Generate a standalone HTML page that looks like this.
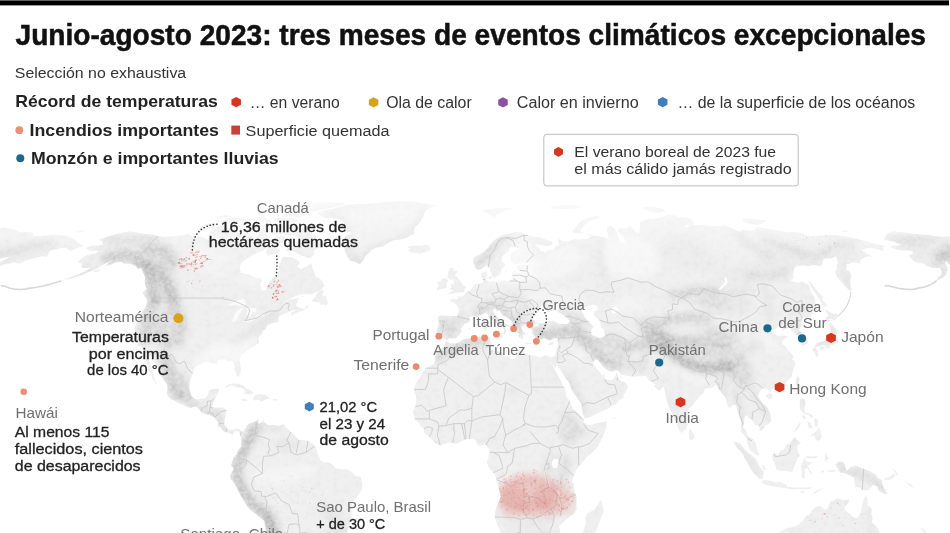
<!DOCTYPE html>
<html lang="es"><head><meta charset="utf-8"><title>Junio-agosto 2023: tres meses de eventos climáticos excepcionales</title>
<style>html,body{margin:0;padding:0;background:#fff;width:950px;height:533px;overflow:hidden}svg{display:block}text{font-family:'Liberation Sans', Arial, sans-serif}</style>
</head><body>
<svg width="950" height="533" viewBox="0 0 950 533" style="will-change:transform">
<rect width="950" height="533" fill="#fff"/>

<defs>
 <clipPath id="landclip"><path d="M86.2,247.3 89.3,246.4 92.3,245.5 94.1,245.6 95.8,245.7 97.6,245.8 100.5,245.1 103.4,244.4 102.9,242.8 102.4,241.3 101.1,240.7 99.8,240.1 98.4,239.6 101.0,238.7 103.6,237.9 107.1,236.8 110.6,235.6 113.3,234.8 116.1,234.0 118.8,233.2 121.5,232.7 124.1,232.2 126.7,231.7 129.4,231.2 130.9,231.4 132.3,231.7 133.8,231.9 135.3,232.1 136.8,232.3 138.6,232.7 140.3,233.0 142.1,233.4 143.9,233.7 145.6,233.9 147.4,234.0 149.1,234.2 150.9,234.4 152.6,234.5 154.3,235.0 156.0,235.5 157.7,235.9 159.5,236.2 161.4,236.5 163.3,236.8 165.2,236.7 167.1,236.6 169.0,236.5 171.3,236.3 173.6,236.2 176.1,235.9 178.5,235.5 181.0,235.2 183.5,234.8 186.1,234.3 188.8,233.7 189.8,234.5 190.9,235.4 191.9,236.2 194.0,236.3 196.0,236.4 198.1,236.5 200.2,236.6 202.2,236.8 203.8,237.5 205.3,238.2 206.9,238.9 208.5,239.7 210.1,240.4 212.3,240.4 214.5,240.4 216.7,240.4 218.8,240.4 221.0,240.4 223.5,240.0 226.0,239.6 228.5,239.1 231.0,238.7 232.9,239.2 234.7,239.6 236.6,240.1 238.4,240.5 240.3,241.0 242.8,240.5 245.3,240.0 247.9,239.6 249.5,239.9 251.1,240.1 252.7,240.4 255.2,238.3 257.7,236.2 258.5,233.4 259.4,230.7 261.2,230.0 263.1,229.3 264.2,229.6 265.2,229.9 265.3,232.0 265.5,234.3 266.9,235.4 268.3,236.5 269.8,237.6 271.0,238.5 272.3,239.5 273.5,240.4 275.4,238.2 277.3,235.9 279.2,235.9 281.1,235.9 283.0,235.9 284.8,235.9 284.5,237.9 284.1,239.9 283.0,241.4 281.9,243.0 279.4,243.5 276.9,244.1 274.4,244.7 272.0,245.0 269.6,245.3 266.4,247.9 263.3,250.5 260.8,251.4 258.4,252.4 255.9,253.4 252.6,255.3 249.2,257.2 245.4,259.7 241.7,262.3 240.6,264.8 239.6,267.4 240.1,270.2 240.7,272.9 242.9,273.3 245.1,273.7 247.3,274.1 249.5,274.5 251.2,275.4 252.8,276.3 254.5,277.2 256.2,278.2 258.3,278.4 260.4,278.6 262.5,278.8 261.6,281.0 260.7,283.2 259.9,285.4 260.9,288.0 262.0,290.7 263.9,290.4 265.9,290.1 267.3,286.9 268.7,283.8 270.2,280.7 273.2,278.6 276.2,276.6 277.5,274.0 278.8,271.4 279.0,268.3 279.2,265.3 280.2,263.0 281.2,260.8 282.0,258.7 282.8,256.6 285.0,256.8 287.2,256.9 289.4,257.1 291.7,257.2 293.5,258.2 295.4,259.2 297.3,260.2 298.6,261.2 299.9,262.3 298.6,264.5 297.3,266.8 299.3,267.9 301.2,268.9 304.1,267.6 307.0,266.2 309.1,264.5 311.3,262.9 311.8,265.3 312.3,267.7 313.2,270.0 314.2,272.3 315.1,274.5 315.9,276.6 317.5,277.6 319.1,278.6 320.8,279.6 322.4,280.7 323.3,283.6 324.3,286.6 322.2,288.5 320.1,290.4 317.3,291.7 314.6,293.0 311.8,294.2 309.6,294.2 307.3,294.2 305.1,294.2 302.8,294.2 300.6,294.2 298.2,295.2 295.8,296.1 293.4,297.1 291.2,298.3 288.9,299.5 286.6,300.6 283.8,302.6 281.1,304.5 284.1,302.8 287.2,301.1 290.2,299.4 292.6,299.0 294.9,298.6 297.2,298.2 299.5,297.7 298.5,299.8 297.6,301.9 296.0,303.9 296.9,307.1 298.9,307.5 300.9,308.0 302.9,308.4 305.3,309.4 308.4,307.1 307.5,304.5 305.6,307.4 303.7,310.4 300.9,311.3 298.1,312.3 295.9,313.4 293.8,314.5 291.6,315.6 291.1,312.6 293.6,311.3 296.1,310.0 294.2,310.0 292.3,310.0 290.4,311.2 288.6,312.3 286.0,313.3 283.4,314.3 281.7,314.9 279.9,315.6 277.8,318.5 278.9,321.5 277.1,322.5 274.6,322.8 271.8,323.6 269.0,324.4 267.3,325.7 266.4,328.1 263.6,331.0 262.5,329.0 262.5,331.0 262.5,333.0 261.0,334.8 259.5,336.6 258.3,337.3 258.7,340.1 259.1,342.9 256.0,344.9 253.8,346.3 251.6,347.6 249.6,348.8 247.6,349.9 245.0,351.9 243.2,353.2 241.4,354.6 240.5,357.1 239.5,359.5 240.0,362.5 240.5,365.5 240.7,368.4 240.9,371.2 240.4,373.0 239.9,374.8 238.6,376.5 236.9,376.2 235.9,372.8 235.1,371.0 234.3,369.2 234.4,367.4 234.5,365.5 233.5,362.2 231.7,360.5 230.1,361.0 228.5,361.5 227.1,360.4 225.7,359.2 223.6,359.2 221.6,359.2 219.6,359.7 217.5,360.2 217.4,363.2 215.6,363.4 213.8,363.5 211.9,362.7 210.1,361.9 207.6,361.7 205.2,361.5 202.2,362.9 199.6,364.4 197.1,365.9 194.0,368.5 193.3,371.2 192.6,373.8 191.7,376.3 190.8,378.8 190.2,381.2 189.7,383.5 189.2,385.8 189.5,388.5 189.9,391.1 190.9,393.8 191.9,396.4 193.4,397.6 194.9,398.7 197.0,399.7 199.5,399.1 202.0,398.4 203.8,398.2 205.7,398.1 207.8,395.1 208.4,392.8 209.0,390.4 211.8,389.6 214.6,388.8 216.7,388.8 218.8,388.8 219.1,390.8 217.9,393.1 216.7,395.4 215.9,397.4 215.0,399.4 213.2,402.7 212.7,404.9 212.1,407.0 214.9,407.7 217.0,407.5 219.2,407.4 221.5,407.5 223.9,407.7 225.3,409.0 226.7,410.3 226.2,412.8 225.7,415.3 225.0,417.9 224.4,420.6 224.4,422.4 224.4,424.2 225.8,426.4 227.2,428.5 230.0,430.5 232.8,429.8 235.8,428.2 237.9,428.8 240.0,429.5 241.8,431.8 243.3,431.5 245.1,428.8 246.1,427.0 247.0,425.2 249.4,423.6 251.3,423.1 253.2,422.6 255.1,421.6 257.0,420.6 259.7,418.9 257.8,421.6 258.8,423.9 260.7,422.7 262.6,421.6 263.3,419.6 264.3,421.9 266.2,423.6 268.0,425.2 270.7,425.0 273.5,424.9 276.0,425.4 278.5,425.9 280.7,425.2 282.8,424.6 284.4,424.6 286.0,424.6 284.2,426.2 286.2,427.9 288.3,429.5 290.5,431.5 292.4,433.1 294.3,434.8 296.5,437.4 299.3,440.1 301.8,440.1 304.4,440.1 306.2,440.4 308.1,440.7 310.3,442.1 312.6,443.4 314.8,445.7 316.2,448.3 316.7,450.8 317.3,453.3 319.0,456.6 319.7,458.6 320.4,460.5 322.0,461.5 323.5,462.5 325.5,462.4 327.5,462.2 330.0,463.3 332.4,464.5 334.0,466.5 335.6,468.5 338.0,468.8 340.4,469.1 342.8,469.2 345.2,469.3 347.5,469.5 349.7,470.8 351.8,472.1 353.7,474.1 355.6,476.1 358.0,476.4 360.5,476.7 361.6,479.7 362.1,482.2 362.6,484.6 362.2,487.1 361.9,489.6 360.6,491.7 359.4,493.9 357.8,495.5 356.1,497.2 354.4,500.0 352.6,502.8 352.0,505.3 351.4,507.8 351.5,511.1 351.6,514.4 351.7,517.7 350.9,521.0 350.1,524.3 349.1,526.8 348.2,529.3 347.3,532.6 344.7,535.6 343.1,535.8 341.4,536.0 339.5,536.5 337.6,537.0 335.4,538.1 333.1,539.3 331.1,541.4 329.1,543.6 328.3,545.6 327.6,547.6 327.9,550.4 328.2,553.2 327.2,555.8 326.2,558.3 325.3,560.9 323.0,564.2 320.7,567.5 319.1,570.0 317.4,572.5 315.4,573.6 313.3,574.7 311.2,575.8 310.0,579.1 308.8,582.5 307.7,585.8 305.3,587.4 303.0,589.1 300.7,590.7 298.5,592.4 296.3,594.6 294.2,596.8 292.1,598.9 290.0,600.9 287.9,602.9 285.8,604.8 283.8,606.8 281.7,608.8 279.2,608.8 276.6,608.8 274.0,608.8 271.4,608.8 270.7,605.5 270.1,602.2 269.4,598.9 268.8,595.7 268.2,592.4 267.4,589.1 266.7,585.8 266.0,582.5 266.5,580.0 267.0,577.5 267.2,574.7 267.5,572.0 267.7,569.2 267.2,565.9 266.8,562.5 266.4,559.2 266.0,555.9 265.8,552.6 266.2,549.2 266.6,545.9 266.4,543.3 266.2,540.6 266.0,537.9 266.0,535.5 265.9,533.1 265.9,530.6 265.3,527.3 264.8,524.0 264.2,520.7 262.5,519.4 260.9,518.0 259.2,516.7 257.5,515.4 255.2,513.7 253.0,512.1 250.6,509.9 248.3,507.8 245.8,504.5 244.5,502.0 243.1,499.5 241.4,496.7 239.6,493.9 238.3,490.9 237.0,487.9 235.6,485.5 234.2,483.0 232.6,481.3 230.9,479.7 230.4,477.5 229.9,475.4 231.3,473.2 232.7,471.1 233.7,468.1 230.9,465.8 231.5,463.7 232.2,461.5 232.8,459.4 233.4,457.2 235.0,455.9 236.6,454.6 237.5,451.3 239.2,449.0 241.0,446.7 241.2,444.0 241.4,441.4 241.2,439.4 241.0,437.4 240.1,435.1 239.2,432.8 237.1,430.5 234.4,431.8 233.6,433.6 232.8,435.5 231.2,434.1 229.5,433.3 227.9,432.5 225.9,432.2 223.9,431.8 222.2,429.7 220.5,427.5 218.0,426.2 218.5,423.2 217.1,421.2 215.7,419.3 213.7,416.9 210.9,416.0 209.0,415.1 207.1,414.3 205.2,414.0 203.2,413.6 201.8,412.3 200.4,411.0 198.8,409.2 197.2,407.4 194.8,406.4 192.8,407.2 190.9,408.0 188.8,407.5 186.8,407.0 185.1,406.0 183.4,405.0 180.7,404.0 178.0,403.0 176.5,401.9 175.0,400.7 173.0,400.1 171.0,399.4 169.4,397.7 167.8,396.1 166.2,392.8 167.5,389.8 167.4,387.5 167.3,385.1 165.5,382.8 164.2,380.7 162.8,378.5 161.5,376.8 160.3,375.2 160.0,373.2 159.8,371.2 158.7,369.5 157.6,367.9 156.4,365.9 155.1,363.9 154.4,360.9 153.8,357.9 151.9,356.4 150.1,354.9 149.4,357.4 148.8,359.9 149.7,362.0 150.6,364.2 151.0,366.4 151.4,368.5 152.4,371.0 153.5,373.5 154.0,376.5 154.6,379.5 155.8,381.3 157.1,383.1 155.5,384.1 155.2,381.8 153.7,380.2 152.3,378.5 151.9,376.7 151.5,374.8 149.7,371.8 148.4,370.5 147.1,369.2 148.4,366.5 147.5,364.2 146.6,361.9 145.4,358.6 145.1,356.6 144.7,354.6 144.4,352.2 144.0,349.2 142.3,347.9 140.6,346.6 138.9,345.9 137.3,345.3 137.4,342.6 136.0,339.3 135.7,336.6 136.2,334.0 135.4,332.3 134.7,330.7 134.7,328.4 134.8,326.1 136.2,323.8 137.7,321.5 138.1,319.5 138.5,317.5 140.2,314.9 142.1,312.3 143.6,309.7 145.2,307.1 145.9,305.3 146.6,303.5 146.8,301.8 147.0,300.0 145.9,298.4 144.6,296.3 143.3,294.2 142.4,292.3 144.8,290.7 147.1,289.1 146.3,287.9 145.5,286.6 145.0,284.1 144.6,281.6 145.3,278.5 144.8,276.8 144.3,275.1 143.5,273.5 142.7,272.0 142.1,270.2 141.5,268.3 139.7,268.6 137.9,268.9 137.0,267.6 136.1,266.2 134.4,265.4 132.6,264.7 130.7,264.2 128.7,263.8 126.4,263.8 124.0,263.8 122.6,262.7 121.2,261.7 118.8,262.0 116.5,262.3 113.5,263.6 110.6,265.0 107.8,265.6 105.1,266.2 107.0,264.2 109.0,262.3 111.5,261.2 113.9,260.2 111.3,261.1 108.8,262.0 106.2,262.9 103.5,264.5 100.8,266.2 96.0,269.2 92.7,270.5 89.4,271.7 86.7,272.9 83.9,274.1 81.2,275.4 78.9,276.1 76.6,276.8 74.3,277.5 71.2,278.3 68.1,279.1 65.0,279.9 61.9,280.7 64.2,279.7 66.4,278.8 69.7,277.5 72.9,276.3 76.3,275.2 79.6,274.1 82.9,272.5 86.2,270.8 90.3,267.7 88.3,267.9 86.2,268.0 84.1,268.0 82.0,268.0 81.6,267.0 81.1,265.9 83.1,263.8 81.7,263.5 80.3,263.2 78.9,262.9 78.3,261.1 81.5,258.4 85.6,255.4 87.6,255.0 89.5,254.6 91.6,254.2 93.6,253.8 95.7,253.4 98.9,250.8 97.1,250.6 95.3,250.5 93.5,250.5 91.6,250.5 89.7,250.5 88.5,250.0 87.3,249.6 86.6,248.1Z M890.2,247.3 891.2,246.4 892.2,245.5 894.2,245.6 896.2,245.7 898.1,245.8 899.3,245.1 900.5,244.4 896.2,242.8 891.9,241.3 889.1,240.7 886.4,240.1 883.7,239.6 884.2,238.7 884.7,237.9 885.3,236.8 885.9,235.6 886.5,234.8 887.1,234.0 887.7,233.2 889.1,232.7 890.4,232.2 891.8,231.7 893.1,231.2 895.2,231.4 897.3,231.7 899.4,231.9 901.4,232.1 903.5,232.3 906.2,232.7 908.8,233.0 911.5,233.4 914.2,233.7 916.3,233.9 918.5,234.0 920.7,234.2 922.9,234.4 925.1,234.5 928.0,235.0 930.8,235.5 933.7,235.9 936.3,236.2 938.9,236.5 941.5,236.8 943.1,236.7 944.8,236.6 946.4,236.5 948.4,236.3 950.3,236.2 951.9,235.9 953.5,235.5 955.1,235.2 956.7,234.8 957.9,234.3 959.1,233.7 962.3,234.5 965.5,235.4 968.7,236.2 971.0,236.3 973.3,236.4 975.7,236.5 978.0,236.6 980.4,236.8 983.8,237.5 987.2,238.2 990.6,238.9 994.0,239.7 997.5,240.4 999.6,240.4 1001.8,240.4 1004.0,240.4 1006.2,240.4 1008.4,240.4 1009.8,240.0 1011.3,239.6 1012.7,239.1 1014.2,238.7 1017.1,239.2 1020.1,239.6 1023.1,240.1 1026.1,240.5 1029.1,241.0 1030.4,240.5 1031.8,240.0 1033.1,239.6 1035.4,239.9 1037.8,240.1 1040.1,240.4 1037.3,238.3 1034.5,236.2 1028.1,233.4 1021.7,230.7 1021.7,230.0 1021.7,229.3 1023.6,229.6 1025.4,229.9 1031.3,232.0 1037.2,234.3 1041.5,235.4 1045.8,236.5 1050.1,237.6 1053.7,238.5 1057.3,239.5 1060.9,240.4 1057.1,238.2 1053.3,235.9 1055.2,235.9 1057.1,235.9 1059.0,235.9 1060.9,235.9 1065.5,237.9 1070.1,239.9 1072.8,241.4 1075.6,243.0 1074.4,243.5 1073.3,244.1 1072.1,244.7 1070.5,245.0 1068.8,245.3 1071.8,247.9 1074.7,250.5 1074.5,251.4 1074.3,252.4 1074.1,253.4 1075.1,255.3 1076.0,257.2 1077.8,259.7 1079.5,262.3 1083.9,264.8 1088.2,267.4 1094.3,270.2 1100.5,272.9 1103.4,273.3 1106.4,273.7 1109.3,274.1 1112.3,274.5 1115.8,275.4 1119.2,276.3 1122.7,277.2 1126.2,278.2 1128.7,278.4 1131.1,278.6 1133.6,278.8 1136.9,281.0 1140.1,283.2 1143.3,285.4 1149.0,288.0 1154.8,290.7 1156.2,290.4 1157.7,290.1 1153.5,286.9 1149.2,283.8 1144.8,280.7 1144.0,278.6 1143.2,276.6 1139.4,274.0 1135.6,271.4 1129.5,268.3 1123.4,265.3 1119.6,263.0 1115.8,260.8 1112.1,258.7 1108.2,256.6 1110.8,256.8 1113.3,256.9 1115.9,257.1 1118.4,257.2 1122.5,258.2 1126.5,259.2 1130.6,260.2 1134.1,261.2 1137.7,262.3 1141.2,264.5 1144.7,266.8 1148.8,267.9 1153.0,268.9 1153.0,267.6 1153.1,266.2 1151.7,264.5 1150.4,262.9 1156.0,265.3 1161.5,267.7 1167.2,270.0 1172.8,272.3 1177.9,274.5 1182.9,276.6 1186.5,277.6 1190.0,278.6 1193.5,279.6 1197.1,280.7 1203.5,283.6 1209.9,286.6 1211.2,288.5 1212.4,290.4 1211.8,291.7 1211.2,293.0 1210.6,294.2 1208.4,294.2 1206.1,294.2 1203.9,294.2 1201.6,294.2 1199.4,294.2 1198.6,295.2 1197.8,296.1 1197.0,297.1 1196.7,298.3 1196.3,299.5 1195.9,300.6 1196.2,302.6 1196.5,304.5 1196.8,302.8 1197.2,301.1 1197.5,299.4 1199.2,299.0 1200.8,298.6 1202.5,298.2 1204.2,297.7 1206.6,299.8 1208.9,301.9 1210.4,303.9 1216.2,307.1 1218.9,307.5 1221.6,308.0 1224.2,308.4 1228.0,309.4 1227.7,307.1 1222.9,304.5 1225.4,307.4 1227.9,310.4 1226.5,311.3 1225.1,312.3 1224.5,313.4 1223.9,314.5 1223.2,315.6 1218.5,312.6 1219.2,311.3 1219.8,310.0 1217.9,310.0 1216.0,310.0 1215.8,311.2 1215.6,312.3 1214.4,313.3 1213.2,314.3 1212.4,314.9 1211.6,315.6 1213.6,318.5 1218.6,321.5 1218.1,322.5 1216.1,322.8 1214.3,323.6 1212.6,324.4 1212.6,325.7 1214.7,328.1 1215.5,331.0 1211.9,329.0 1214.4,331.0 1216.8,333.0 1217.5,334.8 1218.1,336.6 1217.6,337.3 1221.2,340.1 1224.7,342.9 1223.7,344.9 1222.9,346.3 1222.1,347.6 1221.3,348.8 1220.5,349.9 1219.9,351.9 1219.4,353.2 1218.9,354.6 1220.4,357.1 1221.7,359.5 1224.9,362.5 1228.0,365.5 1230.6,368.4 1233.0,371.2 1234.0,373.0 1235.0,374.8 1234.8,376.5 1233.0,376.2 1229.4,372.8 1227.1,371.0 1224.9,369.2 1223.5,367.4 1222.0,365.5 1218.1,362.2 1214.8,360.5 1213.6,361.0 1212.5,361.5 1210.0,360.4 1207.6,359.2 1205.5,359.2 1203.5,359.2 1201.9,359.7 1200.4,360.2 1202.9,363.2 1201.3,363.4 1199.6,363.5 1197.0,362.7 1194.4,361.9 1191.8,361.7 1189.2,361.5 1187.4,362.9 1186.1,364.4 1184.9,365.9 1184.1,368.5 1185.5,371.2 1186.9,373.8 1187.8,376.3 1188.8,378.8 1189.9,381.2 1191.0,383.5 1192.0,385.8 1194.1,388.5 1196.2,391.1 1198.7,393.8 1201.2,396.4 1203.4,397.6 1205.5,398.7 1208.2,399.7 1210.3,399.1 1212.4,398.4 1214.2,398.2 1215.9,398.1 1216.4,395.1 1215.6,392.8 1214.9,390.4 1217.1,389.6 1219.4,388.8 1221.5,388.8 1223.6,388.8 1225.1,390.8 1225.3,393.1 1225.5,395.4 1225.8,397.4 1226.0,399.4 1225.9,402.7 1226.4,404.9 1226.9,407.0 1230.0,407.7 1232.0,407.5 1234.1,407.4 1236.5,407.5 1239.0,407.7 1241.0,409.0 1243.0,410.3 1243.5,412.8 1244.0,415.3 1244.4,417.9 1244.7,420.6 1245.3,422.4 1245.9,424.2 1247.9,426.4 1250.0,428.5 1253.2,430.5 1255.9,429.8 1258.4,428.2 1260.7,428.8 1263.0,429.5 1265.4,431.8 1266.8,431.5 1267.9,428.8 1268.4,427.0 1268.8,425.2 1270.7,423.6 1272.4,423.1 1274.1,422.6 1275.7,421.6 1277.3,420.6 1279.3,418.9 1278.4,421.6 1280.1,423.9 1281.7,422.7 1283.2,421.6 1283.2,419.6 1285.0,421.9 1287.4,423.6 1289.8,425.2 1292.5,425.0 1295.1,424.9 1297.8,425.4 1300.5,425.9 1302.4,425.2 1304.4,424.6 1306.0,424.6 1307.5,424.6 1306.2,426.2 1308.8,427.9 1311.3,429.5 1314.0,431.5 1316.3,433.1 1318.6,434.8 1321.3,437.4 1324.6,440.1 1327.1,440.1 1329.7,440.1 1331.6,440.4 1333.5,440.7 1336.0,442.1 1338.4,443.4 1341.0,445.7 1342.6,448.3 1343.4,450.8 1344.1,453.3 1345.9,456.6 1346.7,458.6 1347.4,460.5 1349.0,461.5 1350.5,462.5 1352.5,462.4 1354.5,462.2 1356.9,463.3 1359.3,464.5 1360.8,466.5 1362.3,468.5 1364.7,468.8 1367.1,469.1 1369.4,469.2 1371.8,469.3 1374.2,469.5 1376.2,470.8 1378.2,472.1 1379.9,474.1 1381.5,476.1 1383.9,476.4 1386.2,476.7 1387.0,479.7 1387.0,482.2 1386.9,484.6 1386.0,487.1 1385.0,489.6 1383.2,491.7 1381.4,493.9 1379.2,495.5 1377.1,497.2 1374.4,500.0 1371.6,502.8 1370.0,505.3 1368.4,507.8 1367.0,511.1 1365.6,514.4 1364.0,517.7 1361.5,521.0 1358.9,524.3 1356.4,526.8 1354.0,529.3 1351.0,532.6 1346.5,535.6 1344.7,535.8 1342.9,536.0 1340.7,536.5 1338.4,537.0 1335.4,538.1 1332.3,539.3 1328.7,541.4 1325.1,543.6 1322.8,545.6 1320.5,547.6 1318.6,550.4 1316.5,553.2 1313.4,555.8 1310.2,558.3 1306.9,560.9 1301.5,564.2 1296.0,567.5 1291.8,570.0 1287.6,572.5 1284.4,573.6 1281.2,574.7 1277.9,575.8 1273.1,579.1 1268.1,582.5 1263.1,585.8 1258.8,587.4 1254.5,589.1 1250.2,590.7 1245.8,592.4 1240.9,594.6 1235.9,596.8 1230.9,598.9 1226.2,600.9 1221.4,602.9 1216.5,604.8 1211.7,606.8 1206.8,608.8 1204.3,608.8 1201.7,608.8 1199.1,608.8 1196.6,608.8 1200.6,605.5 1204.4,602.2 1208.2,598.9 1212.0,595.7 1215.6,592.4 1218.9,589.1 1222.2,585.8 1225.3,582.5 1228.6,580.0 1231.9,577.5 1235.1,574.7 1238.2,572.0 1241.3,569.2 1244.1,565.9 1246.8,562.5 1249.5,559.2 1252.1,555.9 1254.7,552.6 1257.8,549.2 1260.9,545.9 1262.7,543.3 1264.5,540.6 1266.2,537.9 1267.8,535.5 1269.4,533.1 1270.9,530.6 1272.4,527.3 1273.7,524.0 1275.0,520.7 1274.0,519.4 1273.0,518.0 1272.0,516.7 1271.0,515.4 1269.5,513.7 1268.0,512.1 1266.7,509.9 1265.3,507.8 1264.1,504.5 1263.7,502.0 1263.3,499.5 1262.5,496.7 1261.6,493.9 1261.1,490.9 1260.6,487.9 1259.7,485.5 1258.9,483.0 1257.6,481.3 1256.2,479.7 1256.1,477.5 1255.9,475.4 1257.5,473.2 1259.1,471.1 1260.5,468.1 1257.7,465.8 1258.5,463.7 1259.3,461.5 1259.8,459.4 1260.4,457.2 1261.9,455.9 1263.4,454.6 1264.1,451.3 1265.7,449.0 1267.2,446.7 1267.1,444.0 1266.9,441.4 1266.4,439.4 1265.8,437.4 1264.4,435.1 1263.0,432.8 1260.3,430.5 1258.0,431.8 1257.6,433.6 1257.2,435.5 1255.3,434.1 1253.5,433.3 1251.6,432.5 1249.5,432.2 1247.5,431.8 1245.2,429.7 1242.9,427.5 1240.1,426.2 1239.7,423.2 1237.6,421.2 1235.5,419.3 1232.6,416.9 1229.5,416.0 1227.3,415.1 1225.1,414.3 1223.0,414.0 1220.9,413.6 1218.9,412.3 1217.0,411.0 1214.5,409.2 1212.1,407.4 1209.2,406.4 1207.7,407.2 1206.1,408.0 1203.8,407.5 1201.6,407.0 1199.4,406.0 1197.2,405.0 1194.0,404.0 1190.9,403.0 1188.8,401.9 1186.6,400.7 1184.3,400.1 1181.9,399.4 1179.5,397.7 1177.0,396.1 1173.4,392.8 1172.9,389.8 1171.3,387.5 1169.7,385.1 1166.4,382.8 1163.5,380.7 1160.6,378.5 1158.1,376.8 1155.6,375.2 1153.8,373.2 1152.0,371.2 1149.6,369.5 1147.1,367.9 1144.1,365.9 1141.2,363.9 1137.9,360.9 1134.5,357.9 1131.2,356.4 1127.9,354.9 1129.7,357.4 1131.4,359.9 1134.2,362.0 1137.0,364.2 1139.2,366.4 1141.4,368.5 1144.5,371.0 1147.5,373.5 1150.3,376.5 1153.1,379.5 1155.6,381.3 1158.2,383.1 1157.3,384.1 1155.3,381.8 1152.7,380.2 1150.1,378.5 1148.3,376.7 1146.5,374.8 1142.4,371.8 1140.1,370.5 1137.7,369.2 1136.7,366.5 1133.8,364.2 1130.9,361.9 1126.7,358.6 1124.5,356.6 1122.3,354.6 1119.6,352.2 1116.3,349.2 1113.2,347.9 1110.1,346.6 1107.8,345.9 1105.4,345.3 1102.7,342.6 1097.6,339.3 1094.3,336.6 1091.7,334.0 1088.9,332.3 1086.2,330.7 1083.4,328.4 1080.5,326.1 1079.0,323.8 1077.4,321.5 1075.1,319.5 1072.9,317.5 1071.0,314.9 1069.1,312.3 1066.8,309.7 1064.5,307.1 1062.5,305.3 1060.5,303.5 1057.9,301.8 1055.3,300.0 1051.6,298.4 1046.8,296.3 1042.1,294.2 1038.0,292.3 1037.6,290.7 1037.2,289.1 1034.2,287.9 1031.1,286.6 1026.1,284.1 1021.1,281.6 1015.9,278.5 1012.1,276.8 1008.3,275.1 1004.5,273.5 1000.7,272.0 996.3,270.2 992.0,268.3 990.8,268.6 989.7,268.9 986.0,267.6 982.2,266.2 978.9,265.4 975.6,264.7 972.7,264.2 969.7,263.8 967.4,263.8 965.1,263.8 961.4,262.7 957.7,261.7 956.0,262.0 954.3,262.3 954.2,263.6 954.2,265.0 952.7,265.6 951.2,266.2 949.0,264.2 946.9,262.3 947.1,261.2 947.2,260.2 946.6,261.1 945.9,262.0 945.3,262.9 946.1,264.5 946.9,266.2 948.4,269.2 947.6,270.5 946.7,271.7 946.4,272.9 946.1,274.1 945.8,275.4 944.9,276.1 944.0,276.8 943.1,277.5 941.5,278.3 939.9,279.1 938.3,279.9 936.6,280.7 937.1,279.7 937.6,278.8 938.5,277.5 939.3,276.3 940.6,275.2 941.8,274.1 941.7,272.5 941.6,270.8 939.6,267.7 937.8,267.9 936.1,268.0 934.0,268.0 931.9,268.0 929.3,267.0 926.6,265.9 924.2,263.8 922.1,263.5 920.1,263.2 918.0,262.9 913.6,261.1 910.9,258.4 908.4,255.4 909.4,255.0 910.3,254.6 911.5,254.2 912.7,253.8 913.9,253.4 911.0,250.8 908.9,250.6 906.8,250.5 904.9,250.5 903.0,250.5 901.1,250.5 898.9,250.0 896.7,249.6 892.6,248.1Z M359.8,264.4 357.8,263.3 355.7,262.3 353.9,261.8 352.1,261.3 350.3,260.8 348.7,258.6 347.1,256.3 345.9,253.8 344.8,251.3 344.5,249.4 344.3,247.6 343.1,244.7 343.5,242.5 343.9,240.4 344.5,238.3 345.1,236.2 347.6,235.3 350.1,234.3 352.6,233.4 350.7,232.7 348.8,232.0 347.0,231.4 345.1,230.7 344.8,228.9 344.5,227.2 344.0,224.9 343.4,222.6 342.5,221.3 341.6,220.0 339.8,219.6 338.0,219.1 336.2,218.7 334.4,218.2 332.4,218.2 330.4,218.2 328.4,218.2 326.5,218.0 324.7,217.7 322.8,217.4 321.6,216.5 320.5,215.5 319.3,214.6 318.2,213.7 318.1,212.5 320.6,211.6 323.2,210.8 325.7,210.1 327.9,209.7 330.1,209.3 332.3,208.9 334.8,208.2 337.2,207.5 339.6,206.8 342.0,206.2 344.2,205.7 346.5,205.3 348.7,204.8 350.7,204.7 352.7,204.5 354.7,204.3 356.7,204.2 358.7,204.0 360.6,203.9 362.5,203.9 364.4,203.9 366.3,203.8 368.2,203.8 370.2,203.6 372.2,203.4 374.2,203.1 376.2,202.9 378.2,202.7 380.2,202.5 382.1,202.3 384.1,202.1 386.1,201.9 388.0,201.7 390.0,201.6 391.9,201.5 393.8,201.4 395.7,201.3 397.6,201.1 399.4,201.2 401.2,201.2 403.0,201.2 404.8,201.3 406.6,201.3 408.5,201.3 410.3,201.3 412.1,201.5 413.8,201.6 415.6,201.7 417.3,202.1 419.1,202.5 420.8,202.8 422.5,203.2 424.3,203.6 426.1,203.8 427.9,204.0 429.8,204.2 431.6,204.4 433.4,204.6 435.2,204.9 437.1,205.2 438.9,205.5 436.9,206.0 435.0,206.6 433.0,207.2 430.9,207.7 428.8,208.9 426.7,210.1 425.4,211.9 424.0,213.7 423.6,216.2 422.2,218.7 420.7,221.3 418.2,223.9 415.7,226.6 414.8,228.6 414.0,230.7 414.6,233.4 412.3,234.4 410.0,235.4 407.4,237.6 405.1,238.3 402.8,238.9 400.5,239.6 398.3,239.7 396.1,239.8 393.9,239.9 391.5,241.1 389.0,242.4 386.4,244.3 383.7,246.1 381.8,246.5 379.8,246.9 377.9,247.3 375.8,248.0 373.7,248.8 371.7,249.6 369.9,251.9 367.7,254.1 365.4,256.3 364.2,258.6 363.1,260.8 361.5,262.6 359.8,264.4Z M410.6,252.5 409.2,251.0 407.9,249.6 409.5,249.2 411.2,248.7 409.0,248.1 406.9,247.6 409.2,246.6 411.6,245.5 413.3,245.7 414.9,245.8 416.8,245.8 418.6,245.8 420.5,245.8 422.4,245.4 424.3,245.1 426.2,244.7 427.8,245.1 429.4,245.5 429.2,247.9 431.3,248.7 429.5,250.0 427.7,251.3 426.0,251.9 424.2,252.5 421.9,253.1 419.5,253.7 417.3,253.2 415.1,252.8 412.8,252.7Z M314.8,254.0 313.0,255.6 311.2,257.2 309.7,257.7 308.3,258.1 306.5,257.2 304.7,256.3 302.6,255.9 300.5,255.4 299.2,254.6 297.8,253.7 296.0,252.7 294.3,251.6 292.3,251.5 290.3,251.4 288.3,251.3 287.1,250.8 285.9,250.2 288.2,247.9 290.2,247.8 292.2,247.7 294.2,247.6 296.2,247.6 299.8,244.7 302.1,242.4 301.2,240.8 300.3,239.3 298.7,238.5 297.1,237.8 295.5,237.0 295.2,234.8 292.9,235.1 290.6,235.4 288.9,235.2 287.2,235.0 285.5,234.8 283.6,234.3 281.8,233.9 279.9,233.4 278.2,233.4 276.5,233.4 274.8,233.4 273.1,233.4 272.6,232.0 272.1,230.7 274.9,228.1 277.7,225.5 279.7,225.3 281.7,225.0 283.7,224.7 285.7,224.5 287.7,224.5 289.7,224.6 291.7,224.7 293.8,224.7 295.4,225.4 297.1,226.1 298.8,226.7 300.5,227.4 301.8,228.1 303.2,228.7 304.6,229.3 306.2,230.2 307.8,231.1 309.5,232.0 310.9,232.8 312.3,233.5 313.7,234.3 314.8,235.2 316.0,236.2 316.8,239.0 318.1,239.9 319.3,240.9 320.6,241.8 322.2,242.7 323.8,243.5 325.2,245.0 323.1,246.0 321.0,247.0 318.7,248.0 316.4,249.0 313.9,250.8 314.3,252.4Z M267.9,256.0 270.1,255.2 272.3,254.4 274.5,253.6 276.7,252.8 278.5,252.4 280.3,251.9 279.3,250.8 278.4,249.6 277.0,248.6 275.7,247.7 274.3,246.7 272.3,246.4 270.2,246.1 266.3,249.0 266.2,250.9 266.0,252.8 267.0,254.4Z M241.4,237.0 239.6,237.1 237.8,237.2 236.0,237.3 234.2,237.3 233.0,236.8 231.8,236.2 229.5,236.9 227.2,237.5 224.9,238.2 223.0,238.2 221.0,238.2 219.1,238.2 217.1,238.2 215.2,238.2 213.9,237.0 212.6,235.9 211.2,235.1 209.7,234.3 209.2,232.3 212.0,230.4 211.1,229.0 213.6,228.2 216.2,227.4 218.8,226.6 221.3,225.8 222.9,226.1 224.5,226.5 226.1,226.8 227.7,227.1 229.3,227.4 231.3,227.2 233.2,226.9 235.2,226.6 235.6,228.0 236.1,229.3 236.8,231.1 237.6,232.9 239.5,233.2 241.4,233.4 241.4,235.2Z M201.5,231.5 200.3,230.9 199.1,230.2 197.9,229.6 199.9,228.1 201.8,226.6 204.4,225.0 207.0,223.4 208.9,223.3 210.7,223.3 212.6,223.2 214.5,223.2 215.6,223.8 216.7,224.4 217.9,225.0 213.8,227.2 209.8,229.3 207.0,230.0 204.2,230.8Z M247.1,230.1 249.2,230.2 251.2,230.3 253.3,230.3 255.3,230.4 257.5,229.0 259.6,227.7 260.2,226.1 260.8,224.5 259.1,224.4 257.3,224.3 255.5,224.3 253.8,224.2 251.2,225.5 248.5,226.9 247.8,228.5Z M261.4,229.3 263.0,229.3 264.6,229.3 267.3,228.4 270.1,227.4 271.7,225.9 273.2,224.5 271.3,224.3 269.3,224.2 267.3,224.1 265.4,223.9 263.6,225.5 261.9,227.2Z M244.4,239.9 246.8,239.5 249.3,239.1 251.7,238.7 253.4,236.2 251.5,235.8 249.7,235.4 247.3,236.5 244.9,237.6Z M273.9,222.1 275.7,222.2 277.5,222.4 279.3,222.5 281.1,222.6 282.9,222.8 284.7,222.9 286.8,222.8 288.9,222.8 291.0,222.7 293.0,222.7 295.1,222.6 298.9,220.0 297.5,219.5 296.1,219.0 294.7,218.5 293.3,218.0 291.5,217.9 289.7,217.8 287.9,217.7 286.1,217.6 284.3,217.5 282.6,217.4 280.6,217.8 278.5,218.1 276.5,218.4 274.5,218.7 274.2,220.4Z M281.6,217.4 283.6,217.1 285.7,216.7 287.8,216.4 289.9,216.0 291.9,215.7 293.4,216.1 294.9,216.6 296.3,217.0 297.8,217.5 299.3,218.0 302.1,216.8 304.9,215.7 307.5,214.2 310.1,212.7 312.6,212.0 315.1,211.2 317.6,210.5 319.9,210.0 322.3,209.4 324.6,208.9 326.6,208.5 328.5,208.2 330.5,207.8 332.4,207.5 334.8,206.8 337.3,206.2 339.7,205.5 341.7,205.0 343.6,204.5 345.6,204.0 344.1,203.6 342.6,203.1 341.1,202.7 339.4,202.6 337.6,202.5 335.9,202.4 334.2,202.2 332.5,202.1 330.6,202.2 328.7,202.2 326.8,202.2 325.0,202.2 323.1,202.3 321.2,202.3 319.3,202.3 317.3,202.5 315.2,202.7 313.2,202.9 311.1,203.0 309.0,203.2 307.0,203.4 304.9,203.6 302.8,203.8 300.6,204.1 298.3,204.5 296.0,204.8 293.8,205.1 291.5,205.5 288.5,206.5 285.5,207.5 286.7,208.0 287.8,208.5 289.0,209.1 290.2,209.6 291.2,210.3 292.1,211.0 293.2,211.7 290.6,212.5 288.0,213.2 285.9,213.9 283.8,214.7 282.7,216.0Z M283.7,212.5 282.3,211.9 280.9,211.2 279.7,210.5 278.5,209.7 277.4,208.9 279.8,207.5 282.2,206.2 283.7,206.3 285.3,206.4 286.8,206.5 288.4,206.6 288.6,207.7 288.9,208.9 286.3,210.7Z M248.4,220.8 246.3,221.1 244.2,221.3 242.1,221.6 240.0,221.8 237.9,222.1 235.8,222.4 233.9,222.2 232.0,222.0 230.1,221.8 228.3,221.5 226.6,221.2 224.9,220.9 223.2,220.5 226.1,219.1 229.0,217.7 231.0,217.5 233.0,217.3 235.0,217.1 237.0,216.9 239.0,216.7 240.3,217.2 241.6,217.7 242.9,218.2 244.2,218.7 245.8,218.7 247.5,218.7 249.2,218.7Z M263.3,221.3 261.7,221.1 260.0,220.9 258.4,220.7 256.8,220.5 257.0,218.0 259.3,217.6 261.6,217.3 263.9,216.9 265.1,217.5 266.2,218.1 267.4,218.7Z M269.8,222.1 267.9,222.0 265.9,221.9 263.9,221.8 266.6,219.8 268.1,219.9 269.7,220.1 271.2,220.3Z M225.5,218.2 223.4,218.2 221.4,218.2 219.4,218.2 217.4,218.2 215.9,217.7 214.4,217.2 217.1,216.6 219.7,216.0 222.3,215.5 224.9,214.9 226.4,215.1 228.0,215.3 229.5,215.5 231.1,215.7 228.3,216.9Z M263.4,214.2 261.6,213.9 259.9,213.7 258.2,213.4 256.4,213.2 259.4,212.2 262.3,211.2 264.0,211.5 265.6,211.9 267.3,212.2 268.9,212.5 266.2,213.3Z M311.3,301.6 313.0,299.5 314.7,297.4 316.0,295.3 317.3,293.3 319.3,291.5 321.3,289.8 322.7,289.9 324.1,290.1 323.2,292.8 322.2,295.5 324.2,296.0 326.2,296.5 326.6,298.2 326.9,300.0 328.0,302.9 326.3,305.8 325.0,305.2 323.8,304.5 322.1,304.7 320.4,304.8 319.2,302.6 317.2,302.3 315.2,302.1 313.3,301.8Z M224.7,387.6 227.7,385.0 229.9,384.2 232.2,383.5 234.2,383.5 236.3,383.5 239.0,384.1 241.2,385.0 243.5,385.8 245.0,387.1 246.5,388.5 248.3,389.3 250.2,390.1 252.1,391.4 254.0,392.8 251.9,393.8 249.3,393.9 246.7,394.0 244.1,394.1 245.7,391.8 244.1,390.1 242.6,388.5 239.9,387.8 237.2,387.1 235.4,386.8 233.6,386.5 231.1,385.1 228.8,386.3 226.5,387.5Z M252.8,398.4 254.4,396.6 256.0,394.8 258.0,394.4 260.0,394.1 262.8,394.4 265.5,394.8 268.2,396.4 269.6,398.4 267.5,398.9 265.3,399.4 263.1,400.4 260.9,401.4 259.4,399.7 256.7,400.1 254.0,400.4Z M241.8,399.1 243.7,399.1 245.7,399.1 247.5,400.4 244.6,401.4 241.9,400.4Z M273.0,398.7 275.2,398.9 277.4,399.1 277.0,400.4 274.9,400.6 272.8,400.7Z M300.3,295.2 302.4,296.0 304.5,296.9 306.6,297.7 304.4,297.3 302.3,296.8Z M24.4,396.7 27.3,395.4 25.6,393.1 24.6,394.8Z M23.7,390.8 25.6,391.1 24.3,391.8Z M19.9,388.5 21.3,389.5 20.2,389.5Z M16.3,386.5 17.7,386.5 16.8,387.5Z M93.2,272.3 95.9,271.8 98.7,271.4 101.0,269.2 99.3,269.5 97.6,269.9 95.4,270.6 93.2,271.4Z M951.7,272.3 953.6,271.8 955.4,271.4 953.4,269.2 952.3,269.5 951.3,269.9 950.6,270.6 949.9,271.4Z M446.6,340.6 444.8,339.0 443.0,336.6 440.3,337.3 437.9,337.3 438.3,334.0 436.5,331.7 437.1,329.4 438.2,326.7 438.8,323.4 438.7,320.2 437.5,317.9 438.8,316.2 440.9,315.2 442.9,315.4 444.8,315.6 446.7,315.7 448.7,315.9 450.6,315.9 452.5,315.9 454.7,316.1 456.9,316.2 458.0,314.3 458.5,311.0 458.8,307.8 456.5,305.2 455.3,303.5 452.8,301.9 450.2,301.6 449.5,300.0 451.2,299.4 452.8,298.7 454.3,299.0 455.8,299.4 458.1,299.0 456.9,295.8 458.6,296.8 460.4,296.6 462.1,296.5 464.1,295.2 465.6,293.3 466.1,291.7 467.8,291.4 470.3,290.4 471.5,288.8 472.9,286.9 473.4,285.4 475.8,284.1 477.3,283.9 478.7,283.8 481.2,283.5 482.8,282.5 483.2,280.7 482.4,277.9 481.1,277.2 481.2,275.5 481.2,273.8 482.1,272.6 484.3,272.3 485.5,271.5 486.8,270.8 486.4,272.6 486.1,274.5 487.8,274.8 486.0,277.2 485.1,278.5 485.9,280.3 488.1,281.0 488.7,282.2 490.1,281.9 491.6,281.6 493.7,280.7 496.3,282.5 497.8,282.1 499.3,281.6 501.7,280.7 503.2,280.2 504.8,279.7 506.8,280.7 509.0,281.0 511.3,279.4 512.8,278.2 512.4,276.0 511.8,273.5 513.3,271.4 515.3,270.8 517.3,272.9 519.2,272.9 519.5,270.2 517.9,268.9 517.0,267.1 519.1,265.6 521.4,265.3 523.2,265.3 524.9,265.3 526.3,265.1 527.7,265.0 529.1,264.5 530.6,264.1 532.5,264.1 530.9,263.6 529.3,263.2 526.8,262.3 525.1,262.4 523.3,262.6 521.6,262.9 519.9,263.2 518.2,263.6 516.6,264.1 514.2,263.8 511.6,262.0 511.0,259.3 510.9,256.9 510.0,254.9 511.1,253.8 512.2,252.8 513.5,252.1 514.7,251.3 515.8,250.5 516.9,249.6 518.5,248.4 516.6,247.3 514.2,246.7 512.9,246.7 511.6,246.7 509.7,247.9 509.3,249.6 508.0,251.9 505.9,253.4 504.8,254.3 503.6,255.1 501.7,256.6 501.6,259.3 501.6,262.0 503.0,262.6 504.3,263.2 505.6,264.7 504.0,266.8 502.7,267.9 501.4,268.9 500.9,272.0 500.0,274.5 499.1,275.4 497.8,275.7 496.5,276.0 495.9,277.9 494.5,277.9 493.0,277.9 492.7,276.6 491.6,275.1 492.0,273.8 490.2,271.7 489.6,269.2 488.2,267.1 487.0,265.9 486.4,264.4 485.6,266.2 484.0,267.1 481.7,268.9 480.0,269.4 478.2,269.9 476.3,268.9 474.8,267.4 474.8,265.6 473.8,263.8 473.2,261.4 473.1,259.0 473.8,257.2 475.8,256.0 477.3,255.4 478.7,254.9 480.9,253.4 482.4,252.7 483.8,251.9 485.7,249.9 487.1,248.7 488.4,247.6 489.4,245.5 491.2,243.3 492.3,242.1 493.4,241.0 495.4,239.6 497.4,238.2 498.8,237.3 500.1,236.5 501.3,235.9 502.5,235.4 504.0,235.0 505.6,234.5 507.2,234.3 508.7,234.0 510.3,233.6 511.8,233.2 513.3,232.6 514.8,232.0 516.9,232.0 518.6,232.2 520.2,232.3 522.4,232.6 524.1,233.3 525.9,234.0 528.2,234.8 529.4,235.4 531.1,235.9 532.9,236.5 534.7,236.7 536.6,236.9 538.4,237.0 540.8,237.7 543.1,238.4 545.6,239.4 548.0,240.4 549.8,241.1 551.7,241.8 552.7,243.8 550.9,245.5 549.1,245.8 547.3,246.1 545.3,245.7 543.4,245.4 541.5,245.0 539.8,244.8 538.1,244.7 536.4,244.5 534.7,244.4 533.0,243.0 534.6,244.5 536.2,246.1 537.9,247.6 539.7,249.0 539.9,250.8 541.4,251.0 543.0,251.3 545.4,252.2 547.3,250.5 549.3,250.3 551.2,250.2 552.9,250.5 553.5,248.4 554.9,247.3 556.2,246.1 557.8,245.8 559.4,245.5 559.2,242.7 557.4,240.4 558.5,239.7 559.6,239.0 562.4,241.0 564.7,241.3 567.0,241.5 569.0,241.0 571.0,240.4 572.9,239.7 574.8,239.0 576.9,239.3 579.0,239.6 580.7,239.3 582.5,239.0 584.6,238.9 586.7,238.7 588.1,238.2 589.5,237.6 590.6,236.5 591.8,235.4 593.5,235.5 595.1,235.6 597.5,236.1 599.8,236.5 602.1,236.8 604.4,237.0 606.1,237.9 607.8,238.7 609.4,239.1 611.0,239.6 609.1,237.9 607.3,236.2 608.0,233.4 606.7,230.7 607.4,228.0 608.3,226.7 609.2,225.5 611.2,226.3 613.2,227.2 614.5,228.9 615.8,230.7 616.6,232.7 617.3,234.8 618.2,237.1 619.0,239.5 619.8,241.8 621.9,242.8 624.1,243.8 625.3,241.8 624.5,239.7 623.7,237.6 621.9,235.5 620.0,233.3 618.2,231.2 618.6,229.6 618.9,228.0 621.1,228.2 623.4,228.5 625.1,228.4 626.8,228.3 628.5,228.2 628.6,226.7 628.8,225.3 631.2,227.5 633.6,229.8 636.1,232.0 639.0,233.4 639.5,230.7 639.9,228.0 640.2,225.3 639.4,222.6 640.6,221.9 641.8,221.2 643.0,220.5 644.7,220.1 646.4,219.7 648.1,219.2 650.0,219.0 651.9,218.8 653.7,218.7 655.6,218.5 657.4,218.2 659.2,218.0 661.0,217.7 662.5,217.1 663.9,216.4 665.1,215.9 666.3,215.4 667.4,214.9 668.6,214.4 670.3,214.7 672.0,214.9 673.7,215.2 677.9,217.4 679.9,217.4 681.9,217.4 683.9,217.4 685.9,217.4 688.7,218.2 691.5,219.0 692.7,220.8 693.9,222.6 693.7,224.7 691.6,224.7 689.6,224.7 687.7,225.0 685.9,225.3 684.9,225.9 683.9,226.6 686.6,227.4 688.0,226.5 689.3,225.6 690.6,224.7 692.8,224.9 695.0,225.1 697.3,225.3 698.9,225.1 700.4,224.9 702.0,224.7 704.5,225.3 707.1,225.8 709.7,226.3 711.7,226.3 713.7,226.2 715.8,226.1 717.8,226.1 719.4,225.9 721.0,225.7 722.7,225.5 724.3,225.3 727.3,226.2 730.3,227.2 735.0,229.9 737.8,231.1 740.6,232.3 741.0,231.1 741.4,229.9 743.3,230.0 745.3,230.2 747.2,230.4 749.3,230.4 751.4,230.4 753.6,230.4 754.8,229.6 756.1,228.8 756.4,227.2 758.9,227.5 761.4,227.8 763.8,228.2 766.3,228.5 768.9,228.9 771.5,229.4 774.0,229.8 776.6,230.2 779.2,230.7 782.3,231.5 785.3,232.3 787.4,232.3 789.4,232.2 791.5,232.1 793.5,232.0 795.6,232.3 797.7,232.5 799.8,232.7 801.9,232.9 807.3,235.6 809.1,235.8 810.8,235.9 812.6,235.9 814.4,235.9 816.2,235.9 818.2,235.7 820.1,235.6 822.0,235.4 823.5,235.1 824.9,234.8 826.4,234.5 828.9,234.8 831.4,235.1 833.6,235.2 835.9,235.3 838.2,235.4 840.8,235.7 843.4,236.1 846.0,236.5 849.1,237.2 852.1,237.9 855.1,238.5 858.1,239.2 861.1,239.9 864.0,240.7 866.9,241.5 869.8,242.4 872.5,243.1 875.2,243.7 877.9,244.4 880.2,244.9 882.5,245.4 884.8,245.8 883.9,246.7 882.9,247.6 883.2,249.2 883.5,250.8 880.5,250.2 877.6,249.6 874.1,248.6 870.6,247.6 868.8,247.9 866.9,248.1 865.5,248.9 864.1,249.6 862.7,249.9 861.4,250.2 864.8,252.2 868.3,254.3 872.5,256.6 870.7,256.5 868.9,256.4 867.1,256.3 865.6,257.0 864.0,257.7 862.5,258.4 861.4,259.6 860.4,260.8 860.2,262.3 859.9,263.8 857.5,263.3 855.0,262.8 852.6,262.3 851.0,263.0 849.4,263.8 848.0,264.1 846.5,264.4 846.5,266.8 846.1,268.3 845.7,269.9 849.0,270.8 850.0,272.6 851.1,274.5 851.3,276.6 850.8,278.6 850.4,280.7 850.5,283.0 850.5,285.4 851.2,287.7 851.7,290.1 851.0,291.7 848.3,289.3 845.6,286.9 843.5,284.6 841.4,282.2 839.3,279.9 837.1,277.5 836.3,275.2 835.4,272.9 835.6,270.5 836.9,269.2 836.9,267.3 836.8,265.3 837.4,264.1 838.0,262.9 837.5,260.7 836.9,258.5 836.2,256.3 834.7,256.8 833.2,257.4 831.7,257.9 830.2,258.4 828.0,258.5 825.8,258.6 823.6,258.7 823.0,260.5 822.3,262.3 822.7,265.3 820.8,265.7 818.9,266.2 816.0,265.6 813.1,265.0 811.2,265.4 809.2,265.9 807.2,265.8 805.1,265.7 803.1,265.6 801.2,265.7 799.3,265.8 797.5,265.9 795.9,266.8 794.2,267.7 793.8,270.2 793.5,272.0 793.1,273.8 793.3,276.5 793.4,279.1 791.5,279.6 789.7,280.0 792.0,281.1 794.4,282.2 796.4,282.5 798.5,282.8 799.9,282.2 801.2,281.6 804.7,283.0 808.1,284.4 809.0,286.1 809.8,287.9 810.3,289.8 810.7,291.7 812.8,294.9 814.9,298.1 815.1,300.5 815.3,302.9 814.9,305.3 814.4,307.8 813.9,310.2 813.3,312.6 812.2,314.3 811.2,315.9 809.2,317.2 807.3,318.5 805.4,317.9 803.5,317.2 802.6,318.2 801.7,319.2 801.7,321.6 801.7,324.1 801.7,325.7 800.4,327.4 799.2,329.0 798.3,330.0 801.4,332.3 803.8,334.8 806.2,337.3 807.1,339.3 808.0,341.3 808.1,343.6 806.5,344.3 804.2,345.3 801.8,345.9 800.6,343.6 800.3,340.6 798.8,337.6 798.0,335.0 796.6,335.0 795.1,335.0 793.2,332.3 791.3,331.0 791.3,329.0 788.9,327.7 787.4,328.2 785.9,328.7 784.6,329.7 783.3,330.7 782.2,331.4 783.0,328.1 782.7,325.7 780.1,324.4 778.2,326.1 776.4,328.1 774.5,330.0 772.8,331.0 773.3,333.0 776.5,335.0 778.5,336.6 780.7,335.7 782.7,335.7 784.7,335.7 787.7,336.3 787.4,337.6 785.8,338.3 784.1,339.0 782.9,341.3 782.0,343.9 785.5,346.3 786.9,348.4 788.3,350.6 791.1,353.2 792.8,355.2 793.6,357.6 791.5,358.9 794.0,360.5 795.3,362.2 794.9,365.5 793.6,367.9 792.9,371.2 791.9,373.8 791.7,376.2 790.4,377.8 788.8,379.2 786.7,381.8 785.2,384.1 783.5,384.5 781.8,384.8 779.8,386.1 777.9,386.5 775.4,387.8 773.4,388.5 771.5,389.1 770.2,392.4 768.4,390.4 767.2,388.5 764.4,388.5 761.7,389.1 759.9,391.4 758.4,394.1 758.1,397.1 760.2,399.7 762.7,403.0 764.6,404.9 766.6,406.7 768.7,409.7 769.5,412.0 770.4,414.3 770.8,416.5 771.2,418.6 770.9,421.9 769.5,423.1 768.1,424.2 765.3,425.5 764.1,428.2 761.5,430.8 759.6,431.5 759.6,429.7 759.6,427.9 758.2,425.5 755.4,425.2 753.7,421.9 751.7,419.6 749.0,417.9 747.1,415.6 745.1,415.6 744.5,418.6 744.2,421.1 743.9,423.6 743.3,426.9 745.5,429.5 746.8,432.5 747.4,434.3 747.9,436.1 750.6,437.4 752.7,439.4 755.0,441.7 756.3,445.0 756.7,448.3 757.9,451.6 758.8,454.9 756.9,455.6 754.0,453.3 752.2,451.8 750.5,450.3 749.4,448.5 748.4,446.7 747.9,444.5 747.4,442.4 747.2,439.1 745.4,437.1 743.2,434.1 741.2,432.5 741.2,430.5 741.2,428.5 741.5,425.2 741.1,422.7 740.7,420.3 739.8,417.8 738.8,415.3 738.1,412.8 737.4,410.3 736.8,407.8 736.2,405.4 733.3,404.4 730.9,407.7 728.0,407.0 727.3,404.5 726.5,402.1 725.9,399.9 725.4,397.7 722.9,394.4 720.2,391.1 718.4,388.8 717.3,385.8 715.0,385.1 713.9,387.1 711.3,387.8 708.6,388.5 705.8,388.5 704.4,390.1 703.6,392.8 701.1,395.1 699.4,396.4 697.5,399.4 695.0,401.7 693.1,405.0 690.8,407.4 689.2,408.0 687.8,411.0 688.3,413.3 688.8,415.6 688.4,417.9 688.0,420.3 688.0,422.2 688.0,424.2 686.8,426.2 685.8,429.2 683.9,430.5 682.0,433.1 680.3,431.8 678.4,428.5 677.5,426.0 676.6,423.6 675.7,421.6 674.7,419.6 673.8,417.4 672.9,415.3 672.0,413.1 671.1,411.0 670.0,409.0 668.8,407.0 668.0,404.5 667.2,402.1 666.5,399.6 665.8,397.1 665.4,394.6 664.9,392.1 664.3,389.1 663.4,386.5 661.9,388.1 660.1,391.1 657.1,389.5 654.1,386.1 655.9,384.5 653.6,383.8 651.6,381.8 648.7,380.5 647.2,377.8 645.8,375.8 644.3,376.0 642.8,376.2 640.8,376.2 638.7,376.2 636.6,376.3 634.6,376.5 632.1,376.5 630.5,376.2 629.0,375.8 626.9,375.7 624.8,375.5 623.1,375.2 621.4,374.8 619.4,372.2 618.0,370.2 615.8,370.2 613.2,371.5 610.5,371.5 607.6,370.5 604.6,368.2 602.1,365.5 600.4,363.2 598.1,360.2 595.3,359.2 594.1,360.9 592.9,362.5 594.7,365.9 597.3,369.2 600.1,372.2 601.2,374.5 602.3,377.8 602.5,375.7 602.7,373.5 604.3,375.2 604.6,378.5 607.3,379.8 610.1,380.2 612.8,379.5 615.2,376.2 616.5,373.5 617.3,372.8 617.5,375.0 617.8,377.2 618.9,379.5 621.3,381.2 624.1,381.8 627.3,385.1 628.2,386.1 627.3,388.3 626.5,390.4 625.3,392.4 623.5,394.4 623.5,397.4 622.0,398.4 620.6,399.4 619.1,400.6 617.7,401.7 616.4,403.7 614.4,404.5 612.3,405.4 610.6,406.9 608.8,408.3 606.5,409.3 604.2,410.3 602.1,411.2 600.0,412.0 597.3,413.6 595.2,414.6 593.2,415.6 591.1,416.6 589.0,417.6 586.2,418.3 584.5,417.9 583.8,416.0 583.2,414.0 582.5,412.0 581.8,408.7 581.9,405.4 580.3,402.1 577.6,398.7 576.5,396.9 575.4,395.1 574.0,393.3 572.6,391.4 570.7,388.1 569.9,384.8 568.3,381.5 565.8,378.8 563.9,375.5 562.8,373.7 561.7,371.8 560.5,370.0 559.2,368.2 557.7,366.5 557.4,364.4 557.1,362.2 556.4,365.0 555.7,367.9 553.5,365.9 552.0,363.3 550.5,360.7 550.8,362.2 552.1,364.5 554.0,367.9 555.3,371.2 557.2,374.5 559.1,377.8 561.0,381.2 561.9,383.3 562.7,385.5 564.5,387.8 565.1,389.9 565.7,392.1 566.1,395.4 567.7,398.7 569.8,401.1 571.0,404.0 572.1,407.0 573.6,409.3 576.0,411.0 578.4,413.6 581.3,416.9 583.7,418.6 584.3,420.9 583.0,421.9 585.3,423.2 587.9,425.5 590.7,424.9 593.6,424.2 596.3,423.2 598.2,422.9 600.0,422.6 601.8,422.2 603.7,421.9 605.3,421.4 607.0,420.9 606.8,423.1 606.6,425.2 605.9,428.5 605.2,430.7 604.4,432.8 603.5,435.1 602.5,437.4 601.3,439.7 600.1,442.1 599.0,444.0 597.9,446.0 596.2,448.2 594.5,450.3 592.8,451.8 591.1,453.3 589.1,454.9 587.1,456.6 585.6,458.6 584.0,460.5 582.4,462.5 580.8,464.5 578.0,467.8 576.0,470.8 575.2,472.6 574.5,474.4 573.3,477.4 572.7,479.4 572.1,481.3 574.0,484.0 574.0,486.0 573.9,487.9 574.3,490.4 574.6,492.9 576.5,495.5 576.6,498.4 576.6,501.2 576.5,503.6 576.4,506.1 576.8,509.4 575.3,511.6 573.7,513.7 571.1,515.7 568.5,517.7 566.7,519.0 565.0,520.4 563.0,522.4 561.1,524.3 559.0,526.0 559.6,528.2 560.2,530.3 560.3,532.3 560.5,534.3 560.3,536.8 560.1,539.3 557.2,541.9 555.0,543.1 552.9,544.3 552.1,547.6 551.6,549.7 551.2,551.9 549.9,555.2 548.4,556.9 546.9,558.6 545.5,560.5 544.1,562.5 541.5,565.0 538.8,567.5 536.7,569.2 534.5,570.8 532.7,571.7 530.9,572.5 528.9,572.5 526.9,572.5 524.9,572.5 522.9,573.0 520.8,573.5 518.1,574.3 515.4,575.2 513.8,574.3 512.2,573.5 511.2,572.5 510.8,569.2 510.5,565.9 509.6,563.4 508.8,560.9 507.8,557.7 506.9,554.6 505.6,552.4 504.3,550.2 503.7,548.1 503.0,545.9 502.6,543.4 502.1,540.9 501.9,538.1 501.7,535.3 500.4,532.0 499.1,528.7 497.7,525.7 496.4,522.7 495.6,520.2 494.8,517.7 494.8,515.2 494.9,512.7 495.6,509.8 496.4,506.8 497.4,504.5 498.4,502.2 499.6,499.5 500.8,496.9 500.1,494.1 499.4,491.2 498.6,487.9 497.7,485.1 496.9,482.3 496.4,479.7 495.8,476.4 494.5,474.6 493.3,472.8 491.7,470.9 490.1,469.1 488.1,465.8 486.7,462.5 487.4,460.7 488.1,458.9 488.7,456.6 489.1,454.1 489.6,451.6 489.0,448.3 487.3,446.7 485.6,444.7 483.0,445.0 480.1,445.7 478.1,445.4 477.3,443.5 476.4,441.7 474.4,439.4 472.9,439.1 471.3,438.8 469.3,438.9 467.3,439.1 465.0,439.7 463.3,440.6 461.6,441.4 458.8,443.1 455.9,444.0 453.1,443.1 450.2,442.7 447.4,443.1 444.5,444.0 442.4,444.7 440.2,445.4 437.4,444.4 434.5,442.4 431.7,439.4 429.2,437.1 426.6,434.8 424.1,432.2 423.8,429.2 421.3,426.9 419.6,424.2 417.7,421.6 414.9,419.6 414.5,417.8 414.1,416.0 413.0,412.6 412.2,411.3 413.9,409.7 415.1,406.4 415.6,404.2 416.1,402.1 416.4,398.7 415.9,395.4 414.3,392.4 413.8,390.4 414.3,388.5 414.8,386.5 415.7,384.6 416.6,382.8 418.6,379.5 420.7,376.2 422.1,373.2 424.4,370.5 426.2,367.5 428.1,366.9 430.0,366.2 431.9,365.0 433.7,363.9 435.1,360.5 434.9,357.2 435.5,355.2 436.1,353.2 437.4,351.4 438.6,349.6 441.4,348.3 443.3,346.9 444.7,343.9 445.8,341.3 447.4,341.0 449.5,343.3 452.2,343.3 454.9,343.6 457.6,342.9 460.3,341.3 462.9,339.6 465.6,339.0 467.6,338.5 469.6,338.0 471.6,337.8 473.6,337.6 475.6,337.5 477.6,337.3 479.6,337.3 481.6,337.3 483.1,337.5 484.5,337.6 486.1,337.0 487.7,336.3 489.1,337.6 490.9,337.0 489.7,339.3 490.8,341.9 491.4,343.3 490.1,345.6 488.8,347.6 490.8,348.6 492.7,350.2 495.4,351.2 497.6,350.9 499.2,351.4 500.9,351.9 503.1,353.2 504.6,355.6 506.2,356.4 507.9,357.2 510.0,358.1 512.1,358.9 514.8,359.2 516.3,356.6 515.9,353.9 517.4,351.9 520.0,350.9 521.7,351.2 523.3,351.6 524.8,353.2 527.6,353.9 530.1,355.2 531.9,355.4 533.6,355.6 535.7,356.2 537.8,356.9 540.6,357.6 543.2,356.2 545.8,355.2 548.6,356.2 551.4,356.9 553.0,356.6 554.6,356.2 555.5,353.9 556.1,351.2 556.4,349.6 557.3,347.6 558.2,345.3 557.9,342.6 557.4,340.6 558.2,338.6 556.6,338.3 554.4,338.0 552.5,339.6 549.9,340.3 548.0,340.0 545.7,338.6 543.2,338.0 542.6,339.6 539.9,339.6 537.6,338.3 535.2,338.0 534.5,336.0 533.3,334.0 531.6,333.0 532.5,331.4 532.1,329.4 530.4,329.0 530.8,327.1 533.3,326.1 534.9,326.1 536.5,326.1 539.0,324.8 537.8,323.4 536.4,323.9 535.0,324.3 532.4,324.4 530.6,325.4 529.8,324.8 527.1,324.4 524.5,324.8 523.4,326.4 521.7,325.4 521.0,326.7 521.7,329.0 523.1,330.0 521.9,331.0 523.9,332.3 525.3,333.3 525.4,335.0 523.2,334.3 522.8,336.0 523.6,339.0 521.7,339.3 520.5,337.6 519.5,338.0 518.2,335.3 518.9,333.3 517.5,332.7 516.6,331.0 514.9,329.0 514.0,327.4 512.6,326.1 512.7,324.1 512.3,321.5 510.9,320.2 509.7,319.2 507.8,317.9 505.7,316.6 503.6,315.9 502.2,314.3 500.8,313.0 499.9,311.0 498.3,310.0 497.4,311.7 496.5,310.4 496.7,308.7 494.9,308.7 493.2,310.0 493.6,312.6 494.4,314.3 496.8,315.9 498.6,319.2 501.0,320.8 502.3,321.0 503.6,321.1 503.4,322.5 505.9,323.8 507.4,324.6 508.9,325.4 510.3,327.1 508.7,327.4 506.8,326.1 505.3,327.4 505.4,329.4 506.8,330.7 505.3,332.7 504.1,334.3 503.0,333.3 504.0,331.7 504.4,329.7 502.9,327.4 501.0,326.4 499.4,325.4 498.3,324.1 495.6,323.1 493.7,321.8 491.8,319.8 490.5,319.2 488.9,317.5 488.0,314.6 486.1,313.6 484.3,313.0 482.8,314.6 481.0,314.9 479.7,315.6 478.5,316.9 476.7,317.2 474.6,316.2 473.3,315.9 471.7,315.9 469.7,317.2 469.4,319.2 470.0,321.1 467.4,323.1 465.8,323.6 464.2,324.1 463.7,325.1 461.6,327.4 460.8,329.4 462.1,331.4 460.3,333.0 459.5,335.3 457.6,336.0 456.3,338.3 453.6,338.3 451.7,338.3 449.9,338.3 448.3,339.0 447.2,340.3Z M-516.4,340.6 -516.4,339.0 -515.6,336.6 -519.0,337.3 -521.4,337.3 -517.2,334.0 -516.2,331.7 -512.8,329.4 -508.3,326.7 -503.5,323.4 -499.3,320.2 -497.4,317.9 -493.8,316.2 -490.3,315.2 -488.6,315.4 -486.9,315.6 -485.2,315.7 -483.4,315.9 -481.5,315.9 -479.6,315.9 -477.6,316.1 -475.6,316.2 -471.8,314.3 -466.6,311.0 -461.5,307.8 -459.9,305.2 -458.6,303.5 -458.6,301.9 -460.6,301.6 -458.8,300.0 -456.1,299.4 -453.4,298.7 -452.4,299.0 -451.4,299.4 -448.6,299.0 -444.6,295.8 -444.5,296.8 -442.4,296.6 -440.4,296.5 -436.3,295.2 -431.6,293.3 -428.4,291.7 -426.1,291.4 -422.0,290.4 -418.0,288.8 -413.2,286.9 -410.0,285.4 -405.3,284.1 -403.5,283.9 -401.8,283.8 -398.7,283.5 -395.4,282.5 -391.5,280.7 -387.0,277.9 -387.1,277.2 -383.7,275.5 -380.4,273.8 -377.0,272.6 -374.3,272.3 -371.5,271.5 -368.7,270.8 -372.7,272.6 -376.7,274.5 -375.7,274.8 -382.2,277.2 -385.5,278.5 -388.2,280.3 -387.2,281.0 -388.9,282.2 -386.9,281.9 -384.9,281.6 -381.0,280.7 -381.9,282.5 -379.5,282.1 -377.1,281.6 -373.0,280.7 -370.6,280.2 -368.2,279.7 -367.9,280.7 -366.3,281.0 -361.1,279.4 -357.1,278.2 -353.5,276.0 -349.1,273.5 -343.5,271.4 -340.2,270.8 -342.5,272.9 -340.6,272.9 -334.7,270.2 -333.8,268.9 -331.0,267.1 -325.7,265.6 -322.8,265.3 -321.0,265.3 -319.3,265.3 -317.6,265.1 -315.9,265.0 -313.5,264.5 -311.1,264.1 -309.2,264.1 -309.9,263.6 -310.5,263.2 -311.1,262.3 -313.1,262.4 -315.1,262.6 -317.5,262.9 -319.8,263.2 -322.5,263.6 -325.1,264.1 -326.9,263.8 -325.6,262.0 -320.3,259.3 -315.2,256.9 -311.5,254.9 -308.1,253.8 -304.6,252.8 -301.7,252.1 -298.8,251.3 -295.6,250.5 -292.5,249.6 -288.2,248.4 -287.4,247.3 -288.4,246.7 -289.7,246.7 -291.1,246.7 -295.6,247.9 -300.1,249.6 -306.8,251.9 -312.2,253.4 -315.4,254.3 -318.5,255.1 -323.7,256.6 -329.8,259.3 -335.6,262.0 -335.5,262.6 -335.5,263.2 -337.3,264.7 -343.4,266.8 -346.9,267.9 -350.4,268.9 -357.0,272.0 -362.8,274.5 -365.5,275.4 -367.4,275.7 -369.3,276.0 -373.5,277.9 -374.9,277.9 -376.4,277.9 -374.3,276.6 -372.4,275.1 -369.6,273.8 -367.1,271.7 -362.8,269.2 -359.8,267.1 -358.5,265.9 -355.9,264.4 -360.5,266.2 -364.0,267.1 -370.0,268.9 -372.7,269.4 -375.4,269.9 -375.5,268.9 -373.8,267.4 -370.1,265.6 -367.3,263.8 -362.7,261.4 -357.6,259.0 -353.0,257.2 -348.3,256.0 -345.6,255.4 -342.8,254.9 -337.2,253.4 -334.1,252.7 -331.0,251.9 -324.4,249.9 -320.3,248.7 -316.2,247.6 -310.5,245.5 -303.2,243.3 -299.3,242.1 -295.4,241.0 -289.8,239.6 -284.3,238.2 -280.8,237.3 -277.4,236.5 -274.8,235.9 -272.1,235.4 -269.5,235.0 -266.9,234.5 -264.6,234.3 -262.3,234.0 -259.7,233.6 -257.1,233.2 -254.1,232.6 -251.2,232.0 -249.0,232.0 -247.8,232.2 -246.5,232.3 -245.0,232.6 -245.1,233.3 -245.2,234.0 -245.0,234.8 -245.2,235.4 -244.9,235.9 -244.6,236.5 -243.2,236.7 -241.8,236.9 -240.5,237.0 -239.9,237.7 -239.3,238.4 -239.3,239.4 -239.4,240.4 -239.3,241.1 -239.2,241.8 -243.0,243.8 -248.9,245.5 -251.4,245.8 -253.9,246.1 -255.0,245.7 -256.0,245.4 -257.0,245.0 -258.4,244.8 -259.7,244.7 -261.1,244.5 -262.4,244.4 -260.6,243.0 -262.8,244.5 -265.1,246.1 -266.7,247.6 -268.3,249.0 -272.2,250.8 -271.4,251.0 -270.5,251.3 -270.1,252.2 -264.2,250.5 -261.9,250.3 -259.5,250.2 -258.5,250.5 -253.2,248.4 -249.1,247.3 -245.0,246.1 -242.8,245.8 -240.5,245.5 -233.8,242.7 -229.9,240.4 -227.1,239.7 -224.2,239.0 -226.4,241.0 -224.8,241.3 -223.2,241.5 -219.8,241.0 -216.4,240.4 -212.7,239.7 -209.0,239.0 -207.6,239.3 -206.3,239.6 -203.8,239.3 -201.4,239.0 -198.9,238.9 -196.4,238.7 -193.6,238.2 -190.8,237.6 -186.8,236.5 -182.8,235.4 -181.5,235.5 -180.2,235.6 -178.9,236.1 -177.6,236.5 -176.1,236.8 -174.5,237.0 -174.9,237.9 -175.3,238.7 -174.8,239.1 -174.2,239.6 -171.9,237.9 -169.5,236.2 -161.5,233.4 -155.7,230.7 -147.6,228.0 -143.3,226.7 -139.1,225.5 -139.3,226.3 -139.5,227.2 -143.1,228.9 -146.5,230.7 -151.2,232.7 -155.9,234.8 -161.0,237.1 -166.0,239.5 -171.1,241.8 -171.4,242.8 -171.6,243.8 -165.6,241.8 -161.1,239.7 -156.6,237.6 -153.0,235.5 -149.3,233.3 -145.6,231.2 -140.8,229.6 -136.1,228.0 -134.6,228.2 -133.0,228.5 -131.1,228.4 -129.1,228.3 -127.2,228.2 -123.0,226.7 -118.7,225.3 -122.5,227.5 -126.2,229.8 -129.9,232.0 -130.5,233.4 -122.8,230.7 -115.1,228.0 -107.3,225.3 -100.5,222.6 -97.2,221.9 -94.0,221.2 -90.7,220.5 -87.7,220.1 -84.7,219.7 -81.7,219.2 -79.2,219.0 -76.8,218.8 -74.3,218.7 -71.8,218.5 -69.2,218.2 -66.6,218.0 -64.0,217.7 -60.6,217.1 -57.1,216.4 -54.3,215.9 -51.5,215.4 -48.7,214.9 -45.9,214.4 -45.0,214.7 -44.1,214.9 -43.2,215.2 -46.4,217.4 -44.4,217.4 -42.3,217.4 -40.3,217.4 -38.3,217.4 -38.0,218.2 -37.6,219.0 -41.8,220.8 -46.0,222.6 -52.3,224.7 -54.4,224.7 -56.4,224.7 -59.0,225.0 -61.6,225.3 -64.5,225.9 -67.4,226.6 -66.9,227.4 -63.0,226.5 -59.2,225.6 -55.4,224.7 -53.7,224.9 -51.9,225.1 -50.2,225.3 -48.1,225.1 -46.1,224.9 -44.0,224.7 -42.9,225.3 -41.9,225.8 -40.8,226.3 -38.6,226.3 -36.4,226.2 -34.2,226.1 -32.0,226.1 -29.8,225.9 -27.6,225.7 -25.4,225.5 -23.2,225.3 -22.8,226.2 -22.4,227.2 -25.1,229.9 -25.6,231.1 -26.1,232.3 -22.4,231.1 -18.7,229.9 -17.3,230.0 -15.8,230.2 -14.4,230.4 -12.3,230.4 -10.1,230.4 -8.0,230.4 -4.6,229.6 -1.1,228.8 3.7,227.2 5.2,227.5 6.8,227.8 8.3,228.2 9.8,228.5 11.2,228.9 12.7,229.4 14.1,229.8 15.5,230.2 16.9,230.7 17.8,231.5 18.6,232.3 20.9,232.3 23.1,232.2 25.3,232.1 27.6,232.0 29.1,232.3 30.7,232.5 32.2,232.7 33.8,232.9 32.0,235.6 33.4,235.8 34.8,235.9 36.6,235.9 38.4,235.9 40.2,235.9 42.6,235.7 45.0,235.6 47.4,235.4 49.6,235.1 51.8,234.8 53.9,234.5 55.7,234.8 57.5,235.1 59.5,235.2 61.5,235.3 63.6,235.4 65.2,235.7 66.9,236.1 68.6,236.5 69.8,237.2 71.1,237.9 72.5,238.5 73.8,239.2 75.2,239.9 76.0,240.7 76.8,241.5 77.6,242.4 78.6,243.1 79.7,243.7 80.8,244.4 81.9,244.9 83.1,245.4 84.2,245.8 81.3,246.7 78.3,247.6 74.8,249.2 71.3,250.8 69.7,250.2 68.1,249.6 67.1,248.6 66.0,247.6 63.4,247.9 60.8,248.1 57.8,248.9 54.7,249.6 52.6,249.9 50.6,250.2 49.3,252.2 48.1,254.3 47.0,256.6 45.5,256.5 43.9,256.4 42.3,256.3 39.3,257.0 36.2,257.7 33.1,258.4 29.4,259.6 25.8,260.8 22.3,262.3 18.9,263.8 17.5,263.3 16.1,262.8 14.8,262.3 11.6,263.0 8.4,263.8 6.3,264.1 4.2,264.4 -0.9,266.8 -4.4,268.3 -7.9,269.9 -6.5,270.8 -9.1,272.6 -11.7,274.5 -15.7,276.6 -20.0,278.6 -24.3,280.7 -28.6,283.0 -32.8,285.4 -36.4,287.7 -40.0,290.1 -43.5,291.7 -42.1,289.3 -40.6,286.9 -38.4,284.6 -36.2,282.2 -33.9,279.9 -31.7,277.5 -28.0,275.2 -24.4,272.9 -19.2,270.5 -15.5,269.2 -11.4,267.3 -7.4,265.3 -4.2,264.1 -1.1,262.9 3.1,260.7 7.2,258.5 11.4,256.3 8.8,256.8 6.1,257.4 3.5,257.9 0.8,258.4 -1.6,258.5 -4.0,258.6 -6.4,258.7 -11.0,260.5 -15.5,262.3 -21.5,265.3 -24.4,265.7 -27.3,266.2 -28.9,265.6 -30.5,265.0 -33.4,265.4 -36.3,265.9 -38.1,265.8 -39.9,265.7 -41.8,265.6 -43.9,265.7 -45.9,265.8 -48.0,265.9 -51.5,266.8 -55.0,267.7 -60.4,270.2 -64.5,272.0 -68.5,273.8 -73.5,276.5 -78.4,279.1 -81.1,279.6 -83.9,280.0 -83.6,281.1 -83.2,282.2 -81.8,282.5 -80.3,282.8 -77.8,282.2 -75.2,281.6 -74.4,283.0 -73.5,284.4 -75.8,286.1 -78.0,287.9 -80.9,289.8 -83.8,291.7 -87.1,294.9 -90.3,298.1 -93.9,300.5 -97.5,302.9 -101.7,305.3 -105.9,307.8 -110.1,310.2 -114.2,312.6 -117.6,314.3 -121.0,315.9 -124.7,317.2 -128.4,318.5 -129.4,317.9 -130.4,317.2 -132.7,318.2 -135.0,319.2 -138.2,321.6 -141.5,324.1 -143.6,325.7 -147.0,327.4 -150.3,329.0 -152.4,330.0 -152.1,332.3 -152.6,334.8 -153.2,337.3 -154.5,339.3 -155.8,341.3 -158.2,343.6 -160.5,344.3 -163.9,345.3 -167.0,345.9 -165.7,343.6 -162.8,340.6 -160.9,337.6 -158.6,335.0 -160.1,335.0 -161.5,335.0 -160.3,332.3 -160.5,331.0 -158.2,329.0 -158.9,327.7 -161.1,328.2 -163.2,328.7 -165.7,329.7 -168.2,330.7 -170.1,331.4 -165.3,328.1 -162.5,325.7 -163.5,324.4 -167.5,326.1 -171.8,328.1 -176.1,330.0 -179.1,331.0 -180.9,333.0 -180.1,335.0 -180.1,336.6 -176.7,335.7 -174.7,335.7 -172.7,335.7 -170.5,336.3 -172.3,337.6 -174.7,338.3 -177.1,339.0 -180.9,341.3 -184.7,343.9 -183.7,346.3 -184.5,348.4 -185.3,350.6 -185.1,353.2 -185.3,355.2 -186.8,357.6 -190.1,358.9 -189.2,360.5 -189.3,362.2 -192.6,365.5 -195.8,367.9 -199.3,371.2 -202.3,373.8 -204.4,376.2 -206.8,377.8 -209.4,379.2 -213.5,381.8 -216.5,384.1 -218.5,384.5 -220.4,384.8 -223.3,386.1 -225.4,386.5 -228.7,387.8 -231.1,388.5 -233.5,389.1 -236.9,392.4 -237.4,390.4 -237.4,388.5 -240.2,388.5 -243.3,389.1 -246.5,391.4 -249.6,394.1 -251.6,397.1 -251.0,399.7 -250.2,403.0 -249.1,404.9 -248.1,406.7 -247.3,409.7 -247.4,412.0 -247.5,414.3 -248.0,416.5 -248.4,418.6 -249.8,421.9 -251.6,423.1 -253.4,424.2 -256.5,425.5 -258.5,428.2 -261.8,430.8 -263.9,431.5 -263.5,429.7 -263.0,427.9 -263.6,425.5 -266.4,425.2 -267.1,421.9 -268.2,419.6 -270.3,417.9 -271.4,415.6 -273.4,415.6 -275.0,418.6 -276.2,421.1 -277.4,423.6 -279.0,426.9 -277.5,429.5 -276.9,432.5 -276.8,434.3 -276.6,436.1 -274.3,437.4 -272.5,439.4 -270.5,441.7 -269.7,445.0 -269.7,448.3 -268.8,451.6 -268.1,454.9 -270.1,455.6 -272.9,453.3 -274.5,451.8 -276.1,450.3 -277.0,448.5 -277.9,446.7 -278.1,444.5 -278.3,442.4 -277.9,439.1 -279.3,437.1 -280.9,434.1 -282.6,432.5 -282.1,430.5 -281.6,428.5 -280.3,425.2 -279.9,422.7 -279.4,420.3 -279.5,417.8 -279.5,415.3 -279.2,412.8 -278.9,410.3 -278.3,407.8 -277.8,405.4 -280.2,404.4 -284.2,407.7 -286.8,407.0 -286.3,404.5 -285.8,402.1 -285.3,399.9 -284.7,397.7 -285.3,394.4 -286.1,391.1 -286.4,388.8 -285.5,385.8 -287.4,385.1 -289.8,387.1 -292.9,387.8 -296.0,388.5 -298.8,388.5 -301.3,390.1 -303.6,392.8 -307.4,395.1 -310.0,396.4 -313.5,399.4 -317.2,401.7 -320.7,405.0 -324.1,407.4 -326.0,408.0 -328.8,411.0 -329.2,413.3 -329.7,415.6 -330.9,417.9 -332.1,420.3 -332.8,422.2 -333.4,424.2 -335.3,426.2 -337.1,429.2 -339.4,430.5 -341.9,433.1 -343.3,431.8 -344.4,428.5 -344.5,426.0 -344.6,423.6 -345.0,421.6 -345.3,419.6 -345.4,417.4 -345.4,415.3 -345.4,413.1 -345.4,411.0 -345.7,409.0 -346.0,407.0 -345.6,404.5 -345.2,402.1 -344.6,399.6 -343.9,397.1 -342.9,394.6 -341.9,392.1 -340.7,389.1 -339.9,386.5 -342.4,388.1 -346.2,391.1 -348.1,389.5 -348.9,386.1 -346.1,384.5 -347.9,383.8 -348.5,381.8 -350.5,380.5 -350.1,377.8 -350.0,375.8 -351.6,376.0 -353.2,376.2 -355.3,376.2 -357.4,376.2 -359.5,376.3 -361.7,376.5 -364.2,376.5 -365.5,376.2 -366.8,375.8 -368.8,375.7 -370.8,375.5 -372.2,375.2 -373.7,374.8 -373.6,372.2 -373.3,370.2 -375.6,370.2 -379.2,371.5 -382.0,371.5 -384.0,370.5 -385.2,368.2 -385.4,365.5 -385.1,363.2 -384.7,360.2 -386.6,359.2 -389.3,360.9 -392.0,362.5 -393.1,365.9 -393.3,369.2 -392.9,372.2 -393.6,374.5 -394.9,377.8 -393.1,375.7 -391.3,373.5 -391.0,375.2 -393.1,378.5 -391.5,379.8 -388.9,380.2 -385.7,379.5 -380.9,376.2 -377.5,373.5 -376.2,372.8 -377.6,375.0 -379.0,377.2 -379.6,379.5 -378.4,381.2 -376.0,381.8 -375.1,385.1 -374.8,386.1 -377.1,388.3 -379.4,390.4 -381.8,392.4 -384.7,394.4 -386.4,397.4 -388.4,398.4 -390.4,399.4 -392.5,400.6 -394.5,401.7 -396.8,403.7 -399.2,404.5 -401.7,405.4 -404.1,406.9 -406.5,408.3 -409.3,409.3 -412.1,410.3 -414.5,411.2 -416.9,412.0 -420.4,413.6 -422.8,414.6 -425.3,415.6 -427.7,416.6 -430.2,417.6 -433.2,418.3 -434.8,417.9 -434.7,416.0 -434.6,414.0 -434.5,412.0 -433.8,408.7 -432.1,405.4 -432.1,402.1 -433.1,398.7 -433.2,396.9 -433.2,395.1 -433.5,393.3 -433.8,391.4 -433.7,388.1 -432.3,384.8 -431.6,381.5 -432.2,378.8 -431.6,375.5 -431.3,373.7 -431.0,371.8 -430.8,370.0 -430.5,368.2 -430.7,366.5 -429.1,364.4 -427.5,362.2 -430.7,365.0 -433.7,367.9 -434.3,365.9 -433.5,363.3 -432.8,360.7 -433.8,362.2 -434.6,364.5 -435.5,367.9 -436.9,371.2 -437.6,374.5 -438.2,377.8 -438.6,381.2 -439.3,383.3 -439.9,385.5 -439.6,387.8 -440.4,389.9 -441.2,392.1 -442.6,395.4 -442.9,398.7 -442.0,401.1 -442.4,404.0 -442.7,407.0 -442.2,409.3 -440.6,411.0 -439.3,413.6 -437.6,416.9 -435.9,418.6 -436.0,420.9 -437.8,421.9 -435.9,423.2 -433.9,425.5 -430.9,424.9 -427.9,424.2 -424.8,423.2 -422.9,422.9 -420.9,422.6 -419.0,422.2 -417.1,421.9 -415.2,421.4 -413.4,420.9 -414.3,423.1 -415.1,425.2 -416.8,428.5 -418.1,430.7 -419.4,432.8 -420.9,435.1 -422.3,437.4 -423.9,439.7 -425.6,442.1 -427.0,444.0 -428.3,446.0 -430.2,448.2 -432.1,450.3 -433.9,451.8 -435.7,453.3 -437.8,454.9 -439.8,456.6 -441.4,458.6 -443.0,460.5 -444.6,462.5 -446.1,464.5 -448.8,467.8 -450.5,470.8 -451.1,472.6 -451.6,474.4 -452.4,477.4 -452.7,479.4 -452.9,481.3 -450.5,484.0 -450.1,486.0 -449.7,487.9 -448.7,490.4 -447.6,492.9 -444.9,495.5 -444.0,498.4 -443.0,501.2 -442.2,503.6 -441.3,506.1 -439.5,509.4 -440.0,511.6 -440.6,513.7 -442.2,515.7 -443.9,517.7 -445.0,519.0 -446.0,520.4 -446.9,522.4 -447.7,524.3 -448.8,526.0 -446.9,528.2 -445.0,530.3 -443.6,532.3 -442.1,534.3 -440.6,536.8 -439.1,539.3 -440.1,541.9 -441.4,543.1 -442.7,544.3 -440.9,547.6 -439.6,549.7 -438.3,551.9 -436.8,555.2 -436.8,556.9 -436.9,558.6 -436.4,560.5 -436.0,562.5 -436.2,565.0 -436.4,567.5 -436.9,569.2 -437.4,570.8 -438.4,571.7 -439.3,572.5 -441.3,572.5 -443.3,572.5 -445.3,572.5 -446.8,573.0 -448.3,573.5 -450.2,574.3 -452.0,575.2 -454.5,574.3 -456.9,573.5 -459.0,572.5 -462.8,569.2 -466.4,565.9 -469.7,563.4 -472.8,560.9 -476.6,557.7 -480.4,554.6 -483.5,552.4 -486.6,550.2 -488.9,548.1 -491.2,545.9 -493.6,543.4 -495.9,540.9 -498.1,538.1 -500.3,535.3 -503.8,532.0 -507.2,528.7 -510.3,525.7 -513.3,522.7 -515.5,520.2 -517.6,517.7 -518.8,515.2 -519.9,512.7 -520.5,509.8 -521.0,506.8 -520.9,504.5 -520.8,502.2 -520.6,499.5 -520.3,496.9 -521.8,494.1 -523.3,491.2 -525.0,487.9 -526.5,485.1 -527.9,482.3 -528.9,479.7 -530.0,476.4 -531.5,474.6 -533.0,472.8 -534.8,470.9 -536.5,469.1 -538.7,465.8 -540.3,462.5 -539.6,460.7 -538.9,458.9 -538.3,456.6 -537.7,454.1 -537.2,451.6 -537.5,448.3 -539.0,446.7 -540.5,444.7 -543.1,445.0 -546.0,445.7 -548.0,445.4 -548.6,443.5 -549.2,441.7 -550.8,439.4 -552.3,439.1 -553.8,438.8 -555.8,438.9 -557.8,439.1 -560.2,439.7 -562.1,440.6 -563.9,441.4 -567.0,443.1 -570.0,444.0 -572.7,443.1 -575.5,442.7 -578.4,443.1 -581.4,444.0 -583.6,444.7 -585.9,445.4 -588.6,444.4 -591.1,442.4 -593.5,439.4 -595.6,437.1 -597.7,434.8 -599.6,432.2 -599.1,429.2 -601.0,426.9 -601.8,424.2 -602.9,421.6 -605.1,419.6 -604.8,417.8 -604.5,416.0 -604.2,412.6 -604.5,411.3 -602.1,409.7 -599.4,406.4 -597.8,404.2 -596.3,402.1 -594.2,398.7 -592.8,395.4 -592.7,392.4 -592.0,390.4 -590.2,388.5 -588.5,386.5 -586.4,384.6 -584.3,382.8 -579.9,379.5 -575.4,376.2 -571.6,373.2 -567.2,370.5 -563.0,367.5 -560.5,366.9 -558.0,366.2 -555.2,365.0 -552.4,363.9 -548.0,360.5 -545.1,357.2 -542.6,355.2 -540.1,353.2 -537.0,351.4 -533.9,349.6 -529.9,348.3 -526.6,346.9 -522.0,343.9 -518.0,341.3 -516.0,341.0 -516.4,343.3 -513.8,343.3 -511.4,343.6 -508.0,342.9 -503.5,341.3 -499.0,339.6 -495.6,339.0 -493.0,338.5 -490.5,338.0 -488.3,337.8 -486.1,337.6 -483.9,337.5 -481.7,337.3 -479.7,337.3 -477.7,337.3 -476.4,337.5 -475.2,337.6 -472.8,337.0 -470.5,336.3 -470.6,337.6 -468.0,337.0 -471.9,339.3 -473.7,341.9 -474.6,343.3 -478.3,345.6 -481.7,347.6 -480.8,348.6 -480.6,350.2 -478.8,351.2 -476.3,350.9 -475.2,351.4 -474.0,351.9 -473.1,353.2 -473.9,355.6 -473.1,356.4 -472.2,357.2 -470.9,358.1 -469.5,358.9 -467.1,359.2 -463.1,356.6 -461.0,353.9 -457.5,351.9 -453.9,350.9 -452.6,351.2 -451.3,351.6 -451.4,353.2 -449.3,353.9 -448.1,355.2 -446.5,355.4 -444.8,355.6 -443.4,356.2 -441.9,356.9 -439.8,357.6 -435.9,356.2 -432.3,355.2 -430.5,356.2 -428.3,356.9 -426.4,356.6 -424.5,356.2 -421.4,353.9 -418.2,351.2 -416.2,349.6 -413.2,347.6 -410.0,345.3 -407.4,342.6 -405.7,340.6 -402.6,338.6 -403.9,338.3 -405.7,338.0 -409.5,339.6 -412.8,340.3 -414.4,340.0 -415.1,338.6 -416.9,338.0 -419.4,339.6 -422.0,339.6 -422.8,338.3 -424.9,338.0 -423.3,336.0 -422.2,334.0 -422.7,333.0 -419.8,331.4 -417.8,329.4 -419.0,329.0 -416.2,327.1 -412.4,326.1 -410.8,326.1 -409.2,326.1 -405.1,324.8 -404.5,323.4 -406.5,323.9 -408.4,324.3 -411.2,324.4 -414.2,325.4 -414.2,324.8 -416.5,324.4 -419.5,324.8 -422.8,326.4 -423.2,325.4 -425.5,326.7 -427.7,329.0 -427.5,330.0 -430.0,331.0 -429.6,332.3 -429.4,333.3 -431.2,335.0 -432.6,334.3 -435.0,336.0 -437.6,339.0 -439.9,339.3 -439.2,337.6 -440.6,338.0 -438.8,335.3 -435.8,333.3 -436.4,332.7 -435.3,331.0 -434.6,329.0 -433.4,327.4 -433.1,326.1 -430.5,324.1 -427.5,321.5 -427.1,320.2 -426.9,319.2 -427.0,317.9 -427.4,316.6 -428.6,315.9 -427.6,314.3 -427.2,313.0 -425.2,311.0 -425.4,310.0 -428.7,311.7 -427.6,310.4 -425.1,308.7 -426.9,308.7 -430.5,310.0 -433.9,312.6 -435.4,314.3 -435.3,315.9 -438.1,319.2 -437.8,320.8 -436.8,321.0 -435.7,321.1 -437.6,322.5 -436.9,323.8 -436.4,324.6 -436.0,325.4 -436.7,327.1 -438.7,327.4 -438.9,326.1 -442.1,327.4 -444.4,329.4 -444.7,330.7 -448.5,332.7 -451.8,334.3 -451.7,333.3 -448.7,331.7 -445.9,329.7 -444.5,327.4 -445.1,326.4 -445.5,325.4 -444.9,324.1 -446.3,323.1 -446.4,321.8 -445.7,319.8 -446.1,319.2 -445.5,317.5 -442.3,314.6 -442.8,313.6 -443.7,313.0 -447.5,314.6 -449.7,314.9 -451.9,315.6 -455.0,316.9 -457.3,317.2 -458.0,316.2 -458.8,315.9 -460.4,315.9 -464.3,317.2 -467.2,319.2 -469.3,321.1 -474.5,323.1 -476.7,323.6 -478.9,324.1 -480.7,325.1 -485.8,327.4 -489.0,329.4 -490.1,331.4 -494.0,333.0 -497.5,335.3 -500.2,336.0 -504.2,338.3 -506.8,338.3 -508.7,338.3 -510.6,338.3 -512.9,339.0 -515.5,340.3Z M447.4,294.5 448.9,294.2 450.4,293.9 452.9,293.6 455.4,293.0 457.3,292.6 459.1,292.3 461.0,292.3 462.9,292.3 465.1,291.0 463.8,289.8 465.8,288.2 465.8,286.3 464.3,286.0 462.8,285.7 462.1,283.8 461.1,282.2 460.2,280.7 458.0,279.1 457.3,277.2 455.6,276.0 454.9,275.1 456.4,273.5 457.3,271.4 456.9,270.8 455.1,270.8 453.3,270.8 454.5,268.0 452.2,268.0 449.8,268.0 449.3,270.5 447.8,272.0 448.2,274.5 447.2,276.6 448.3,278.2 450.0,279.1 449.5,280.0 451.3,279.7 453.1,279.4 453.8,281.6 454.3,284.1 452.3,284.3 450.3,284.4 451.3,286.0 451.5,287.6 450.1,288.4 448.8,289.1 450.2,289.5 451.7,289.8 454.2,290.4 452.7,290.9 451.2,291.4 449.2,293.0Z M446.8,287.9 446.4,285.4 446.7,282.8 448.2,280.7 447.1,278.5 445.5,278.3 444.0,278.2 442.7,278.5 441.5,278.8 440.9,281.3 439.1,281.4 437.3,281.6 437.6,284.1 438.8,285.0 437.2,288.2 436.4,289.8 438.3,290.1 439.8,289.6 441.3,289.1 442.8,288.7 444.3,288.2Z M494.5,334.3 496.9,333.3 499.3,333.3 501.7,333.3 503.0,333.0 502.1,336.0 501.9,338.3 500.0,338.0 497.6,336.6 495.1,335.3Z M483.8,330.7 483.5,328.1 483.1,325.4 484.6,323.4 486.8,324.1 487.0,326.6 487.2,329.0 485.4,330.7Z M484.1,322.8 484.0,321.0 484.0,319.2 486.0,317.5 486.4,320.8 485.7,322.8Z M524.6,342.9 527.3,342.6 529.7,342.9 532.2,343.3 531.4,343.9 529.4,344.1 527.4,344.3 524.7,343.3Z M548.4,344.9 549.9,342.9 552.0,342.4 554.0,341.9 552.9,343.9 550.4,345.3Z M488.2,278.2 488.8,276.3 491.2,275.7 492.0,276.9 491.2,279.1 489.4,278.8Z M485.3,278.2 486.7,277.2 487.7,278.2 486.8,279.1Z M504.8,272.9 505.3,270.2 506.7,270.5 506.2,272.3Z M467.9,329.0 469.8,327.7 470.6,328.7 469.3,329.7Z M688.9,439.4 688.9,436.4 688.9,433.5 689.0,431.0 689.2,428.5 691.6,430.5 692.8,432.5 694.7,435.5 694.0,438.8 691.2,440.2 689.4,439.1Z M601.3,499.5 602.0,502.6 602.7,505.7 603.4,508.8 604.1,511.1 602.9,513.6 601.8,516.1 600.9,518.5 600.0,521.0 598.6,524.3 597.3,527.7 596.0,531.0 594.7,534.3 593.9,536.8 593.0,539.4 592.1,541.9 589.8,543.1 587.4,544.3 585.4,543.4 583.4,542.6 583.1,540.1 582.8,537.6 582.6,535.1 582.3,532.6 583.5,530.1 584.7,527.7 585.3,525.2 585.9,522.7 585.6,520.2 585.3,517.7 586.2,515.6 587.0,513.4 589.9,512.1 592.1,511.1 594.3,510.1 595.8,507.8 597.3,505.5 598.6,503.3 599.8,501.2Z M612.5,418.3 615.1,417.9 616.0,418.6 614.0,419.3Z M814.4,347.3 815.2,345.3 816.9,342.6 819.4,342.3 821.3,341.9 823.2,341.6 825.6,341.0 825.7,339.1 825.9,337.3 826.0,335.7 827.8,338.0 828.9,337.0 830.1,336.0 831.4,333.0 831.1,331.0 830.8,329.0 829.2,325.7 829.4,323.4 831.3,323.1 833.2,325.7 836.1,329.0 836.4,331.0 836.7,333.0 836.6,335.7 837.5,339.0 838.7,341.6 837.5,343.9 835.1,343.3 834.7,344.9 833.3,345.3 831.6,345.3 830.0,345.3 829.9,346.3 828.8,348.9 826.2,347.9 825.5,345.3 823.2,344.9 820.9,345.9 818.4,346.6 816.0,347.3Z M812.3,349.6 813.3,348.6 814.8,347.6 817.5,349.9 818.0,351.9 818.4,353.9 818.4,356.2 817.2,357.2 815.7,356.2 815.0,353.2 813.0,351.6Z M819.6,349.6 820.0,347.3 822.4,346.3 824.6,347.3 824.0,349.2 821.7,349.6 821.4,351.6Z M827.6,322.5 829.7,321.5 829.6,318.8 832.5,319.8 835.3,320.8 836.1,319.3 836.8,317.9 838.7,316.6 836.3,313.6 834.8,313.8 833.4,313.9 829.6,311.8 825.8,309.7 825.1,310.4 826.5,312.5 827.8,314.6 828.0,316.9 825.5,316.6 825.9,319.2Z M824.6,307.8 824.7,305.8 827.7,306.5 825.7,303.7 823.7,300.9 821.7,298.1 824.2,298.1 821.7,295.4 819.1,292.7 816.6,290.1 814.8,287.7 813.0,285.4 811.3,283.3 809.5,281.3 808.3,281.3 809.6,283.3 810.8,285.4 811.8,288.5 813.6,290.9 815.5,293.3 817.6,296.5 819.7,299.7 821.1,302.1 822.4,304.5Z M795.7,383.8 798.1,387.1 798.7,387.1 799.0,384.6 799.2,382.1 799.3,379.7 799.4,377.2 797.8,376.2 796.1,378.5 795.9,381.2Z M766.1,396.4 769.2,399.7 771.8,398.4 772.6,395.1 770.9,393.4 768.2,393.8 766.1,395.1Z M799.8,406.4 799.8,403.8 799.9,401.3 799.9,398.7 802.6,398.4 805.0,399.1 805.3,401.4 805.5,403.7 805.0,405.7 804.5,407.7 805.0,410.3 805.5,413.0 807.8,413.0 810.1,414.0 812.3,415.0 813.3,418.3 810.6,416.9 808.1,415.0 806.0,414.3 804.3,414.3 802.6,414.3 802.3,411.7 799.9,409.0Z M808.9,436.8 810.9,435.5 812.9,434.1 814.8,432.5 817.4,430.2 818.3,427.5 820.6,430.8 821.2,433.8 821.7,436.8 820.4,439.4 818.5,441.1 815.6,439.4 814.7,437.3 813.9,435.1 812.1,436.1 810.3,437.1Z M813.6,418.6 815.5,419.1 817.5,419.6 817.8,421.6 818.2,423.6 816.8,426.9 814.5,426.2 814.6,424.1 814.6,421.9Z M807.4,420.9 809.3,422.2 811.1,423.6 811.7,425.5 812.4,427.5 809.7,429.2 808.8,427.2 807.9,425.2 807.7,423.1Z M801.9,415.3 804.5,415.6 805.7,418.3 804.4,419.6 802.5,417.6Z M794.9,432.2 796.6,430.3 798.3,428.5 799.5,426.4 800.7,424.2 799.9,422.2 798.3,424.6 796.7,426.9 795.5,429.2 794.2,431.5Z M772.5,454.9 774.2,453.3 776.2,454.1 778.2,454.9 779.6,452.6 781.0,450.3 783.8,449.3 785.2,447.2 786.5,445.0 788.6,443.7 790.7,442.4 792.0,440.1 794.6,436.8 796.8,439.4 799.2,441.7 801.2,442.7 798.8,444.7 797.1,446.7 797.4,449.2 797.6,451.6 799.0,453.8 800.5,455.9 797.7,457.2 797.2,459.4 796.8,461.5 794.8,464.8 793.9,468.1 793.1,470.1 792.3,472.1 790.2,471.8 788.1,471.4 786.0,470.9 783.8,470.4 782.1,470.8 780.4,471.1 778.3,470.3 776.2,469.5 775.8,467.1 775.4,464.8 774.1,462.4 772.9,459.9 772.7,457.4Z M733.1,441.4 735.2,441.8 737.3,442.3 739.4,442.7 741.1,444.9 742.7,447.0 745.2,449.8 747.7,452.6 749.7,453.9 751.6,455.3 753.4,456.6 755.2,458.2 756.9,459.9 757.7,463.2 759.7,466.5 761.6,469.0 763.6,471.4 763.4,474.0 763.2,476.5 763.0,479.0 761.3,479.2 759.5,479.4 758.1,477.5 756.6,475.7 754.9,474.2 753.3,472.8 751.5,469.9 749.7,467.1 748.7,465.2 747.7,463.2 746.2,460.7 744.6,458.2 743.7,456.3 742.9,454.3 741.0,452.1 739.1,450.0 737.2,447.8 735.2,445.7 734.2,443.5Z M761.1,482.3 763.8,479.7 765.9,480.0 767.9,480.3 770.0,480.7 772.0,481.3 773.9,482.0 775.9,482.7 777.5,482.2 779.1,481.7 780.9,482.3 782.7,483.0 785.0,484.3 787.3,485.6 786.8,488.6 784.2,488.1 781.5,487.6 779.2,487.3 776.8,487.0 774.5,486.6 771.7,486.1 768.8,485.6 766.8,485.0 764.7,484.3 762.9,483.3Z M761.4,465.2 764.0,465.2 765.1,467.5 766.2,469.8 763.9,470.1 762.7,467.6Z M801.8,478.0 804.6,478.0 804.7,475.1 804.7,472.1 804.7,469.1 807.6,468.1 809.2,471.4 810.8,474.7 812.8,473.7 811.2,471.8 809.5,469.8 808.6,467.8 807.6,465.8 809.8,464.3 811.9,462.9 813.4,462.2 811.2,462.0 809.0,461.8 806.8,461.5 804.5,458.6 806.5,455.6 808.8,456.1 811.1,456.6 813.9,456.3 816.8,455.9 818.7,454.9 815.9,458.2 813.8,458.2 811.7,458.2 809.7,458.2 806.8,458.1 803.9,457.9 803.5,459.7 803.1,461.5 801.9,464.0 800.8,466.5 801.3,469.0 801.8,471.4 801.8,474.7Z M825.3,453.9 826.7,452.6 826.7,454.6 826.8,456.6 828.8,458.2 826.8,459.2 826.2,462.5 825.1,459.9 825.2,456.9Z M826.6,470.4 829.3,470.2 831.9,470.0 834.6,469.8 834.5,472.4 832.3,472.2 830.2,472.0 828.0,471.8Z M820.9,470.4 822.6,470.6 824.3,470.8 823.7,472.4 821.1,472.4Z M787.2,487.0 789.4,487.1 791.5,487.3 794.3,487.4 797.2,487.5 800.0,487.6 802.8,487.6 805.7,487.6 808.5,487.3 811.4,487.0 811.3,488.6 808.4,488.9 805.5,489.3 802.7,489.1 799.9,488.9 797.0,489.3 794.1,489.6 791.3,489.3 788.5,488.9Z M813.8,492.6 816.8,490.3 819.1,489.4 821.3,488.5 823.6,487.6 822.3,488.9 819.5,490.6 816.6,492.2 813.6,493.9Z M799.7,491.2 801.8,491.2 803.9,491.2 804.3,493.6 802.4,492.9 800.4,492.2Z M835.3,464.2 837.5,462.7 839.6,461.2 841.7,461.9 843.9,462.5 844.8,465.3 845.7,468.0 846.5,470.8 848.7,469.0 850.9,467.1 853.1,466.2 855.3,465.2 858.1,466.5 860.9,467.8 863.7,468.8 866.5,469.8 869.3,471.1 872.1,472.4 874.5,474.1 876.8,475.7 877.5,478.0 879.8,479.0 882.0,480.0 882.0,483.0 882.9,485.5 883.8,487.9 885.7,490.8 887.5,493.6 884.6,494.2 881.9,492.7 879.2,491.2 878.1,488.8 876.9,486.3 874.8,485.6 872.7,485.0 871.1,487.3 869.5,489.6 866.5,490.6 864.4,490.3 862.3,489.9 860.3,488.4 858.3,487.0 855.4,487.6 855.0,484.4 854.4,481.2 853.9,478.0 851.9,476.8 849.9,475.6 847.8,474.4 845.0,473.4 842.2,472.4 840.2,473.1 839.1,471.1 838.0,469.1 836.7,466.6Z M884.1,478.4 886.5,477.5 889.0,476.7 891.2,475.2 893.5,473.7 895.7,474.1 894.5,476.1 893.2,478.0 891.0,479.2 888.8,480.3 886.7,480.0 884.6,479.7Z M891.7,468.5 893.6,469.6 895.6,470.8 896.9,472.9 898.2,475.1 897.1,475.7 895.7,473.7 894.4,471.8Z M903.1,479.7 905.1,481.3 907.1,483.0 909.6,486.3 912.4,487.1 915.1,487.9 917.6,491.2 920.1,493.6 918.2,491.6 916.4,489.6 913.8,487.1 911.2,484.6 908.5,483.0 905.8,481.3Z M778.1,532.6 780.1,532.0 782.2,530.6 784.3,529.3 786.1,528.7 787.9,528.0 790.5,527.5 793.2,527.0 795.4,526.0 797.7,525.0 800.2,523.0 802.7,521.0 804.3,518.5 805.8,516.1 807.6,515.2 809.5,514.4 811.4,511.1 814.7,507.8 817.0,506.8 819.3,505.8 820.9,506.8 822.6,507.8 824.4,509.4 827.3,508.8 828.4,506.3 829.4,503.8 831.2,500.8 834.2,500.2 837.3,497.9 840.0,498.8 842.0,499.5 844.1,500.2 846.7,499.8 849.3,499.5 848.6,501.5 847.9,503.5 845.9,505.5 844.2,508.8 846.6,511.4 848.5,512.9 850.3,514.4 852.1,516.1 853.9,517.7 855.8,517.5 857.6,517.4 859.1,515.1 860.5,512.7 861.1,510.0 861.6,507.2 862.2,504.5 862.9,502.0 863.7,499.5 864.9,497.4 866.0,495.2 866.9,497.2 867.7,499.2 867.6,502.3 867.4,505.5 869.9,507.1 871.8,509.1 871.6,511.4 871.3,513.7 871.9,515.7 872.5,517.7 872.2,520.2 871.9,522.7 873.9,524.3 875.9,526.0 877.3,527.7 878.7,529.3 879.2,531.5 879.6,533.6 880.4,535.6 881.2,537.6 883.0,540.9 884.7,544.3 884.0,547.3 883.3,550.2 882.5,553.2 881.7,556.2 880.8,559.2 878.0,559.4 875.3,559.6 872.5,559.7 869.8,559.9 867.0,560.1 864.2,560.2 861.5,560.4 858.7,560.6 856.0,560.8 853.2,560.9 850.5,561.1 847.7,561.3 845.0,561.4 842.2,561.6 839.5,561.8 836.7,561.9 834.0,562.1 831.2,562.3 828.5,562.5 825.7,562.6 823.0,562.8 820.2,563.0 817.5,563.1 814.7,563.3 812.0,563.5 809.3,563.7 806.5,563.8 803.8,564.0 801.0,564.2 798.3,564.3 795.6,564.5 792.8,564.7 790.1,564.8 787.3,565.0 784.6,565.2 781.9,565.4 779.1,565.5 776.4,565.7 773.7,565.9 774.0,562.5 774.3,559.2 774.6,555.9 774.8,552.6 774.9,549.2 775.1,545.9 775.9,542.6 776.6,539.3 777.4,536.0Z M920.5,526.7 922.3,528.0 924.0,529.3 925.5,531.5 926.9,533.6 925.4,534.0 923.7,532.0 921.9,530.0Z M960.2,517.7 962.0,517.4 963.7,517.1 963.3,520.0 961.6,519.9 960.0,519.7Z M484.2,212.5 486.3,213.1 488.3,213.7 490.4,214.8 492.6,216.0 494.8,217.2 496.4,214.9 497.8,214.3 499.2,213.7 501.0,213.1 502.9,212.5 504.4,210.5 506.3,210.2 508.2,209.9 510.0,209.5 511.9,209.2 513.7,208.9 511.7,208.5 509.6,208.1 507.6,207.7 505.7,207.7 503.8,207.7 501.9,207.7 499.9,207.7 498.1,208.0 496.2,208.3 494.4,208.6 492.5,208.9 490.6,209.0 488.7,209.1 486.7,209.2 484.8,209.4 483.7,209.9 482.6,210.5Z M552.1,208.4 554.0,208.5 556.0,208.5 557.9,208.6 559.9,208.7 561.8,208.7 563.8,208.8 565.8,208.8 567.7,208.9 569.6,208.7 571.4,208.6 573.2,208.4 575.0,208.2 576.8,208.1 578.6,207.9 580.4,207.7 581.8,206.9 583.1,206.2 581.0,205.9 579.0,205.7 576.9,205.5 574.9,205.3 572.8,205.1 570.8,204.8 569.0,204.9 567.1,205.0 565.3,205.1 563.5,205.2 561.6,205.2 559.8,205.3 558.0,205.4 556.1,205.5 554.5,205.9 552.8,206.3 551.1,206.7 549.4,207.1Z M572.5,232.6 572.8,230.7 573.8,229.3 574.9,228.0 576.0,226.9 577.1,225.8 578.1,224.5 579.0,223.2 580.4,221.8 581.9,220.5 583.2,219.8 584.5,219.0 585.7,218.2 587.2,217.9 588.7,217.5 590.2,217.2 592.0,216.8 593.8,216.5 595.7,216.2 597.5,216.3 599.4,216.4 598.7,218.0 597.0,218.5 595.4,219.1 593.7,219.8 592.0,220.4 590.3,221.1 588.6,221.8 587.1,222.9 585.6,223.9 584.5,225.0 583.4,226.1 582.5,227.4 581.5,228.8 580.4,231.2 582.4,232.2 584.4,233.2 582.6,233.2 580.9,233.2 579.1,233.2 577.4,233.0 575.8,232.9 574.1,232.7Z M587.0,234.3 589.3,234.5 591.5,234.8 592.0,235.9 590.3,235.6 588.6,235.4Z M649.2,211.2 651.6,211.7 653.9,212.1 656.3,212.5 658.7,212.9 660.4,212.6 662.0,212.3 663.7,212.0 665.3,211.7 664.7,209.4 662.2,208.8 659.6,208.2 657.1,207.7 654.5,207.1 652.0,206.6 650.4,206.7 648.8,206.8 647.1,206.9 645.5,207.0 643.9,207.1 643.2,208.2 642.5,209.4 644.7,210.0 647.0,210.6Z M742.7,221.3 745.4,222.2 748.1,223.1 750.8,223.9 753.4,224.4 756.0,224.8 758.5,225.3 759.8,224.6 761.1,223.9 762.4,223.2 763.6,222.5 764.8,221.8 766.0,221.4 767.2,221.0 768.3,220.5 766.4,220.4 764.4,220.3 762.5,220.2 760.5,220.1 758.5,220.0 756.0,219.6 753.5,219.2 751.0,218.8 748.5,218.5 746.4,218.4 744.3,218.3 742.2,218.2 742.5,219.8Z M841.6,232.0 842.0,231.2 842.4,230.4 844.1,230.5 845.9,230.6 847.6,230.7 847.8,232.0 846.4,232.2 845.0,232.3 843.3,232.2Z M75.7,232.0 78.2,231.2 80.8,230.4 82.3,230.5 83.8,230.6 85.3,230.7 81.8,232.0 80.0,232.2 78.3,232.3 77.0,232.2Z"/></clipPath>
 <filter id="b3" x="-20%" y="-20%" width="140%" height="140%"><feGaussianBlur stdDeviation="3"/></filter>
 <linearGradient id="northfade" x1="0" y1="195" x2="0" y2="265" gradientUnits="userSpaceOnUse">
  <stop offset="0" stop-color="#fff" stop-opacity="0.75"/><stop offset="0.45" stop-color="#fff" stop-opacity="0.35"/><stop offset="1" stop-color="#fff" stop-opacity="0"/>
 </linearGradient>
 <filter id="b2" x="-20%" y="-20%" width="140%" height="140%"><feGaussianBlur stdDeviation="1.5"/></filter>
 <filter id="tex" filterUnits="userSpaceOnUse" x="0" y="180" width="950" height="353">
  <feGaussianBlur in="SourceGraphic" stdDeviation="3" result="bl"/>
  <feTurbulence type="fractalNoise" baseFrequency="0.25" numOctaves="3" seed="5" result="nz"/>
  <feColorMatrix in="nz" type="matrix" values="0 0 0 0 0  0 0 0 0 0  0 0 0 0 0  2.2 0 0 0 -0.6" result="na"/>
  <feComposite in="bl" in2="na" operator="arithmetic" k1="0.55" k2="0.6" k3="0" k4="0"/>
 </filter>
 <filter id="grain" filterUnits="userSpaceOnUse" x="0" y="180" width="950" height="353">
  <feTurbulence type="fractalNoise" baseFrequency="0.18" numOctaves="2" seed="11" result="nz"/>
  <feColorMatrix in="nz" type="matrix" values="0 0 0 0 0  0 0 0 0 0  0 0 0 0 0  0.06 0 0 0 -0.027"/>
 </filter>
</defs>
<g id="map">
 <path d="M86.2,247.3 89.3,246.4 92.3,245.5 94.1,245.6 95.8,245.7 97.6,245.8 100.5,245.1 103.4,244.4 102.9,242.8 102.4,241.3 101.1,240.7 99.8,240.1 98.4,239.6 101.0,238.7 103.6,237.9 107.1,236.8 110.6,235.6 113.3,234.8 116.1,234.0 118.8,233.2 121.5,232.7 124.1,232.2 126.7,231.7 129.4,231.2 130.9,231.4 132.3,231.7 133.8,231.9 135.3,232.1 136.8,232.3 138.6,232.7 140.3,233.0 142.1,233.4 143.9,233.7 145.6,233.9 147.4,234.0 149.1,234.2 150.9,234.4 152.6,234.5 154.3,235.0 156.0,235.5 157.7,235.9 159.5,236.2 161.4,236.5 163.3,236.8 165.2,236.7 167.1,236.6 169.0,236.5 171.3,236.3 173.6,236.2 176.1,235.9 178.5,235.5 181.0,235.2 183.5,234.8 186.1,234.3 188.8,233.7 189.8,234.5 190.9,235.4 191.9,236.2 194.0,236.3 196.0,236.4 198.1,236.5 200.2,236.6 202.2,236.8 203.8,237.5 205.3,238.2 206.9,238.9 208.5,239.7 210.1,240.4 212.3,240.4 214.5,240.4 216.7,240.4 218.8,240.4 221.0,240.4 223.5,240.0 226.0,239.6 228.5,239.1 231.0,238.7 232.9,239.2 234.7,239.6 236.6,240.1 238.4,240.5 240.3,241.0 242.8,240.5 245.3,240.0 247.9,239.6 249.5,239.9 251.1,240.1 252.7,240.4 255.2,238.3 257.7,236.2 258.5,233.4 259.4,230.7 261.2,230.0 263.1,229.3 264.2,229.6 265.2,229.9 265.3,232.0 265.5,234.3 266.9,235.4 268.3,236.5 269.8,237.6 271.0,238.5 272.3,239.5 273.5,240.4 275.4,238.2 277.3,235.9 279.2,235.9 281.1,235.9 283.0,235.9 284.8,235.9 284.5,237.9 284.1,239.9 283.0,241.4 281.9,243.0 279.4,243.5 276.9,244.1 274.4,244.7 272.0,245.0 269.6,245.3 266.4,247.9 263.3,250.5 260.8,251.4 258.4,252.4 255.9,253.4 252.6,255.3 249.2,257.2 245.4,259.7 241.7,262.3 240.6,264.8 239.6,267.4 240.1,270.2 240.7,272.9 242.9,273.3 245.1,273.7 247.3,274.1 249.5,274.5 251.2,275.4 252.8,276.3 254.5,277.2 256.2,278.2 258.3,278.4 260.4,278.6 262.5,278.8 261.6,281.0 260.7,283.2 259.9,285.4 260.9,288.0 262.0,290.7 263.9,290.4 265.9,290.1 267.3,286.9 268.7,283.8 270.2,280.7 273.2,278.6 276.2,276.6 277.5,274.0 278.8,271.4 279.0,268.3 279.2,265.3 280.2,263.0 281.2,260.8 282.0,258.7 282.8,256.6 285.0,256.8 287.2,256.9 289.4,257.1 291.7,257.2 293.5,258.2 295.4,259.2 297.3,260.2 298.6,261.2 299.9,262.3 298.6,264.5 297.3,266.8 299.3,267.9 301.2,268.9 304.1,267.6 307.0,266.2 309.1,264.5 311.3,262.9 311.8,265.3 312.3,267.7 313.2,270.0 314.2,272.3 315.1,274.5 315.9,276.6 317.5,277.6 319.1,278.6 320.8,279.6 322.4,280.7 323.3,283.6 324.3,286.6 322.2,288.5 320.1,290.4 317.3,291.7 314.6,293.0 311.8,294.2 309.6,294.2 307.3,294.2 305.1,294.2 302.8,294.2 300.6,294.2 298.2,295.2 295.8,296.1 293.4,297.1 291.2,298.3 288.9,299.5 286.6,300.6 283.8,302.6 281.1,304.5 284.1,302.8 287.2,301.1 290.2,299.4 292.6,299.0 294.9,298.6 297.2,298.2 299.5,297.7 298.5,299.8 297.6,301.9 296.0,303.9 296.9,307.1 298.9,307.5 300.9,308.0 302.9,308.4 305.3,309.4 308.4,307.1 307.5,304.5 305.6,307.4 303.7,310.4 300.9,311.3 298.1,312.3 295.9,313.4 293.8,314.5 291.6,315.6 291.1,312.6 293.6,311.3 296.1,310.0 294.2,310.0 292.3,310.0 290.4,311.2 288.6,312.3 286.0,313.3 283.4,314.3 281.7,314.9 279.9,315.6 277.8,318.5 278.9,321.5 277.1,322.5 274.6,322.8 271.8,323.6 269.0,324.4 267.3,325.7 266.4,328.1 263.6,331.0 262.5,329.0 262.5,331.0 262.5,333.0 261.0,334.8 259.5,336.6 258.3,337.3 258.7,340.1 259.1,342.9 256.0,344.9 253.8,346.3 251.6,347.6 249.6,348.8 247.6,349.9 245.0,351.9 243.2,353.2 241.4,354.6 240.5,357.1 239.5,359.5 240.0,362.5 240.5,365.5 240.7,368.4 240.9,371.2 240.4,373.0 239.9,374.8 238.6,376.5 236.9,376.2 235.9,372.8 235.1,371.0 234.3,369.2 234.4,367.4 234.5,365.5 233.5,362.2 231.7,360.5 230.1,361.0 228.5,361.5 227.1,360.4 225.7,359.2 223.6,359.2 221.6,359.2 219.6,359.7 217.5,360.2 217.4,363.2 215.6,363.4 213.8,363.5 211.9,362.7 210.1,361.9 207.6,361.7 205.2,361.5 202.2,362.9 199.6,364.4 197.1,365.9 194.0,368.5 193.3,371.2 192.6,373.8 191.7,376.3 190.8,378.8 190.2,381.2 189.7,383.5 189.2,385.8 189.5,388.5 189.9,391.1 190.9,393.8 191.9,396.4 193.4,397.6 194.9,398.7 197.0,399.7 199.5,399.1 202.0,398.4 203.8,398.2 205.7,398.1 207.8,395.1 208.4,392.8 209.0,390.4 211.8,389.6 214.6,388.8 216.7,388.8 218.8,388.8 219.1,390.8 217.9,393.1 216.7,395.4 215.9,397.4 215.0,399.4 213.2,402.7 212.7,404.9 212.1,407.0 214.9,407.7 217.0,407.5 219.2,407.4 221.5,407.5 223.9,407.7 225.3,409.0 226.7,410.3 226.2,412.8 225.7,415.3 225.0,417.9 224.4,420.6 224.4,422.4 224.4,424.2 225.8,426.4 227.2,428.5 230.0,430.5 232.8,429.8 235.8,428.2 237.9,428.8 240.0,429.5 241.8,431.8 243.3,431.5 245.1,428.8 246.1,427.0 247.0,425.2 249.4,423.6 251.3,423.1 253.2,422.6 255.1,421.6 257.0,420.6 259.7,418.9 257.8,421.6 258.8,423.9 260.7,422.7 262.6,421.6 263.3,419.6 264.3,421.9 266.2,423.6 268.0,425.2 270.7,425.0 273.5,424.9 276.0,425.4 278.5,425.9 280.7,425.2 282.8,424.6 284.4,424.6 286.0,424.6 284.2,426.2 286.2,427.9 288.3,429.5 290.5,431.5 292.4,433.1 294.3,434.8 296.5,437.4 299.3,440.1 301.8,440.1 304.4,440.1 306.2,440.4 308.1,440.7 310.3,442.1 312.6,443.4 314.8,445.7 316.2,448.3 316.7,450.8 317.3,453.3 319.0,456.6 319.7,458.6 320.4,460.5 322.0,461.5 323.5,462.5 325.5,462.4 327.5,462.2 330.0,463.3 332.4,464.5 334.0,466.5 335.6,468.5 338.0,468.8 340.4,469.1 342.8,469.2 345.2,469.3 347.5,469.5 349.7,470.8 351.8,472.1 353.7,474.1 355.6,476.1 358.0,476.4 360.5,476.7 361.6,479.7 362.1,482.2 362.6,484.6 362.2,487.1 361.9,489.6 360.6,491.7 359.4,493.9 357.8,495.5 356.1,497.2 354.4,500.0 352.6,502.8 352.0,505.3 351.4,507.8 351.5,511.1 351.6,514.4 351.7,517.7 350.9,521.0 350.1,524.3 349.1,526.8 348.2,529.3 347.3,532.6 344.7,535.6 343.1,535.8 341.4,536.0 339.5,536.5 337.6,537.0 335.4,538.1 333.1,539.3 331.1,541.4 329.1,543.6 328.3,545.6 327.6,547.6 327.9,550.4 328.2,553.2 327.2,555.8 326.2,558.3 325.3,560.9 323.0,564.2 320.7,567.5 319.1,570.0 317.4,572.5 315.4,573.6 313.3,574.7 311.2,575.8 310.0,579.1 308.8,582.5 307.7,585.8 305.3,587.4 303.0,589.1 300.7,590.7 298.5,592.4 296.3,594.6 294.2,596.8 292.1,598.9 290.0,600.9 287.9,602.9 285.8,604.8 283.8,606.8 281.7,608.8 279.2,608.8 276.6,608.8 274.0,608.8 271.4,608.8 270.7,605.5 270.1,602.2 269.4,598.9 268.8,595.7 268.2,592.4 267.4,589.1 266.7,585.8 266.0,582.5 266.5,580.0 267.0,577.5 267.2,574.7 267.5,572.0 267.7,569.2 267.2,565.9 266.8,562.5 266.4,559.2 266.0,555.9 265.8,552.6 266.2,549.2 266.6,545.9 266.4,543.3 266.2,540.6 266.0,537.9 266.0,535.5 265.9,533.1 265.9,530.6 265.3,527.3 264.8,524.0 264.2,520.7 262.5,519.4 260.9,518.0 259.2,516.7 257.5,515.4 255.2,513.7 253.0,512.1 250.6,509.9 248.3,507.8 245.8,504.5 244.5,502.0 243.1,499.5 241.4,496.7 239.6,493.9 238.3,490.9 237.0,487.9 235.6,485.5 234.2,483.0 232.6,481.3 230.9,479.7 230.4,477.5 229.9,475.4 231.3,473.2 232.7,471.1 233.7,468.1 230.9,465.8 231.5,463.7 232.2,461.5 232.8,459.4 233.4,457.2 235.0,455.9 236.6,454.6 237.5,451.3 239.2,449.0 241.0,446.7 241.2,444.0 241.4,441.4 241.2,439.4 241.0,437.4 240.1,435.1 239.2,432.8 237.1,430.5 234.4,431.8 233.6,433.6 232.8,435.5 231.2,434.1 229.5,433.3 227.9,432.5 225.9,432.2 223.9,431.8 222.2,429.7 220.5,427.5 218.0,426.2 218.5,423.2 217.1,421.2 215.7,419.3 213.7,416.9 210.9,416.0 209.0,415.1 207.1,414.3 205.2,414.0 203.2,413.6 201.8,412.3 200.4,411.0 198.8,409.2 197.2,407.4 194.8,406.4 192.8,407.2 190.9,408.0 188.8,407.5 186.8,407.0 185.1,406.0 183.4,405.0 180.7,404.0 178.0,403.0 176.5,401.9 175.0,400.7 173.0,400.1 171.0,399.4 169.4,397.7 167.8,396.1 166.2,392.8 167.5,389.8 167.4,387.5 167.3,385.1 165.5,382.8 164.2,380.7 162.8,378.5 161.5,376.8 160.3,375.2 160.0,373.2 159.8,371.2 158.7,369.5 157.6,367.9 156.4,365.9 155.1,363.9 154.4,360.9 153.8,357.9 151.9,356.4 150.1,354.9 149.4,357.4 148.8,359.9 149.7,362.0 150.6,364.2 151.0,366.4 151.4,368.5 152.4,371.0 153.5,373.5 154.0,376.5 154.6,379.5 155.8,381.3 157.1,383.1 155.5,384.1 155.2,381.8 153.7,380.2 152.3,378.5 151.9,376.7 151.5,374.8 149.7,371.8 148.4,370.5 147.1,369.2 148.4,366.5 147.5,364.2 146.6,361.9 145.4,358.6 145.1,356.6 144.7,354.6 144.4,352.2 144.0,349.2 142.3,347.9 140.6,346.6 138.9,345.9 137.3,345.3 137.4,342.6 136.0,339.3 135.7,336.6 136.2,334.0 135.4,332.3 134.7,330.7 134.7,328.4 134.8,326.1 136.2,323.8 137.7,321.5 138.1,319.5 138.5,317.5 140.2,314.9 142.1,312.3 143.6,309.7 145.2,307.1 145.9,305.3 146.6,303.5 146.8,301.8 147.0,300.0 145.9,298.4 144.6,296.3 143.3,294.2 142.4,292.3 144.8,290.7 147.1,289.1 146.3,287.9 145.5,286.6 145.0,284.1 144.6,281.6 145.3,278.5 144.8,276.8 144.3,275.1 143.5,273.5 142.7,272.0 142.1,270.2 141.5,268.3 139.7,268.6 137.9,268.9 137.0,267.6 136.1,266.2 134.4,265.4 132.6,264.7 130.7,264.2 128.7,263.8 126.4,263.8 124.0,263.8 122.6,262.7 121.2,261.7 118.8,262.0 116.5,262.3 113.5,263.6 110.6,265.0 107.8,265.6 105.1,266.2 107.0,264.2 109.0,262.3 111.5,261.2 113.9,260.2 111.3,261.1 108.8,262.0 106.2,262.9 103.5,264.5 100.8,266.2 96.0,269.2 92.7,270.5 89.4,271.7 86.7,272.9 83.9,274.1 81.2,275.4 78.9,276.1 76.6,276.8 74.3,277.5 71.2,278.3 68.1,279.1 65.0,279.9 61.9,280.7 64.2,279.7 66.4,278.8 69.7,277.5 72.9,276.3 76.3,275.2 79.6,274.1 82.9,272.5 86.2,270.8 90.3,267.7 88.3,267.9 86.2,268.0 84.1,268.0 82.0,268.0 81.6,267.0 81.1,265.9 83.1,263.8 81.7,263.5 80.3,263.2 78.9,262.9 78.3,261.1 81.5,258.4 85.6,255.4 87.6,255.0 89.5,254.6 91.6,254.2 93.6,253.8 95.7,253.4 98.9,250.8 97.1,250.6 95.3,250.5 93.5,250.5 91.6,250.5 89.7,250.5 88.5,250.0 87.3,249.6 86.6,248.1Z M890.2,247.3 891.2,246.4 892.2,245.5 894.2,245.6 896.2,245.7 898.1,245.8 899.3,245.1 900.5,244.4 896.2,242.8 891.9,241.3 889.1,240.7 886.4,240.1 883.7,239.6 884.2,238.7 884.7,237.9 885.3,236.8 885.9,235.6 886.5,234.8 887.1,234.0 887.7,233.2 889.1,232.7 890.4,232.2 891.8,231.7 893.1,231.2 895.2,231.4 897.3,231.7 899.4,231.9 901.4,232.1 903.5,232.3 906.2,232.7 908.8,233.0 911.5,233.4 914.2,233.7 916.3,233.9 918.5,234.0 920.7,234.2 922.9,234.4 925.1,234.5 928.0,235.0 930.8,235.5 933.7,235.9 936.3,236.2 938.9,236.5 941.5,236.8 943.1,236.7 944.8,236.6 946.4,236.5 948.4,236.3 950.3,236.2 951.9,235.9 953.5,235.5 955.1,235.2 956.7,234.8 957.9,234.3 959.1,233.7 962.3,234.5 965.5,235.4 968.7,236.2 971.0,236.3 973.3,236.4 975.7,236.5 978.0,236.6 980.4,236.8 983.8,237.5 987.2,238.2 990.6,238.9 994.0,239.7 997.5,240.4 999.6,240.4 1001.8,240.4 1004.0,240.4 1006.2,240.4 1008.4,240.4 1009.8,240.0 1011.3,239.6 1012.7,239.1 1014.2,238.7 1017.1,239.2 1020.1,239.6 1023.1,240.1 1026.1,240.5 1029.1,241.0 1030.4,240.5 1031.8,240.0 1033.1,239.6 1035.4,239.9 1037.8,240.1 1040.1,240.4 1037.3,238.3 1034.5,236.2 1028.1,233.4 1021.7,230.7 1021.7,230.0 1021.7,229.3 1023.6,229.6 1025.4,229.9 1031.3,232.0 1037.2,234.3 1041.5,235.4 1045.8,236.5 1050.1,237.6 1053.7,238.5 1057.3,239.5 1060.9,240.4 1057.1,238.2 1053.3,235.9 1055.2,235.9 1057.1,235.9 1059.0,235.9 1060.9,235.9 1065.5,237.9 1070.1,239.9 1072.8,241.4 1075.6,243.0 1074.4,243.5 1073.3,244.1 1072.1,244.7 1070.5,245.0 1068.8,245.3 1071.8,247.9 1074.7,250.5 1074.5,251.4 1074.3,252.4 1074.1,253.4 1075.1,255.3 1076.0,257.2 1077.8,259.7 1079.5,262.3 1083.9,264.8 1088.2,267.4 1094.3,270.2 1100.5,272.9 1103.4,273.3 1106.4,273.7 1109.3,274.1 1112.3,274.5 1115.8,275.4 1119.2,276.3 1122.7,277.2 1126.2,278.2 1128.7,278.4 1131.1,278.6 1133.6,278.8 1136.9,281.0 1140.1,283.2 1143.3,285.4 1149.0,288.0 1154.8,290.7 1156.2,290.4 1157.7,290.1 1153.5,286.9 1149.2,283.8 1144.8,280.7 1144.0,278.6 1143.2,276.6 1139.4,274.0 1135.6,271.4 1129.5,268.3 1123.4,265.3 1119.6,263.0 1115.8,260.8 1112.1,258.7 1108.2,256.6 1110.8,256.8 1113.3,256.9 1115.9,257.1 1118.4,257.2 1122.5,258.2 1126.5,259.2 1130.6,260.2 1134.1,261.2 1137.7,262.3 1141.2,264.5 1144.7,266.8 1148.8,267.9 1153.0,268.9 1153.0,267.6 1153.1,266.2 1151.7,264.5 1150.4,262.9 1156.0,265.3 1161.5,267.7 1167.2,270.0 1172.8,272.3 1177.9,274.5 1182.9,276.6 1186.5,277.6 1190.0,278.6 1193.5,279.6 1197.1,280.7 1203.5,283.6 1209.9,286.6 1211.2,288.5 1212.4,290.4 1211.8,291.7 1211.2,293.0 1210.6,294.2 1208.4,294.2 1206.1,294.2 1203.9,294.2 1201.6,294.2 1199.4,294.2 1198.6,295.2 1197.8,296.1 1197.0,297.1 1196.7,298.3 1196.3,299.5 1195.9,300.6 1196.2,302.6 1196.5,304.5 1196.8,302.8 1197.2,301.1 1197.5,299.4 1199.2,299.0 1200.8,298.6 1202.5,298.2 1204.2,297.7 1206.6,299.8 1208.9,301.9 1210.4,303.9 1216.2,307.1 1218.9,307.5 1221.6,308.0 1224.2,308.4 1228.0,309.4 1227.7,307.1 1222.9,304.5 1225.4,307.4 1227.9,310.4 1226.5,311.3 1225.1,312.3 1224.5,313.4 1223.9,314.5 1223.2,315.6 1218.5,312.6 1219.2,311.3 1219.8,310.0 1217.9,310.0 1216.0,310.0 1215.8,311.2 1215.6,312.3 1214.4,313.3 1213.2,314.3 1212.4,314.9 1211.6,315.6 1213.6,318.5 1218.6,321.5 1218.1,322.5 1216.1,322.8 1214.3,323.6 1212.6,324.4 1212.6,325.7 1214.7,328.1 1215.5,331.0 1211.9,329.0 1214.4,331.0 1216.8,333.0 1217.5,334.8 1218.1,336.6 1217.6,337.3 1221.2,340.1 1224.7,342.9 1223.7,344.9 1222.9,346.3 1222.1,347.6 1221.3,348.8 1220.5,349.9 1219.9,351.9 1219.4,353.2 1218.9,354.6 1220.4,357.1 1221.7,359.5 1224.9,362.5 1228.0,365.5 1230.6,368.4 1233.0,371.2 1234.0,373.0 1235.0,374.8 1234.8,376.5 1233.0,376.2 1229.4,372.8 1227.1,371.0 1224.9,369.2 1223.5,367.4 1222.0,365.5 1218.1,362.2 1214.8,360.5 1213.6,361.0 1212.5,361.5 1210.0,360.4 1207.6,359.2 1205.5,359.2 1203.5,359.2 1201.9,359.7 1200.4,360.2 1202.9,363.2 1201.3,363.4 1199.6,363.5 1197.0,362.7 1194.4,361.9 1191.8,361.7 1189.2,361.5 1187.4,362.9 1186.1,364.4 1184.9,365.9 1184.1,368.5 1185.5,371.2 1186.9,373.8 1187.8,376.3 1188.8,378.8 1189.9,381.2 1191.0,383.5 1192.0,385.8 1194.1,388.5 1196.2,391.1 1198.7,393.8 1201.2,396.4 1203.4,397.6 1205.5,398.7 1208.2,399.7 1210.3,399.1 1212.4,398.4 1214.2,398.2 1215.9,398.1 1216.4,395.1 1215.6,392.8 1214.9,390.4 1217.1,389.6 1219.4,388.8 1221.5,388.8 1223.6,388.8 1225.1,390.8 1225.3,393.1 1225.5,395.4 1225.8,397.4 1226.0,399.4 1225.9,402.7 1226.4,404.9 1226.9,407.0 1230.0,407.7 1232.0,407.5 1234.1,407.4 1236.5,407.5 1239.0,407.7 1241.0,409.0 1243.0,410.3 1243.5,412.8 1244.0,415.3 1244.4,417.9 1244.7,420.6 1245.3,422.4 1245.9,424.2 1247.9,426.4 1250.0,428.5 1253.2,430.5 1255.9,429.8 1258.4,428.2 1260.7,428.8 1263.0,429.5 1265.4,431.8 1266.8,431.5 1267.9,428.8 1268.4,427.0 1268.8,425.2 1270.7,423.6 1272.4,423.1 1274.1,422.6 1275.7,421.6 1277.3,420.6 1279.3,418.9 1278.4,421.6 1280.1,423.9 1281.7,422.7 1283.2,421.6 1283.2,419.6 1285.0,421.9 1287.4,423.6 1289.8,425.2 1292.5,425.0 1295.1,424.9 1297.8,425.4 1300.5,425.9 1302.4,425.2 1304.4,424.6 1306.0,424.6 1307.5,424.6 1306.2,426.2 1308.8,427.9 1311.3,429.5 1314.0,431.5 1316.3,433.1 1318.6,434.8 1321.3,437.4 1324.6,440.1 1327.1,440.1 1329.7,440.1 1331.6,440.4 1333.5,440.7 1336.0,442.1 1338.4,443.4 1341.0,445.7 1342.6,448.3 1343.4,450.8 1344.1,453.3 1345.9,456.6 1346.7,458.6 1347.4,460.5 1349.0,461.5 1350.5,462.5 1352.5,462.4 1354.5,462.2 1356.9,463.3 1359.3,464.5 1360.8,466.5 1362.3,468.5 1364.7,468.8 1367.1,469.1 1369.4,469.2 1371.8,469.3 1374.2,469.5 1376.2,470.8 1378.2,472.1 1379.9,474.1 1381.5,476.1 1383.9,476.4 1386.2,476.7 1387.0,479.7 1387.0,482.2 1386.9,484.6 1386.0,487.1 1385.0,489.6 1383.2,491.7 1381.4,493.9 1379.2,495.5 1377.1,497.2 1374.4,500.0 1371.6,502.8 1370.0,505.3 1368.4,507.8 1367.0,511.1 1365.6,514.4 1364.0,517.7 1361.5,521.0 1358.9,524.3 1356.4,526.8 1354.0,529.3 1351.0,532.6 1346.5,535.6 1344.7,535.8 1342.9,536.0 1340.7,536.5 1338.4,537.0 1335.4,538.1 1332.3,539.3 1328.7,541.4 1325.1,543.6 1322.8,545.6 1320.5,547.6 1318.6,550.4 1316.5,553.2 1313.4,555.8 1310.2,558.3 1306.9,560.9 1301.5,564.2 1296.0,567.5 1291.8,570.0 1287.6,572.5 1284.4,573.6 1281.2,574.7 1277.9,575.8 1273.1,579.1 1268.1,582.5 1263.1,585.8 1258.8,587.4 1254.5,589.1 1250.2,590.7 1245.8,592.4 1240.9,594.6 1235.9,596.8 1230.9,598.9 1226.2,600.9 1221.4,602.9 1216.5,604.8 1211.7,606.8 1206.8,608.8 1204.3,608.8 1201.7,608.8 1199.1,608.8 1196.6,608.8 1200.6,605.5 1204.4,602.2 1208.2,598.9 1212.0,595.7 1215.6,592.4 1218.9,589.1 1222.2,585.8 1225.3,582.5 1228.6,580.0 1231.9,577.5 1235.1,574.7 1238.2,572.0 1241.3,569.2 1244.1,565.9 1246.8,562.5 1249.5,559.2 1252.1,555.9 1254.7,552.6 1257.8,549.2 1260.9,545.9 1262.7,543.3 1264.5,540.6 1266.2,537.9 1267.8,535.5 1269.4,533.1 1270.9,530.6 1272.4,527.3 1273.7,524.0 1275.0,520.7 1274.0,519.4 1273.0,518.0 1272.0,516.7 1271.0,515.4 1269.5,513.7 1268.0,512.1 1266.7,509.9 1265.3,507.8 1264.1,504.5 1263.7,502.0 1263.3,499.5 1262.5,496.7 1261.6,493.9 1261.1,490.9 1260.6,487.9 1259.7,485.5 1258.9,483.0 1257.6,481.3 1256.2,479.7 1256.1,477.5 1255.9,475.4 1257.5,473.2 1259.1,471.1 1260.5,468.1 1257.7,465.8 1258.5,463.7 1259.3,461.5 1259.8,459.4 1260.4,457.2 1261.9,455.9 1263.4,454.6 1264.1,451.3 1265.7,449.0 1267.2,446.7 1267.1,444.0 1266.9,441.4 1266.4,439.4 1265.8,437.4 1264.4,435.1 1263.0,432.8 1260.3,430.5 1258.0,431.8 1257.6,433.6 1257.2,435.5 1255.3,434.1 1253.5,433.3 1251.6,432.5 1249.5,432.2 1247.5,431.8 1245.2,429.7 1242.9,427.5 1240.1,426.2 1239.7,423.2 1237.6,421.2 1235.5,419.3 1232.6,416.9 1229.5,416.0 1227.3,415.1 1225.1,414.3 1223.0,414.0 1220.9,413.6 1218.9,412.3 1217.0,411.0 1214.5,409.2 1212.1,407.4 1209.2,406.4 1207.7,407.2 1206.1,408.0 1203.8,407.5 1201.6,407.0 1199.4,406.0 1197.2,405.0 1194.0,404.0 1190.9,403.0 1188.8,401.9 1186.6,400.7 1184.3,400.1 1181.9,399.4 1179.5,397.7 1177.0,396.1 1173.4,392.8 1172.9,389.8 1171.3,387.5 1169.7,385.1 1166.4,382.8 1163.5,380.7 1160.6,378.5 1158.1,376.8 1155.6,375.2 1153.8,373.2 1152.0,371.2 1149.6,369.5 1147.1,367.9 1144.1,365.9 1141.2,363.9 1137.9,360.9 1134.5,357.9 1131.2,356.4 1127.9,354.9 1129.7,357.4 1131.4,359.9 1134.2,362.0 1137.0,364.2 1139.2,366.4 1141.4,368.5 1144.5,371.0 1147.5,373.5 1150.3,376.5 1153.1,379.5 1155.6,381.3 1158.2,383.1 1157.3,384.1 1155.3,381.8 1152.7,380.2 1150.1,378.5 1148.3,376.7 1146.5,374.8 1142.4,371.8 1140.1,370.5 1137.7,369.2 1136.7,366.5 1133.8,364.2 1130.9,361.9 1126.7,358.6 1124.5,356.6 1122.3,354.6 1119.6,352.2 1116.3,349.2 1113.2,347.9 1110.1,346.6 1107.8,345.9 1105.4,345.3 1102.7,342.6 1097.6,339.3 1094.3,336.6 1091.7,334.0 1088.9,332.3 1086.2,330.7 1083.4,328.4 1080.5,326.1 1079.0,323.8 1077.4,321.5 1075.1,319.5 1072.9,317.5 1071.0,314.9 1069.1,312.3 1066.8,309.7 1064.5,307.1 1062.5,305.3 1060.5,303.5 1057.9,301.8 1055.3,300.0 1051.6,298.4 1046.8,296.3 1042.1,294.2 1038.0,292.3 1037.6,290.7 1037.2,289.1 1034.2,287.9 1031.1,286.6 1026.1,284.1 1021.1,281.6 1015.9,278.5 1012.1,276.8 1008.3,275.1 1004.5,273.5 1000.7,272.0 996.3,270.2 992.0,268.3 990.8,268.6 989.7,268.9 986.0,267.6 982.2,266.2 978.9,265.4 975.6,264.7 972.7,264.2 969.7,263.8 967.4,263.8 965.1,263.8 961.4,262.7 957.7,261.7 956.0,262.0 954.3,262.3 954.2,263.6 954.2,265.0 952.7,265.6 951.2,266.2 949.0,264.2 946.9,262.3 947.1,261.2 947.2,260.2 946.6,261.1 945.9,262.0 945.3,262.9 946.1,264.5 946.9,266.2 948.4,269.2 947.6,270.5 946.7,271.7 946.4,272.9 946.1,274.1 945.8,275.4 944.9,276.1 944.0,276.8 943.1,277.5 941.5,278.3 939.9,279.1 938.3,279.9 936.6,280.7 937.1,279.7 937.6,278.8 938.5,277.5 939.3,276.3 940.6,275.2 941.8,274.1 941.7,272.5 941.6,270.8 939.6,267.7 937.8,267.9 936.1,268.0 934.0,268.0 931.9,268.0 929.3,267.0 926.6,265.9 924.2,263.8 922.1,263.5 920.1,263.2 918.0,262.9 913.6,261.1 910.9,258.4 908.4,255.4 909.4,255.0 910.3,254.6 911.5,254.2 912.7,253.8 913.9,253.4 911.0,250.8 908.9,250.6 906.8,250.5 904.9,250.5 903.0,250.5 901.1,250.5 898.9,250.0 896.7,249.6 892.6,248.1Z M359.8,264.4 357.8,263.3 355.7,262.3 353.9,261.8 352.1,261.3 350.3,260.8 348.7,258.6 347.1,256.3 345.9,253.8 344.8,251.3 344.5,249.4 344.3,247.6 343.1,244.7 343.5,242.5 343.9,240.4 344.5,238.3 345.1,236.2 347.6,235.3 350.1,234.3 352.6,233.4 350.7,232.7 348.8,232.0 347.0,231.4 345.1,230.7 344.8,228.9 344.5,227.2 344.0,224.9 343.4,222.6 342.5,221.3 341.6,220.0 339.8,219.6 338.0,219.1 336.2,218.7 334.4,218.2 332.4,218.2 330.4,218.2 328.4,218.2 326.5,218.0 324.7,217.7 322.8,217.4 321.6,216.5 320.5,215.5 319.3,214.6 318.2,213.7 318.1,212.5 320.6,211.6 323.2,210.8 325.7,210.1 327.9,209.7 330.1,209.3 332.3,208.9 334.8,208.2 337.2,207.5 339.6,206.8 342.0,206.2 344.2,205.7 346.5,205.3 348.7,204.8 350.7,204.7 352.7,204.5 354.7,204.3 356.7,204.2 358.7,204.0 360.6,203.9 362.5,203.9 364.4,203.9 366.3,203.8 368.2,203.8 370.2,203.6 372.2,203.4 374.2,203.1 376.2,202.9 378.2,202.7 380.2,202.5 382.1,202.3 384.1,202.1 386.1,201.9 388.0,201.7 390.0,201.6 391.9,201.5 393.8,201.4 395.7,201.3 397.6,201.1 399.4,201.2 401.2,201.2 403.0,201.2 404.8,201.3 406.6,201.3 408.5,201.3 410.3,201.3 412.1,201.5 413.8,201.6 415.6,201.7 417.3,202.1 419.1,202.5 420.8,202.8 422.5,203.2 424.3,203.6 426.1,203.8 427.9,204.0 429.8,204.2 431.6,204.4 433.4,204.6 435.2,204.9 437.1,205.2 438.9,205.5 436.9,206.0 435.0,206.6 433.0,207.2 430.9,207.7 428.8,208.9 426.7,210.1 425.4,211.9 424.0,213.7 423.6,216.2 422.2,218.7 420.7,221.3 418.2,223.9 415.7,226.6 414.8,228.6 414.0,230.7 414.6,233.4 412.3,234.4 410.0,235.4 407.4,237.6 405.1,238.3 402.8,238.9 400.5,239.6 398.3,239.7 396.1,239.8 393.9,239.9 391.5,241.1 389.0,242.4 386.4,244.3 383.7,246.1 381.8,246.5 379.8,246.9 377.9,247.3 375.8,248.0 373.7,248.8 371.7,249.6 369.9,251.9 367.7,254.1 365.4,256.3 364.2,258.6 363.1,260.8 361.5,262.6 359.8,264.4Z M410.6,252.5 409.2,251.0 407.9,249.6 409.5,249.2 411.2,248.7 409.0,248.1 406.9,247.6 409.2,246.6 411.6,245.5 413.3,245.7 414.9,245.8 416.8,245.8 418.6,245.8 420.5,245.8 422.4,245.4 424.3,245.1 426.2,244.7 427.8,245.1 429.4,245.5 429.2,247.9 431.3,248.7 429.5,250.0 427.7,251.3 426.0,251.9 424.2,252.5 421.9,253.1 419.5,253.7 417.3,253.2 415.1,252.8 412.8,252.7Z M314.8,254.0 313.0,255.6 311.2,257.2 309.7,257.7 308.3,258.1 306.5,257.2 304.7,256.3 302.6,255.9 300.5,255.4 299.2,254.6 297.8,253.7 296.0,252.7 294.3,251.6 292.3,251.5 290.3,251.4 288.3,251.3 287.1,250.8 285.9,250.2 288.2,247.9 290.2,247.8 292.2,247.7 294.2,247.6 296.2,247.6 299.8,244.7 302.1,242.4 301.2,240.8 300.3,239.3 298.7,238.5 297.1,237.8 295.5,237.0 295.2,234.8 292.9,235.1 290.6,235.4 288.9,235.2 287.2,235.0 285.5,234.8 283.6,234.3 281.8,233.9 279.9,233.4 278.2,233.4 276.5,233.4 274.8,233.4 273.1,233.4 272.6,232.0 272.1,230.7 274.9,228.1 277.7,225.5 279.7,225.3 281.7,225.0 283.7,224.7 285.7,224.5 287.7,224.5 289.7,224.6 291.7,224.7 293.8,224.7 295.4,225.4 297.1,226.1 298.8,226.7 300.5,227.4 301.8,228.1 303.2,228.7 304.6,229.3 306.2,230.2 307.8,231.1 309.5,232.0 310.9,232.8 312.3,233.5 313.7,234.3 314.8,235.2 316.0,236.2 316.8,239.0 318.1,239.9 319.3,240.9 320.6,241.8 322.2,242.7 323.8,243.5 325.2,245.0 323.1,246.0 321.0,247.0 318.7,248.0 316.4,249.0 313.9,250.8 314.3,252.4Z M267.9,256.0 270.1,255.2 272.3,254.4 274.5,253.6 276.7,252.8 278.5,252.4 280.3,251.9 279.3,250.8 278.4,249.6 277.0,248.6 275.7,247.7 274.3,246.7 272.3,246.4 270.2,246.1 266.3,249.0 266.2,250.9 266.0,252.8 267.0,254.4Z M241.4,237.0 239.6,237.1 237.8,237.2 236.0,237.3 234.2,237.3 233.0,236.8 231.8,236.2 229.5,236.9 227.2,237.5 224.9,238.2 223.0,238.2 221.0,238.2 219.1,238.2 217.1,238.2 215.2,238.2 213.9,237.0 212.6,235.9 211.2,235.1 209.7,234.3 209.2,232.3 212.0,230.4 211.1,229.0 213.6,228.2 216.2,227.4 218.8,226.6 221.3,225.8 222.9,226.1 224.5,226.5 226.1,226.8 227.7,227.1 229.3,227.4 231.3,227.2 233.2,226.9 235.2,226.6 235.6,228.0 236.1,229.3 236.8,231.1 237.6,232.9 239.5,233.2 241.4,233.4 241.4,235.2Z M201.5,231.5 200.3,230.9 199.1,230.2 197.9,229.6 199.9,228.1 201.8,226.6 204.4,225.0 207.0,223.4 208.9,223.3 210.7,223.3 212.6,223.2 214.5,223.2 215.6,223.8 216.7,224.4 217.9,225.0 213.8,227.2 209.8,229.3 207.0,230.0 204.2,230.8Z M247.1,230.1 249.2,230.2 251.2,230.3 253.3,230.3 255.3,230.4 257.5,229.0 259.6,227.7 260.2,226.1 260.8,224.5 259.1,224.4 257.3,224.3 255.5,224.3 253.8,224.2 251.2,225.5 248.5,226.9 247.8,228.5Z M261.4,229.3 263.0,229.3 264.6,229.3 267.3,228.4 270.1,227.4 271.7,225.9 273.2,224.5 271.3,224.3 269.3,224.2 267.3,224.1 265.4,223.9 263.6,225.5 261.9,227.2Z M244.4,239.9 246.8,239.5 249.3,239.1 251.7,238.7 253.4,236.2 251.5,235.8 249.7,235.4 247.3,236.5 244.9,237.6Z M273.9,222.1 275.7,222.2 277.5,222.4 279.3,222.5 281.1,222.6 282.9,222.8 284.7,222.9 286.8,222.8 288.9,222.8 291.0,222.7 293.0,222.7 295.1,222.6 298.9,220.0 297.5,219.5 296.1,219.0 294.7,218.5 293.3,218.0 291.5,217.9 289.7,217.8 287.9,217.7 286.1,217.6 284.3,217.5 282.6,217.4 280.6,217.8 278.5,218.1 276.5,218.4 274.5,218.7 274.2,220.4Z M281.6,217.4 283.6,217.1 285.7,216.7 287.8,216.4 289.9,216.0 291.9,215.7 293.4,216.1 294.9,216.6 296.3,217.0 297.8,217.5 299.3,218.0 302.1,216.8 304.9,215.7 307.5,214.2 310.1,212.7 312.6,212.0 315.1,211.2 317.6,210.5 319.9,210.0 322.3,209.4 324.6,208.9 326.6,208.5 328.5,208.2 330.5,207.8 332.4,207.5 334.8,206.8 337.3,206.2 339.7,205.5 341.7,205.0 343.6,204.5 345.6,204.0 344.1,203.6 342.6,203.1 341.1,202.7 339.4,202.6 337.6,202.5 335.9,202.4 334.2,202.2 332.5,202.1 330.6,202.2 328.7,202.2 326.8,202.2 325.0,202.2 323.1,202.3 321.2,202.3 319.3,202.3 317.3,202.5 315.2,202.7 313.2,202.9 311.1,203.0 309.0,203.2 307.0,203.4 304.9,203.6 302.8,203.8 300.6,204.1 298.3,204.5 296.0,204.8 293.8,205.1 291.5,205.5 288.5,206.5 285.5,207.5 286.7,208.0 287.8,208.5 289.0,209.1 290.2,209.6 291.2,210.3 292.1,211.0 293.2,211.7 290.6,212.5 288.0,213.2 285.9,213.9 283.8,214.7 282.7,216.0Z M283.7,212.5 282.3,211.9 280.9,211.2 279.7,210.5 278.5,209.7 277.4,208.9 279.8,207.5 282.2,206.2 283.7,206.3 285.3,206.4 286.8,206.5 288.4,206.6 288.6,207.7 288.9,208.9 286.3,210.7Z M248.4,220.8 246.3,221.1 244.2,221.3 242.1,221.6 240.0,221.8 237.9,222.1 235.8,222.4 233.9,222.2 232.0,222.0 230.1,221.8 228.3,221.5 226.6,221.2 224.9,220.9 223.2,220.5 226.1,219.1 229.0,217.7 231.0,217.5 233.0,217.3 235.0,217.1 237.0,216.9 239.0,216.7 240.3,217.2 241.6,217.7 242.9,218.2 244.2,218.7 245.8,218.7 247.5,218.7 249.2,218.7Z M263.3,221.3 261.7,221.1 260.0,220.9 258.4,220.7 256.8,220.5 257.0,218.0 259.3,217.6 261.6,217.3 263.9,216.9 265.1,217.5 266.2,218.1 267.4,218.7Z M269.8,222.1 267.9,222.0 265.9,221.9 263.9,221.8 266.6,219.8 268.1,219.9 269.7,220.1 271.2,220.3Z M225.5,218.2 223.4,218.2 221.4,218.2 219.4,218.2 217.4,218.2 215.9,217.7 214.4,217.2 217.1,216.6 219.7,216.0 222.3,215.5 224.9,214.9 226.4,215.1 228.0,215.3 229.5,215.5 231.1,215.7 228.3,216.9Z M263.4,214.2 261.6,213.9 259.9,213.7 258.2,213.4 256.4,213.2 259.4,212.2 262.3,211.2 264.0,211.5 265.6,211.9 267.3,212.2 268.9,212.5 266.2,213.3Z M311.3,301.6 313.0,299.5 314.7,297.4 316.0,295.3 317.3,293.3 319.3,291.5 321.3,289.8 322.7,289.9 324.1,290.1 323.2,292.8 322.2,295.5 324.2,296.0 326.2,296.5 326.6,298.2 326.9,300.0 328.0,302.9 326.3,305.8 325.0,305.2 323.8,304.5 322.1,304.7 320.4,304.8 319.2,302.6 317.2,302.3 315.2,302.1 313.3,301.8Z M224.7,387.6 227.7,385.0 229.9,384.2 232.2,383.5 234.2,383.5 236.3,383.5 239.0,384.1 241.2,385.0 243.5,385.8 245.0,387.1 246.5,388.5 248.3,389.3 250.2,390.1 252.1,391.4 254.0,392.8 251.9,393.8 249.3,393.9 246.7,394.0 244.1,394.1 245.7,391.8 244.1,390.1 242.6,388.5 239.9,387.8 237.2,387.1 235.4,386.8 233.6,386.5 231.1,385.1 228.8,386.3 226.5,387.5Z M252.8,398.4 254.4,396.6 256.0,394.8 258.0,394.4 260.0,394.1 262.8,394.4 265.5,394.8 268.2,396.4 269.6,398.4 267.5,398.9 265.3,399.4 263.1,400.4 260.9,401.4 259.4,399.7 256.7,400.1 254.0,400.4Z M241.8,399.1 243.7,399.1 245.7,399.1 247.5,400.4 244.6,401.4 241.9,400.4Z M273.0,398.7 275.2,398.9 277.4,399.1 277.0,400.4 274.9,400.6 272.8,400.7Z M300.3,295.2 302.4,296.0 304.5,296.9 306.6,297.7 304.4,297.3 302.3,296.8Z M24.4,396.7 27.3,395.4 25.6,393.1 24.6,394.8Z M23.7,390.8 25.6,391.1 24.3,391.8Z M19.9,388.5 21.3,389.5 20.2,389.5Z M16.3,386.5 17.7,386.5 16.8,387.5Z M93.2,272.3 95.9,271.8 98.7,271.4 101.0,269.2 99.3,269.5 97.6,269.9 95.4,270.6 93.2,271.4Z M951.7,272.3 953.6,271.8 955.4,271.4 953.4,269.2 952.3,269.5 951.3,269.9 950.6,270.6 949.9,271.4Z M446.6,340.6 444.8,339.0 443.0,336.6 440.3,337.3 437.9,337.3 438.3,334.0 436.5,331.7 437.1,329.4 438.2,326.7 438.8,323.4 438.7,320.2 437.5,317.9 438.8,316.2 440.9,315.2 442.9,315.4 444.8,315.6 446.7,315.7 448.7,315.9 450.6,315.9 452.5,315.9 454.7,316.1 456.9,316.2 458.0,314.3 458.5,311.0 458.8,307.8 456.5,305.2 455.3,303.5 452.8,301.9 450.2,301.6 449.5,300.0 451.2,299.4 452.8,298.7 454.3,299.0 455.8,299.4 458.1,299.0 456.9,295.8 458.6,296.8 460.4,296.6 462.1,296.5 464.1,295.2 465.6,293.3 466.1,291.7 467.8,291.4 470.3,290.4 471.5,288.8 472.9,286.9 473.4,285.4 475.8,284.1 477.3,283.9 478.7,283.8 481.2,283.5 482.8,282.5 483.2,280.7 482.4,277.9 481.1,277.2 481.2,275.5 481.2,273.8 482.1,272.6 484.3,272.3 485.5,271.5 486.8,270.8 486.4,272.6 486.1,274.5 487.8,274.8 486.0,277.2 485.1,278.5 485.9,280.3 488.1,281.0 488.7,282.2 490.1,281.9 491.6,281.6 493.7,280.7 496.3,282.5 497.8,282.1 499.3,281.6 501.7,280.7 503.2,280.2 504.8,279.7 506.8,280.7 509.0,281.0 511.3,279.4 512.8,278.2 512.4,276.0 511.8,273.5 513.3,271.4 515.3,270.8 517.3,272.9 519.2,272.9 519.5,270.2 517.9,268.9 517.0,267.1 519.1,265.6 521.4,265.3 523.2,265.3 524.9,265.3 526.3,265.1 527.7,265.0 529.1,264.5 530.6,264.1 532.5,264.1 530.9,263.6 529.3,263.2 526.8,262.3 525.1,262.4 523.3,262.6 521.6,262.9 519.9,263.2 518.2,263.6 516.6,264.1 514.2,263.8 511.6,262.0 511.0,259.3 510.9,256.9 510.0,254.9 511.1,253.8 512.2,252.8 513.5,252.1 514.7,251.3 515.8,250.5 516.9,249.6 518.5,248.4 516.6,247.3 514.2,246.7 512.9,246.7 511.6,246.7 509.7,247.9 509.3,249.6 508.0,251.9 505.9,253.4 504.8,254.3 503.6,255.1 501.7,256.6 501.6,259.3 501.6,262.0 503.0,262.6 504.3,263.2 505.6,264.7 504.0,266.8 502.7,267.9 501.4,268.9 500.9,272.0 500.0,274.5 499.1,275.4 497.8,275.7 496.5,276.0 495.9,277.9 494.5,277.9 493.0,277.9 492.7,276.6 491.6,275.1 492.0,273.8 490.2,271.7 489.6,269.2 488.2,267.1 487.0,265.9 486.4,264.4 485.6,266.2 484.0,267.1 481.7,268.9 480.0,269.4 478.2,269.9 476.3,268.9 474.8,267.4 474.8,265.6 473.8,263.8 473.2,261.4 473.1,259.0 473.8,257.2 475.8,256.0 477.3,255.4 478.7,254.9 480.9,253.4 482.4,252.7 483.8,251.9 485.7,249.9 487.1,248.7 488.4,247.6 489.4,245.5 491.2,243.3 492.3,242.1 493.4,241.0 495.4,239.6 497.4,238.2 498.8,237.3 500.1,236.5 501.3,235.9 502.5,235.4 504.0,235.0 505.6,234.5 507.2,234.3 508.7,234.0 510.3,233.6 511.8,233.2 513.3,232.6 514.8,232.0 516.9,232.0 518.6,232.2 520.2,232.3 522.4,232.6 524.1,233.3 525.9,234.0 528.2,234.8 529.4,235.4 531.1,235.9 532.9,236.5 534.7,236.7 536.6,236.9 538.4,237.0 540.8,237.7 543.1,238.4 545.6,239.4 548.0,240.4 549.8,241.1 551.7,241.8 552.7,243.8 550.9,245.5 549.1,245.8 547.3,246.1 545.3,245.7 543.4,245.4 541.5,245.0 539.8,244.8 538.1,244.7 536.4,244.5 534.7,244.4 533.0,243.0 534.6,244.5 536.2,246.1 537.9,247.6 539.7,249.0 539.9,250.8 541.4,251.0 543.0,251.3 545.4,252.2 547.3,250.5 549.3,250.3 551.2,250.2 552.9,250.5 553.5,248.4 554.9,247.3 556.2,246.1 557.8,245.8 559.4,245.5 559.2,242.7 557.4,240.4 558.5,239.7 559.6,239.0 562.4,241.0 564.7,241.3 567.0,241.5 569.0,241.0 571.0,240.4 572.9,239.7 574.8,239.0 576.9,239.3 579.0,239.6 580.7,239.3 582.5,239.0 584.6,238.9 586.7,238.7 588.1,238.2 589.5,237.6 590.6,236.5 591.8,235.4 593.5,235.5 595.1,235.6 597.5,236.1 599.8,236.5 602.1,236.8 604.4,237.0 606.1,237.9 607.8,238.7 609.4,239.1 611.0,239.6 609.1,237.9 607.3,236.2 608.0,233.4 606.7,230.7 607.4,228.0 608.3,226.7 609.2,225.5 611.2,226.3 613.2,227.2 614.5,228.9 615.8,230.7 616.6,232.7 617.3,234.8 618.2,237.1 619.0,239.5 619.8,241.8 621.9,242.8 624.1,243.8 625.3,241.8 624.5,239.7 623.7,237.6 621.9,235.5 620.0,233.3 618.2,231.2 618.6,229.6 618.9,228.0 621.1,228.2 623.4,228.5 625.1,228.4 626.8,228.3 628.5,228.2 628.6,226.7 628.8,225.3 631.2,227.5 633.6,229.8 636.1,232.0 639.0,233.4 639.5,230.7 639.9,228.0 640.2,225.3 639.4,222.6 640.6,221.9 641.8,221.2 643.0,220.5 644.7,220.1 646.4,219.7 648.1,219.2 650.0,219.0 651.9,218.8 653.7,218.7 655.6,218.5 657.4,218.2 659.2,218.0 661.0,217.7 662.5,217.1 663.9,216.4 665.1,215.9 666.3,215.4 667.4,214.9 668.6,214.4 670.3,214.7 672.0,214.9 673.7,215.2 677.9,217.4 679.9,217.4 681.9,217.4 683.9,217.4 685.9,217.4 688.7,218.2 691.5,219.0 692.7,220.8 693.9,222.6 693.7,224.7 691.6,224.7 689.6,224.7 687.7,225.0 685.9,225.3 684.9,225.9 683.9,226.6 686.6,227.4 688.0,226.5 689.3,225.6 690.6,224.7 692.8,224.9 695.0,225.1 697.3,225.3 698.9,225.1 700.4,224.9 702.0,224.7 704.5,225.3 707.1,225.8 709.7,226.3 711.7,226.3 713.7,226.2 715.8,226.1 717.8,226.1 719.4,225.9 721.0,225.7 722.7,225.5 724.3,225.3 727.3,226.2 730.3,227.2 735.0,229.9 737.8,231.1 740.6,232.3 741.0,231.1 741.4,229.9 743.3,230.0 745.3,230.2 747.2,230.4 749.3,230.4 751.4,230.4 753.6,230.4 754.8,229.6 756.1,228.8 756.4,227.2 758.9,227.5 761.4,227.8 763.8,228.2 766.3,228.5 768.9,228.9 771.5,229.4 774.0,229.8 776.6,230.2 779.2,230.7 782.3,231.5 785.3,232.3 787.4,232.3 789.4,232.2 791.5,232.1 793.5,232.0 795.6,232.3 797.7,232.5 799.8,232.7 801.9,232.9 807.3,235.6 809.1,235.8 810.8,235.9 812.6,235.9 814.4,235.9 816.2,235.9 818.2,235.7 820.1,235.6 822.0,235.4 823.5,235.1 824.9,234.8 826.4,234.5 828.9,234.8 831.4,235.1 833.6,235.2 835.9,235.3 838.2,235.4 840.8,235.7 843.4,236.1 846.0,236.5 849.1,237.2 852.1,237.9 855.1,238.5 858.1,239.2 861.1,239.9 864.0,240.7 866.9,241.5 869.8,242.4 872.5,243.1 875.2,243.7 877.9,244.4 880.2,244.9 882.5,245.4 884.8,245.8 883.9,246.7 882.9,247.6 883.2,249.2 883.5,250.8 880.5,250.2 877.6,249.6 874.1,248.6 870.6,247.6 868.8,247.9 866.9,248.1 865.5,248.9 864.1,249.6 862.7,249.9 861.4,250.2 864.8,252.2 868.3,254.3 872.5,256.6 870.7,256.5 868.9,256.4 867.1,256.3 865.6,257.0 864.0,257.7 862.5,258.4 861.4,259.6 860.4,260.8 860.2,262.3 859.9,263.8 857.5,263.3 855.0,262.8 852.6,262.3 851.0,263.0 849.4,263.8 848.0,264.1 846.5,264.4 846.5,266.8 846.1,268.3 845.7,269.9 849.0,270.8 850.0,272.6 851.1,274.5 851.3,276.6 850.8,278.6 850.4,280.7 850.5,283.0 850.5,285.4 851.2,287.7 851.7,290.1 851.0,291.7 848.3,289.3 845.6,286.9 843.5,284.6 841.4,282.2 839.3,279.9 837.1,277.5 836.3,275.2 835.4,272.9 835.6,270.5 836.9,269.2 836.9,267.3 836.8,265.3 837.4,264.1 838.0,262.9 837.5,260.7 836.9,258.5 836.2,256.3 834.7,256.8 833.2,257.4 831.7,257.9 830.2,258.4 828.0,258.5 825.8,258.6 823.6,258.7 823.0,260.5 822.3,262.3 822.7,265.3 820.8,265.7 818.9,266.2 816.0,265.6 813.1,265.0 811.2,265.4 809.2,265.9 807.2,265.8 805.1,265.7 803.1,265.6 801.2,265.7 799.3,265.8 797.5,265.9 795.9,266.8 794.2,267.7 793.8,270.2 793.5,272.0 793.1,273.8 793.3,276.5 793.4,279.1 791.5,279.6 789.7,280.0 792.0,281.1 794.4,282.2 796.4,282.5 798.5,282.8 799.9,282.2 801.2,281.6 804.7,283.0 808.1,284.4 809.0,286.1 809.8,287.9 810.3,289.8 810.7,291.7 812.8,294.9 814.9,298.1 815.1,300.5 815.3,302.9 814.9,305.3 814.4,307.8 813.9,310.2 813.3,312.6 812.2,314.3 811.2,315.9 809.2,317.2 807.3,318.5 805.4,317.9 803.5,317.2 802.6,318.2 801.7,319.2 801.7,321.6 801.7,324.1 801.7,325.7 800.4,327.4 799.2,329.0 798.3,330.0 801.4,332.3 803.8,334.8 806.2,337.3 807.1,339.3 808.0,341.3 808.1,343.6 806.5,344.3 804.2,345.3 801.8,345.9 800.6,343.6 800.3,340.6 798.8,337.6 798.0,335.0 796.6,335.0 795.1,335.0 793.2,332.3 791.3,331.0 791.3,329.0 788.9,327.7 787.4,328.2 785.9,328.7 784.6,329.7 783.3,330.7 782.2,331.4 783.0,328.1 782.7,325.7 780.1,324.4 778.2,326.1 776.4,328.1 774.5,330.0 772.8,331.0 773.3,333.0 776.5,335.0 778.5,336.6 780.7,335.7 782.7,335.7 784.7,335.7 787.7,336.3 787.4,337.6 785.8,338.3 784.1,339.0 782.9,341.3 782.0,343.9 785.5,346.3 786.9,348.4 788.3,350.6 791.1,353.2 792.8,355.2 793.6,357.6 791.5,358.9 794.0,360.5 795.3,362.2 794.9,365.5 793.6,367.9 792.9,371.2 791.9,373.8 791.7,376.2 790.4,377.8 788.8,379.2 786.7,381.8 785.2,384.1 783.5,384.5 781.8,384.8 779.8,386.1 777.9,386.5 775.4,387.8 773.4,388.5 771.5,389.1 770.2,392.4 768.4,390.4 767.2,388.5 764.4,388.5 761.7,389.1 759.9,391.4 758.4,394.1 758.1,397.1 760.2,399.7 762.7,403.0 764.6,404.9 766.6,406.7 768.7,409.7 769.5,412.0 770.4,414.3 770.8,416.5 771.2,418.6 770.9,421.9 769.5,423.1 768.1,424.2 765.3,425.5 764.1,428.2 761.5,430.8 759.6,431.5 759.6,429.7 759.6,427.9 758.2,425.5 755.4,425.2 753.7,421.9 751.7,419.6 749.0,417.9 747.1,415.6 745.1,415.6 744.5,418.6 744.2,421.1 743.9,423.6 743.3,426.9 745.5,429.5 746.8,432.5 747.4,434.3 747.9,436.1 750.6,437.4 752.7,439.4 755.0,441.7 756.3,445.0 756.7,448.3 757.9,451.6 758.8,454.9 756.9,455.6 754.0,453.3 752.2,451.8 750.5,450.3 749.4,448.5 748.4,446.7 747.9,444.5 747.4,442.4 747.2,439.1 745.4,437.1 743.2,434.1 741.2,432.5 741.2,430.5 741.2,428.5 741.5,425.2 741.1,422.7 740.7,420.3 739.8,417.8 738.8,415.3 738.1,412.8 737.4,410.3 736.8,407.8 736.2,405.4 733.3,404.4 730.9,407.7 728.0,407.0 727.3,404.5 726.5,402.1 725.9,399.9 725.4,397.7 722.9,394.4 720.2,391.1 718.4,388.8 717.3,385.8 715.0,385.1 713.9,387.1 711.3,387.8 708.6,388.5 705.8,388.5 704.4,390.1 703.6,392.8 701.1,395.1 699.4,396.4 697.5,399.4 695.0,401.7 693.1,405.0 690.8,407.4 689.2,408.0 687.8,411.0 688.3,413.3 688.8,415.6 688.4,417.9 688.0,420.3 688.0,422.2 688.0,424.2 686.8,426.2 685.8,429.2 683.9,430.5 682.0,433.1 680.3,431.8 678.4,428.5 677.5,426.0 676.6,423.6 675.7,421.6 674.7,419.6 673.8,417.4 672.9,415.3 672.0,413.1 671.1,411.0 670.0,409.0 668.8,407.0 668.0,404.5 667.2,402.1 666.5,399.6 665.8,397.1 665.4,394.6 664.9,392.1 664.3,389.1 663.4,386.5 661.9,388.1 660.1,391.1 657.1,389.5 654.1,386.1 655.9,384.5 653.6,383.8 651.6,381.8 648.7,380.5 647.2,377.8 645.8,375.8 644.3,376.0 642.8,376.2 640.8,376.2 638.7,376.2 636.6,376.3 634.6,376.5 632.1,376.5 630.5,376.2 629.0,375.8 626.9,375.7 624.8,375.5 623.1,375.2 621.4,374.8 619.4,372.2 618.0,370.2 615.8,370.2 613.2,371.5 610.5,371.5 607.6,370.5 604.6,368.2 602.1,365.5 600.4,363.2 598.1,360.2 595.3,359.2 594.1,360.9 592.9,362.5 594.7,365.9 597.3,369.2 600.1,372.2 601.2,374.5 602.3,377.8 602.5,375.7 602.7,373.5 604.3,375.2 604.6,378.5 607.3,379.8 610.1,380.2 612.8,379.5 615.2,376.2 616.5,373.5 617.3,372.8 617.5,375.0 617.8,377.2 618.9,379.5 621.3,381.2 624.1,381.8 627.3,385.1 628.2,386.1 627.3,388.3 626.5,390.4 625.3,392.4 623.5,394.4 623.5,397.4 622.0,398.4 620.6,399.4 619.1,400.6 617.7,401.7 616.4,403.7 614.4,404.5 612.3,405.4 610.6,406.9 608.8,408.3 606.5,409.3 604.2,410.3 602.1,411.2 600.0,412.0 597.3,413.6 595.2,414.6 593.2,415.6 591.1,416.6 589.0,417.6 586.2,418.3 584.5,417.9 583.8,416.0 583.2,414.0 582.5,412.0 581.8,408.7 581.9,405.4 580.3,402.1 577.6,398.7 576.5,396.9 575.4,395.1 574.0,393.3 572.6,391.4 570.7,388.1 569.9,384.8 568.3,381.5 565.8,378.8 563.9,375.5 562.8,373.7 561.7,371.8 560.5,370.0 559.2,368.2 557.7,366.5 557.4,364.4 557.1,362.2 556.4,365.0 555.7,367.9 553.5,365.9 552.0,363.3 550.5,360.7 550.8,362.2 552.1,364.5 554.0,367.9 555.3,371.2 557.2,374.5 559.1,377.8 561.0,381.2 561.9,383.3 562.7,385.5 564.5,387.8 565.1,389.9 565.7,392.1 566.1,395.4 567.7,398.7 569.8,401.1 571.0,404.0 572.1,407.0 573.6,409.3 576.0,411.0 578.4,413.6 581.3,416.9 583.7,418.6 584.3,420.9 583.0,421.9 585.3,423.2 587.9,425.5 590.7,424.9 593.6,424.2 596.3,423.2 598.2,422.9 600.0,422.6 601.8,422.2 603.7,421.9 605.3,421.4 607.0,420.9 606.8,423.1 606.6,425.2 605.9,428.5 605.2,430.7 604.4,432.8 603.5,435.1 602.5,437.4 601.3,439.7 600.1,442.1 599.0,444.0 597.9,446.0 596.2,448.2 594.5,450.3 592.8,451.8 591.1,453.3 589.1,454.9 587.1,456.6 585.6,458.6 584.0,460.5 582.4,462.5 580.8,464.5 578.0,467.8 576.0,470.8 575.2,472.6 574.5,474.4 573.3,477.4 572.7,479.4 572.1,481.3 574.0,484.0 574.0,486.0 573.9,487.9 574.3,490.4 574.6,492.9 576.5,495.5 576.6,498.4 576.6,501.2 576.5,503.6 576.4,506.1 576.8,509.4 575.3,511.6 573.7,513.7 571.1,515.7 568.5,517.7 566.7,519.0 565.0,520.4 563.0,522.4 561.1,524.3 559.0,526.0 559.6,528.2 560.2,530.3 560.3,532.3 560.5,534.3 560.3,536.8 560.1,539.3 557.2,541.9 555.0,543.1 552.9,544.3 552.1,547.6 551.6,549.7 551.2,551.9 549.9,555.2 548.4,556.9 546.9,558.6 545.5,560.5 544.1,562.5 541.5,565.0 538.8,567.5 536.7,569.2 534.5,570.8 532.7,571.7 530.9,572.5 528.9,572.5 526.9,572.5 524.9,572.5 522.9,573.0 520.8,573.5 518.1,574.3 515.4,575.2 513.8,574.3 512.2,573.5 511.2,572.5 510.8,569.2 510.5,565.9 509.6,563.4 508.8,560.9 507.8,557.7 506.9,554.6 505.6,552.4 504.3,550.2 503.7,548.1 503.0,545.9 502.6,543.4 502.1,540.9 501.9,538.1 501.7,535.3 500.4,532.0 499.1,528.7 497.7,525.7 496.4,522.7 495.6,520.2 494.8,517.7 494.8,515.2 494.9,512.7 495.6,509.8 496.4,506.8 497.4,504.5 498.4,502.2 499.6,499.5 500.8,496.9 500.1,494.1 499.4,491.2 498.6,487.9 497.7,485.1 496.9,482.3 496.4,479.7 495.8,476.4 494.5,474.6 493.3,472.8 491.7,470.9 490.1,469.1 488.1,465.8 486.7,462.5 487.4,460.7 488.1,458.9 488.7,456.6 489.1,454.1 489.6,451.6 489.0,448.3 487.3,446.7 485.6,444.7 483.0,445.0 480.1,445.7 478.1,445.4 477.3,443.5 476.4,441.7 474.4,439.4 472.9,439.1 471.3,438.8 469.3,438.9 467.3,439.1 465.0,439.7 463.3,440.6 461.6,441.4 458.8,443.1 455.9,444.0 453.1,443.1 450.2,442.7 447.4,443.1 444.5,444.0 442.4,444.7 440.2,445.4 437.4,444.4 434.5,442.4 431.7,439.4 429.2,437.1 426.6,434.8 424.1,432.2 423.8,429.2 421.3,426.9 419.6,424.2 417.7,421.6 414.9,419.6 414.5,417.8 414.1,416.0 413.0,412.6 412.2,411.3 413.9,409.7 415.1,406.4 415.6,404.2 416.1,402.1 416.4,398.7 415.9,395.4 414.3,392.4 413.8,390.4 414.3,388.5 414.8,386.5 415.7,384.6 416.6,382.8 418.6,379.5 420.7,376.2 422.1,373.2 424.4,370.5 426.2,367.5 428.1,366.9 430.0,366.2 431.9,365.0 433.7,363.9 435.1,360.5 434.9,357.2 435.5,355.2 436.1,353.2 437.4,351.4 438.6,349.6 441.4,348.3 443.3,346.9 444.7,343.9 445.8,341.3 447.4,341.0 449.5,343.3 452.2,343.3 454.9,343.6 457.6,342.9 460.3,341.3 462.9,339.6 465.6,339.0 467.6,338.5 469.6,338.0 471.6,337.8 473.6,337.6 475.6,337.5 477.6,337.3 479.6,337.3 481.6,337.3 483.1,337.5 484.5,337.6 486.1,337.0 487.7,336.3 489.1,337.6 490.9,337.0 489.7,339.3 490.8,341.9 491.4,343.3 490.1,345.6 488.8,347.6 490.8,348.6 492.7,350.2 495.4,351.2 497.6,350.9 499.2,351.4 500.9,351.9 503.1,353.2 504.6,355.6 506.2,356.4 507.9,357.2 510.0,358.1 512.1,358.9 514.8,359.2 516.3,356.6 515.9,353.9 517.4,351.9 520.0,350.9 521.7,351.2 523.3,351.6 524.8,353.2 527.6,353.9 530.1,355.2 531.9,355.4 533.6,355.6 535.7,356.2 537.8,356.9 540.6,357.6 543.2,356.2 545.8,355.2 548.6,356.2 551.4,356.9 553.0,356.6 554.6,356.2 555.5,353.9 556.1,351.2 556.4,349.6 557.3,347.6 558.2,345.3 557.9,342.6 557.4,340.6 558.2,338.6 556.6,338.3 554.4,338.0 552.5,339.6 549.9,340.3 548.0,340.0 545.7,338.6 543.2,338.0 542.6,339.6 539.9,339.6 537.6,338.3 535.2,338.0 534.5,336.0 533.3,334.0 531.6,333.0 532.5,331.4 532.1,329.4 530.4,329.0 530.8,327.1 533.3,326.1 534.9,326.1 536.5,326.1 539.0,324.8 537.8,323.4 536.4,323.9 535.0,324.3 532.4,324.4 530.6,325.4 529.8,324.8 527.1,324.4 524.5,324.8 523.4,326.4 521.7,325.4 521.0,326.7 521.7,329.0 523.1,330.0 521.9,331.0 523.9,332.3 525.3,333.3 525.4,335.0 523.2,334.3 522.8,336.0 523.6,339.0 521.7,339.3 520.5,337.6 519.5,338.0 518.2,335.3 518.9,333.3 517.5,332.7 516.6,331.0 514.9,329.0 514.0,327.4 512.6,326.1 512.7,324.1 512.3,321.5 510.9,320.2 509.7,319.2 507.8,317.9 505.7,316.6 503.6,315.9 502.2,314.3 500.8,313.0 499.9,311.0 498.3,310.0 497.4,311.7 496.5,310.4 496.7,308.7 494.9,308.7 493.2,310.0 493.6,312.6 494.4,314.3 496.8,315.9 498.6,319.2 501.0,320.8 502.3,321.0 503.6,321.1 503.4,322.5 505.9,323.8 507.4,324.6 508.9,325.4 510.3,327.1 508.7,327.4 506.8,326.1 505.3,327.4 505.4,329.4 506.8,330.7 505.3,332.7 504.1,334.3 503.0,333.3 504.0,331.7 504.4,329.7 502.9,327.4 501.0,326.4 499.4,325.4 498.3,324.1 495.6,323.1 493.7,321.8 491.8,319.8 490.5,319.2 488.9,317.5 488.0,314.6 486.1,313.6 484.3,313.0 482.8,314.6 481.0,314.9 479.7,315.6 478.5,316.9 476.7,317.2 474.6,316.2 473.3,315.9 471.7,315.9 469.7,317.2 469.4,319.2 470.0,321.1 467.4,323.1 465.8,323.6 464.2,324.1 463.7,325.1 461.6,327.4 460.8,329.4 462.1,331.4 460.3,333.0 459.5,335.3 457.6,336.0 456.3,338.3 453.6,338.3 451.7,338.3 449.9,338.3 448.3,339.0 447.2,340.3Z M-516.4,340.6 -516.4,339.0 -515.6,336.6 -519.0,337.3 -521.4,337.3 -517.2,334.0 -516.2,331.7 -512.8,329.4 -508.3,326.7 -503.5,323.4 -499.3,320.2 -497.4,317.9 -493.8,316.2 -490.3,315.2 -488.6,315.4 -486.9,315.6 -485.2,315.7 -483.4,315.9 -481.5,315.9 -479.6,315.9 -477.6,316.1 -475.6,316.2 -471.8,314.3 -466.6,311.0 -461.5,307.8 -459.9,305.2 -458.6,303.5 -458.6,301.9 -460.6,301.6 -458.8,300.0 -456.1,299.4 -453.4,298.7 -452.4,299.0 -451.4,299.4 -448.6,299.0 -444.6,295.8 -444.5,296.8 -442.4,296.6 -440.4,296.5 -436.3,295.2 -431.6,293.3 -428.4,291.7 -426.1,291.4 -422.0,290.4 -418.0,288.8 -413.2,286.9 -410.0,285.4 -405.3,284.1 -403.5,283.9 -401.8,283.8 -398.7,283.5 -395.4,282.5 -391.5,280.7 -387.0,277.9 -387.1,277.2 -383.7,275.5 -380.4,273.8 -377.0,272.6 -374.3,272.3 -371.5,271.5 -368.7,270.8 -372.7,272.6 -376.7,274.5 -375.7,274.8 -382.2,277.2 -385.5,278.5 -388.2,280.3 -387.2,281.0 -388.9,282.2 -386.9,281.9 -384.9,281.6 -381.0,280.7 -381.9,282.5 -379.5,282.1 -377.1,281.6 -373.0,280.7 -370.6,280.2 -368.2,279.7 -367.9,280.7 -366.3,281.0 -361.1,279.4 -357.1,278.2 -353.5,276.0 -349.1,273.5 -343.5,271.4 -340.2,270.8 -342.5,272.9 -340.6,272.9 -334.7,270.2 -333.8,268.9 -331.0,267.1 -325.7,265.6 -322.8,265.3 -321.0,265.3 -319.3,265.3 -317.6,265.1 -315.9,265.0 -313.5,264.5 -311.1,264.1 -309.2,264.1 -309.9,263.6 -310.5,263.2 -311.1,262.3 -313.1,262.4 -315.1,262.6 -317.5,262.9 -319.8,263.2 -322.5,263.6 -325.1,264.1 -326.9,263.8 -325.6,262.0 -320.3,259.3 -315.2,256.9 -311.5,254.9 -308.1,253.8 -304.6,252.8 -301.7,252.1 -298.8,251.3 -295.6,250.5 -292.5,249.6 -288.2,248.4 -287.4,247.3 -288.4,246.7 -289.7,246.7 -291.1,246.7 -295.6,247.9 -300.1,249.6 -306.8,251.9 -312.2,253.4 -315.4,254.3 -318.5,255.1 -323.7,256.6 -329.8,259.3 -335.6,262.0 -335.5,262.6 -335.5,263.2 -337.3,264.7 -343.4,266.8 -346.9,267.9 -350.4,268.9 -357.0,272.0 -362.8,274.5 -365.5,275.4 -367.4,275.7 -369.3,276.0 -373.5,277.9 -374.9,277.9 -376.4,277.9 -374.3,276.6 -372.4,275.1 -369.6,273.8 -367.1,271.7 -362.8,269.2 -359.8,267.1 -358.5,265.9 -355.9,264.4 -360.5,266.2 -364.0,267.1 -370.0,268.9 -372.7,269.4 -375.4,269.9 -375.5,268.9 -373.8,267.4 -370.1,265.6 -367.3,263.8 -362.7,261.4 -357.6,259.0 -353.0,257.2 -348.3,256.0 -345.6,255.4 -342.8,254.9 -337.2,253.4 -334.1,252.7 -331.0,251.9 -324.4,249.9 -320.3,248.7 -316.2,247.6 -310.5,245.5 -303.2,243.3 -299.3,242.1 -295.4,241.0 -289.8,239.6 -284.3,238.2 -280.8,237.3 -277.4,236.5 -274.8,235.9 -272.1,235.4 -269.5,235.0 -266.9,234.5 -264.6,234.3 -262.3,234.0 -259.7,233.6 -257.1,233.2 -254.1,232.6 -251.2,232.0 -249.0,232.0 -247.8,232.2 -246.5,232.3 -245.0,232.6 -245.1,233.3 -245.2,234.0 -245.0,234.8 -245.2,235.4 -244.9,235.9 -244.6,236.5 -243.2,236.7 -241.8,236.9 -240.5,237.0 -239.9,237.7 -239.3,238.4 -239.3,239.4 -239.4,240.4 -239.3,241.1 -239.2,241.8 -243.0,243.8 -248.9,245.5 -251.4,245.8 -253.9,246.1 -255.0,245.7 -256.0,245.4 -257.0,245.0 -258.4,244.8 -259.7,244.7 -261.1,244.5 -262.4,244.4 -260.6,243.0 -262.8,244.5 -265.1,246.1 -266.7,247.6 -268.3,249.0 -272.2,250.8 -271.4,251.0 -270.5,251.3 -270.1,252.2 -264.2,250.5 -261.9,250.3 -259.5,250.2 -258.5,250.5 -253.2,248.4 -249.1,247.3 -245.0,246.1 -242.8,245.8 -240.5,245.5 -233.8,242.7 -229.9,240.4 -227.1,239.7 -224.2,239.0 -226.4,241.0 -224.8,241.3 -223.2,241.5 -219.8,241.0 -216.4,240.4 -212.7,239.7 -209.0,239.0 -207.6,239.3 -206.3,239.6 -203.8,239.3 -201.4,239.0 -198.9,238.9 -196.4,238.7 -193.6,238.2 -190.8,237.6 -186.8,236.5 -182.8,235.4 -181.5,235.5 -180.2,235.6 -178.9,236.1 -177.6,236.5 -176.1,236.8 -174.5,237.0 -174.9,237.9 -175.3,238.7 -174.8,239.1 -174.2,239.6 -171.9,237.9 -169.5,236.2 -161.5,233.4 -155.7,230.7 -147.6,228.0 -143.3,226.7 -139.1,225.5 -139.3,226.3 -139.5,227.2 -143.1,228.9 -146.5,230.7 -151.2,232.7 -155.9,234.8 -161.0,237.1 -166.0,239.5 -171.1,241.8 -171.4,242.8 -171.6,243.8 -165.6,241.8 -161.1,239.7 -156.6,237.6 -153.0,235.5 -149.3,233.3 -145.6,231.2 -140.8,229.6 -136.1,228.0 -134.6,228.2 -133.0,228.5 -131.1,228.4 -129.1,228.3 -127.2,228.2 -123.0,226.7 -118.7,225.3 -122.5,227.5 -126.2,229.8 -129.9,232.0 -130.5,233.4 -122.8,230.7 -115.1,228.0 -107.3,225.3 -100.5,222.6 -97.2,221.9 -94.0,221.2 -90.7,220.5 -87.7,220.1 -84.7,219.7 -81.7,219.2 -79.2,219.0 -76.8,218.8 -74.3,218.7 -71.8,218.5 -69.2,218.2 -66.6,218.0 -64.0,217.7 -60.6,217.1 -57.1,216.4 -54.3,215.9 -51.5,215.4 -48.7,214.9 -45.9,214.4 -45.0,214.7 -44.1,214.9 -43.2,215.2 -46.4,217.4 -44.4,217.4 -42.3,217.4 -40.3,217.4 -38.3,217.4 -38.0,218.2 -37.6,219.0 -41.8,220.8 -46.0,222.6 -52.3,224.7 -54.4,224.7 -56.4,224.7 -59.0,225.0 -61.6,225.3 -64.5,225.9 -67.4,226.6 -66.9,227.4 -63.0,226.5 -59.2,225.6 -55.4,224.7 -53.7,224.9 -51.9,225.1 -50.2,225.3 -48.1,225.1 -46.1,224.9 -44.0,224.7 -42.9,225.3 -41.9,225.8 -40.8,226.3 -38.6,226.3 -36.4,226.2 -34.2,226.1 -32.0,226.1 -29.8,225.9 -27.6,225.7 -25.4,225.5 -23.2,225.3 -22.8,226.2 -22.4,227.2 -25.1,229.9 -25.6,231.1 -26.1,232.3 -22.4,231.1 -18.7,229.9 -17.3,230.0 -15.8,230.2 -14.4,230.4 -12.3,230.4 -10.1,230.4 -8.0,230.4 -4.6,229.6 -1.1,228.8 3.7,227.2 5.2,227.5 6.8,227.8 8.3,228.2 9.8,228.5 11.2,228.9 12.7,229.4 14.1,229.8 15.5,230.2 16.9,230.7 17.8,231.5 18.6,232.3 20.9,232.3 23.1,232.2 25.3,232.1 27.6,232.0 29.1,232.3 30.7,232.5 32.2,232.7 33.8,232.9 32.0,235.6 33.4,235.8 34.8,235.9 36.6,235.9 38.4,235.9 40.2,235.9 42.6,235.7 45.0,235.6 47.4,235.4 49.6,235.1 51.8,234.8 53.9,234.5 55.7,234.8 57.5,235.1 59.5,235.2 61.5,235.3 63.6,235.4 65.2,235.7 66.9,236.1 68.6,236.5 69.8,237.2 71.1,237.9 72.5,238.5 73.8,239.2 75.2,239.9 76.0,240.7 76.8,241.5 77.6,242.4 78.6,243.1 79.7,243.7 80.8,244.4 81.9,244.9 83.1,245.4 84.2,245.8 81.3,246.7 78.3,247.6 74.8,249.2 71.3,250.8 69.7,250.2 68.1,249.6 67.1,248.6 66.0,247.6 63.4,247.9 60.8,248.1 57.8,248.9 54.7,249.6 52.6,249.9 50.6,250.2 49.3,252.2 48.1,254.3 47.0,256.6 45.5,256.5 43.9,256.4 42.3,256.3 39.3,257.0 36.2,257.7 33.1,258.4 29.4,259.6 25.8,260.8 22.3,262.3 18.9,263.8 17.5,263.3 16.1,262.8 14.8,262.3 11.6,263.0 8.4,263.8 6.3,264.1 4.2,264.4 -0.9,266.8 -4.4,268.3 -7.9,269.9 -6.5,270.8 -9.1,272.6 -11.7,274.5 -15.7,276.6 -20.0,278.6 -24.3,280.7 -28.6,283.0 -32.8,285.4 -36.4,287.7 -40.0,290.1 -43.5,291.7 -42.1,289.3 -40.6,286.9 -38.4,284.6 -36.2,282.2 -33.9,279.9 -31.7,277.5 -28.0,275.2 -24.4,272.9 -19.2,270.5 -15.5,269.2 -11.4,267.3 -7.4,265.3 -4.2,264.1 -1.1,262.9 3.1,260.7 7.2,258.5 11.4,256.3 8.8,256.8 6.1,257.4 3.5,257.9 0.8,258.4 -1.6,258.5 -4.0,258.6 -6.4,258.7 -11.0,260.5 -15.5,262.3 -21.5,265.3 -24.4,265.7 -27.3,266.2 -28.9,265.6 -30.5,265.0 -33.4,265.4 -36.3,265.9 -38.1,265.8 -39.9,265.7 -41.8,265.6 -43.9,265.7 -45.9,265.8 -48.0,265.9 -51.5,266.8 -55.0,267.7 -60.4,270.2 -64.5,272.0 -68.5,273.8 -73.5,276.5 -78.4,279.1 -81.1,279.6 -83.9,280.0 -83.6,281.1 -83.2,282.2 -81.8,282.5 -80.3,282.8 -77.8,282.2 -75.2,281.6 -74.4,283.0 -73.5,284.4 -75.8,286.1 -78.0,287.9 -80.9,289.8 -83.8,291.7 -87.1,294.9 -90.3,298.1 -93.9,300.5 -97.5,302.9 -101.7,305.3 -105.9,307.8 -110.1,310.2 -114.2,312.6 -117.6,314.3 -121.0,315.9 -124.7,317.2 -128.4,318.5 -129.4,317.9 -130.4,317.2 -132.7,318.2 -135.0,319.2 -138.2,321.6 -141.5,324.1 -143.6,325.7 -147.0,327.4 -150.3,329.0 -152.4,330.0 -152.1,332.3 -152.6,334.8 -153.2,337.3 -154.5,339.3 -155.8,341.3 -158.2,343.6 -160.5,344.3 -163.9,345.3 -167.0,345.9 -165.7,343.6 -162.8,340.6 -160.9,337.6 -158.6,335.0 -160.1,335.0 -161.5,335.0 -160.3,332.3 -160.5,331.0 -158.2,329.0 -158.9,327.7 -161.1,328.2 -163.2,328.7 -165.7,329.7 -168.2,330.7 -170.1,331.4 -165.3,328.1 -162.5,325.7 -163.5,324.4 -167.5,326.1 -171.8,328.1 -176.1,330.0 -179.1,331.0 -180.9,333.0 -180.1,335.0 -180.1,336.6 -176.7,335.7 -174.7,335.7 -172.7,335.7 -170.5,336.3 -172.3,337.6 -174.7,338.3 -177.1,339.0 -180.9,341.3 -184.7,343.9 -183.7,346.3 -184.5,348.4 -185.3,350.6 -185.1,353.2 -185.3,355.2 -186.8,357.6 -190.1,358.9 -189.2,360.5 -189.3,362.2 -192.6,365.5 -195.8,367.9 -199.3,371.2 -202.3,373.8 -204.4,376.2 -206.8,377.8 -209.4,379.2 -213.5,381.8 -216.5,384.1 -218.5,384.5 -220.4,384.8 -223.3,386.1 -225.4,386.5 -228.7,387.8 -231.1,388.5 -233.5,389.1 -236.9,392.4 -237.4,390.4 -237.4,388.5 -240.2,388.5 -243.3,389.1 -246.5,391.4 -249.6,394.1 -251.6,397.1 -251.0,399.7 -250.2,403.0 -249.1,404.9 -248.1,406.7 -247.3,409.7 -247.4,412.0 -247.5,414.3 -248.0,416.5 -248.4,418.6 -249.8,421.9 -251.6,423.1 -253.4,424.2 -256.5,425.5 -258.5,428.2 -261.8,430.8 -263.9,431.5 -263.5,429.7 -263.0,427.9 -263.6,425.5 -266.4,425.2 -267.1,421.9 -268.2,419.6 -270.3,417.9 -271.4,415.6 -273.4,415.6 -275.0,418.6 -276.2,421.1 -277.4,423.6 -279.0,426.9 -277.5,429.5 -276.9,432.5 -276.8,434.3 -276.6,436.1 -274.3,437.4 -272.5,439.4 -270.5,441.7 -269.7,445.0 -269.7,448.3 -268.8,451.6 -268.1,454.9 -270.1,455.6 -272.9,453.3 -274.5,451.8 -276.1,450.3 -277.0,448.5 -277.9,446.7 -278.1,444.5 -278.3,442.4 -277.9,439.1 -279.3,437.1 -280.9,434.1 -282.6,432.5 -282.1,430.5 -281.6,428.5 -280.3,425.2 -279.9,422.7 -279.4,420.3 -279.5,417.8 -279.5,415.3 -279.2,412.8 -278.9,410.3 -278.3,407.8 -277.8,405.4 -280.2,404.4 -284.2,407.7 -286.8,407.0 -286.3,404.5 -285.8,402.1 -285.3,399.9 -284.7,397.7 -285.3,394.4 -286.1,391.1 -286.4,388.8 -285.5,385.8 -287.4,385.1 -289.8,387.1 -292.9,387.8 -296.0,388.5 -298.8,388.5 -301.3,390.1 -303.6,392.8 -307.4,395.1 -310.0,396.4 -313.5,399.4 -317.2,401.7 -320.7,405.0 -324.1,407.4 -326.0,408.0 -328.8,411.0 -329.2,413.3 -329.7,415.6 -330.9,417.9 -332.1,420.3 -332.8,422.2 -333.4,424.2 -335.3,426.2 -337.1,429.2 -339.4,430.5 -341.9,433.1 -343.3,431.8 -344.4,428.5 -344.5,426.0 -344.6,423.6 -345.0,421.6 -345.3,419.6 -345.4,417.4 -345.4,415.3 -345.4,413.1 -345.4,411.0 -345.7,409.0 -346.0,407.0 -345.6,404.5 -345.2,402.1 -344.6,399.6 -343.9,397.1 -342.9,394.6 -341.9,392.1 -340.7,389.1 -339.9,386.5 -342.4,388.1 -346.2,391.1 -348.1,389.5 -348.9,386.1 -346.1,384.5 -347.9,383.8 -348.5,381.8 -350.5,380.5 -350.1,377.8 -350.0,375.8 -351.6,376.0 -353.2,376.2 -355.3,376.2 -357.4,376.2 -359.5,376.3 -361.7,376.5 -364.2,376.5 -365.5,376.2 -366.8,375.8 -368.8,375.7 -370.8,375.5 -372.2,375.2 -373.7,374.8 -373.6,372.2 -373.3,370.2 -375.6,370.2 -379.2,371.5 -382.0,371.5 -384.0,370.5 -385.2,368.2 -385.4,365.5 -385.1,363.2 -384.7,360.2 -386.6,359.2 -389.3,360.9 -392.0,362.5 -393.1,365.9 -393.3,369.2 -392.9,372.2 -393.6,374.5 -394.9,377.8 -393.1,375.7 -391.3,373.5 -391.0,375.2 -393.1,378.5 -391.5,379.8 -388.9,380.2 -385.7,379.5 -380.9,376.2 -377.5,373.5 -376.2,372.8 -377.6,375.0 -379.0,377.2 -379.6,379.5 -378.4,381.2 -376.0,381.8 -375.1,385.1 -374.8,386.1 -377.1,388.3 -379.4,390.4 -381.8,392.4 -384.7,394.4 -386.4,397.4 -388.4,398.4 -390.4,399.4 -392.5,400.6 -394.5,401.7 -396.8,403.7 -399.2,404.5 -401.7,405.4 -404.1,406.9 -406.5,408.3 -409.3,409.3 -412.1,410.3 -414.5,411.2 -416.9,412.0 -420.4,413.6 -422.8,414.6 -425.3,415.6 -427.7,416.6 -430.2,417.6 -433.2,418.3 -434.8,417.9 -434.7,416.0 -434.6,414.0 -434.5,412.0 -433.8,408.7 -432.1,405.4 -432.1,402.1 -433.1,398.7 -433.2,396.9 -433.2,395.1 -433.5,393.3 -433.8,391.4 -433.7,388.1 -432.3,384.8 -431.6,381.5 -432.2,378.8 -431.6,375.5 -431.3,373.7 -431.0,371.8 -430.8,370.0 -430.5,368.2 -430.7,366.5 -429.1,364.4 -427.5,362.2 -430.7,365.0 -433.7,367.9 -434.3,365.9 -433.5,363.3 -432.8,360.7 -433.8,362.2 -434.6,364.5 -435.5,367.9 -436.9,371.2 -437.6,374.5 -438.2,377.8 -438.6,381.2 -439.3,383.3 -439.9,385.5 -439.6,387.8 -440.4,389.9 -441.2,392.1 -442.6,395.4 -442.9,398.7 -442.0,401.1 -442.4,404.0 -442.7,407.0 -442.2,409.3 -440.6,411.0 -439.3,413.6 -437.6,416.9 -435.9,418.6 -436.0,420.9 -437.8,421.9 -435.9,423.2 -433.9,425.5 -430.9,424.9 -427.9,424.2 -424.8,423.2 -422.9,422.9 -420.9,422.6 -419.0,422.2 -417.1,421.9 -415.2,421.4 -413.4,420.9 -414.3,423.1 -415.1,425.2 -416.8,428.5 -418.1,430.7 -419.4,432.8 -420.9,435.1 -422.3,437.4 -423.9,439.7 -425.6,442.1 -427.0,444.0 -428.3,446.0 -430.2,448.2 -432.1,450.3 -433.9,451.8 -435.7,453.3 -437.8,454.9 -439.8,456.6 -441.4,458.6 -443.0,460.5 -444.6,462.5 -446.1,464.5 -448.8,467.8 -450.5,470.8 -451.1,472.6 -451.6,474.4 -452.4,477.4 -452.7,479.4 -452.9,481.3 -450.5,484.0 -450.1,486.0 -449.7,487.9 -448.7,490.4 -447.6,492.9 -444.9,495.5 -444.0,498.4 -443.0,501.2 -442.2,503.6 -441.3,506.1 -439.5,509.4 -440.0,511.6 -440.6,513.7 -442.2,515.7 -443.9,517.7 -445.0,519.0 -446.0,520.4 -446.9,522.4 -447.7,524.3 -448.8,526.0 -446.9,528.2 -445.0,530.3 -443.6,532.3 -442.1,534.3 -440.6,536.8 -439.1,539.3 -440.1,541.9 -441.4,543.1 -442.7,544.3 -440.9,547.6 -439.6,549.7 -438.3,551.9 -436.8,555.2 -436.8,556.9 -436.9,558.6 -436.4,560.5 -436.0,562.5 -436.2,565.0 -436.4,567.5 -436.9,569.2 -437.4,570.8 -438.4,571.7 -439.3,572.5 -441.3,572.5 -443.3,572.5 -445.3,572.5 -446.8,573.0 -448.3,573.5 -450.2,574.3 -452.0,575.2 -454.5,574.3 -456.9,573.5 -459.0,572.5 -462.8,569.2 -466.4,565.9 -469.7,563.4 -472.8,560.9 -476.6,557.7 -480.4,554.6 -483.5,552.4 -486.6,550.2 -488.9,548.1 -491.2,545.9 -493.6,543.4 -495.9,540.9 -498.1,538.1 -500.3,535.3 -503.8,532.0 -507.2,528.7 -510.3,525.7 -513.3,522.7 -515.5,520.2 -517.6,517.7 -518.8,515.2 -519.9,512.7 -520.5,509.8 -521.0,506.8 -520.9,504.5 -520.8,502.2 -520.6,499.5 -520.3,496.9 -521.8,494.1 -523.3,491.2 -525.0,487.9 -526.5,485.1 -527.9,482.3 -528.9,479.7 -530.0,476.4 -531.5,474.6 -533.0,472.8 -534.8,470.9 -536.5,469.1 -538.7,465.8 -540.3,462.5 -539.6,460.7 -538.9,458.9 -538.3,456.6 -537.7,454.1 -537.2,451.6 -537.5,448.3 -539.0,446.7 -540.5,444.7 -543.1,445.0 -546.0,445.7 -548.0,445.4 -548.6,443.5 -549.2,441.7 -550.8,439.4 -552.3,439.1 -553.8,438.8 -555.8,438.9 -557.8,439.1 -560.2,439.7 -562.1,440.6 -563.9,441.4 -567.0,443.1 -570.0,444.0 -572.7,443.1 -575.5,442.7 -578.4,443.1 -581.4,444.0 -583.6,444.7 -585.9,445.4 -588.6,444.4 -591.1,442.4 -593.5,439.4 -595.6,437.1 -597.7,434.8 -599.6,432.2 -599.1,429.2 -601.0,426.9 -601.8,424.2 -602.9,421.6 -605.1,419.6 -604.8,417.8 -604.5,416.0 -604.2,412.6 -604.5,411.3 -602.1,409.7 -599.4,406.4 -597.8,404.2 -596.3,402.1 -594.2,398.7 -592.8,395.4 -592.7,392.4 -592.0,390.4 -590.2,388.5 -588.5,386.5 -586.4,384.6 -584.3,382.8 -579.9,379.5 -575.4,376.2 -571.6,373.2 -567.2,370.5 -563.0,367.5 -560.5,366.9 -558.0,366.2 -555.2,365.0 -552.4,363.9 -548.0,360.5 -545.1,357.2 -542.6,355.2 -540.1,353.2 -537.0,351.4 -533.9,349.6 -529.9,348.3 -526.6,346.9 -522.0,343.9 -518.0,341.3 -516.0,341.0 -516.4,343.3 -513.8,343.3 -511.4,343.6 -508.0,342.9 -503.5,341.3 -499.0,339.6 -495.6,339.0 -493.0,338.5 -490.5,338.0 -488.3,337.8 -486.1,337.6 -483.9,337.5 -481.7,337.3 -479.7,337.3 -477.7,337.3 -476.4,337.5 -475.2,337.6 -472.8,337.0 -470.5,336.3 -470.6,337.6 -468.0,337.0 -471.9,339.3 -473.7,341.9 -474.6,343.3 -478.3,345.6 -481.7,347.6 -480.8,348.6 -480.6,350.2 -478.8,351.2 -476.3,350.9 -475.2,351.4 -474.0,351.9 -473.1,353.2 -473.9,355.6 -473.1,356.4 -472.2,357.2 -470.9,358.1 -469.5,358.9 -467.1,359.2 -463.1,356.6 -461.0,353.9 -457.5,351.9 -453.9,350.9 -452.6,351.2 -451.3,351.6 -451.4,353.2 -449.3,353.9 -448.1,355.2 -446.5,355.4 -444.8,355.6 -443.4,356.2 -441.9,356.9 -439.8,357.6 -435.9,356.2 -432.3,355.2 -430.5,356.2 -428.3,356.9 -426.4,356.6 -424.5,356.2 -421.4,353.9 -418.2,351.2 -416.2,349.6 -413.2,347.6 -410.0,345.3 -407.4,342.6 -405.7,340.6 -402.6,338.6 -403.9,338.3 -405.7,338.0 -409.5,339.6 -412.8,340.3 -414.4,340.0 -415.1,338.6 -416.9,338.0 -419.4,339.6 -422.0,339.6 -422.8,338.3 -424.9,338.0 -423.3,336.0 -422.2,334.0 -422.7,333.0 -419.8,331.4 -417.8,329.4 -419.0,329.0 -416.2,327.1 -412.4,326.1 -410.8,326.1 -409.2,326.1 -405.1,324.8 -404.5,323.4 -406.5,323.9 -408.4,324.3 -411.2,324.4 -414.2,325.4 -414.2,324.8 -416.5,324.4 -419.5,324.8 -422.8,326.4 -423.2,325.4 -425.5,326.7 -427.7,329.0 -427.5,330.0 -430.0,331.0 -429.6,332.3 -429.4,333.3 -431.2,335.0 -432.6,334.3 -435.0,336.0 -437.6,339.0 -439.9,339.3 -439.2,337.6 -440.6,338.0 -438.8,335.3 -435.8,333.3 -436.4,332.7 -435.3,331.0 -434.6,329.0 -433.4,327.4 -433.1,326.1 -430.5,324.1 -427.5,321.5 -427.1,320.2 -426.9,319.2 -427.0,317.9 -427.4,316.6 -428.6,315.9 -427.6,314.3 -427.2,313.0 -425.2,311.0 -425.4,310.0 -428.7,311.7 -427.6,310.4 -425.1,308.7 -426.9,308.7 -430.5,310.0 -433.9,312.6 -435.4,314.3 -435.3,315.9 -438.1,319.2 -437.8,320.8 -436.8,321.0 -435.7,321.1 -437.6,322.5 -436.9,323.8 -436.4,324.6 -436.0,325.4 -436.7,327.1 -438.7,327.4 -438.9,326.1 -442.1,327.4 -444.4,329.4 -444.7,330.7 -448.5,332.7 -451.8,334.3 -451.7,333.3 -448.7,331.7 -445.9,329.7 -444.5,327.4 -445.1,326.4 -445.5,325.4 -444.9,324.1 -446.3,323.1 -446.4,321.8 -445.7,319.8 -446.1,319.2 -445.5,317.5 -442.3,314.6 -442.8,313.6 -443.7,313.0 -447.5,314.6 -449.7,314.9 -451.9,315.6 -455.0,316.9 -457.3,317.2 -458.0,316.2 -458.8,315.9 -460.4,315.9 -464.3,317.2 -467.2,319.2 -469.3,321.1 -474.5,323.1 -476.7,323.6 -478.9,324.1 -480.7,325.1 -485.8,327.4 -489.0,329.4 -490.1,331.4 -494.0,333.0 -497.5,335.3 -500.2,336.0 -504.2,338.3 -506.8,338.3 -508.7,338.3 -510.6,338.3 -512.9,339.0 -515.5,340.3Z M447.4,294.5 448.9,294.2 450.4,293.9 452.9,293.6 455.4,293.0 457.3,292.6 459.1,292.3 461.0,292.3 462.9,292.3 465.1,291.0 463.8,289.8 465.8,288.2 465.8,286.3 464.3,286.0 462.8,285.7 462.1,283.8 461.1,282.2 460.2,280.7 458.0,279.1 457.3,277.2 455.6,276.0 454.9,275.1 456.4,273.5 457.3,271.4 456.9,270.8 455.1,270.8 453.3,270.8 454.5,268.0 452.2,268.0 449.8,268.0 449.3,270.5 447.8,272.0 448.2,274.5 447.2,276.6 448.3,278.2 450.0,279.1 449.5,280.0 451.3,279.7 453.1,279.4 453.8,281.6 454.3,284.1 452.3,284.3 450.3,284.4 451.3,286.0 451.5,287.6 450.1,288.4 448.8,289.1 450.2,289.5 451.7,289.8 454.2,290.4 452.7,290.9 451.2,291.4 449.2,293.0Z M446.8,287.9 446.4,285.4 446.7,282.8 448.2,280.7 447.1,278.5 445.5,278.3 444.0,278.2 442.7,278.5 441.5,278.8 440.9,281.3 439.1,281.4 437.3,281.6 437.6,284.1 438.8,285.0 437.2,288.2 436.4,289.8 438.3,290.1 439.8,289.6 441.3,289.1 442.8,288.7 444.3,288.2Z M494.5,334.3 496.9,333.3 499.3,333.3 501.7,333.3 503.0,333.0 502.1,336.0 501.9,338.3 500.0,338.0 497.6,336.6 495.1,335.3Z M483.8,330.7 483.5,328.1 483.1,325.4 484.6,323.4 486.8,324.1 487.0,326.6 487.2,329.0 485.4,330.7Z M484.1,322.8 484.0,321.0 484.0,319.2 486.0,317.5 486.4,320.8 485.7,322.8Z M524.6,342.9 527.3,342.6 529.7,342.9 532.2,343.3 531.4,343.9 529.4,344.1 527.4,344.3 524.7,343.3Z M548.4,344.9 549.9,342.9 552.0,342.4 554.0,341.9 552.9,343.9 550.4,345.3Z M488.2,278.2 488.8,276.3 491.2,275.7 492.0,276.9 491.2,279.1 489.4,278.8Z M485.3,278.2 486.7,277.2 487.7,278.2 486.8,279.1Z M504.8,272.9 505.3,270.2 506.7,270.5 506.2,272.3Z M467.9,329.0 469.8,327.7 470.6,328.7 469.3,329.7Z M688.9,439.4 688.9,436.4 688.9,433.5 689.0,431.0 689.2,428.5 691.6,430.5 692.8,432.5 694.7,435.5 694.0,438.8 691.2,440.2 689.4,439.1Z M601.3,499.5 602.0,502.6 602.7,505.7 603.4,508.8 604.1,511.1 602.9,513.6 601.8,516.1 600.9,518.5 600.0,521.0 598.6,524.3 597.3,527.7 596.0,531.0 594.7,534.3 593.9,536.8 593.0,539.4 592.1,541.9 589.8,543.1 587.4,544.3 585.4,543.4 583.4,542.6 583.1,540.1 582.8,537.6 582.6,535.1 582.3,532.6 583.5,530.1 584.7,527.7 585.3,525.2 585.9,522.7 585.6,520.2 585.3,517.7 586.2,515.6 587.0,513.4 589.9,512.1 592.1,511.1 594.3,510.1 595.8,507.8 597.3,505.5 598.6,503.3 599.8,501.2Z M612.5,418.3 615.1,417.9 616.0,418.6 614.0,419.3Z M814.4,347.3 815.2,345.3 816.9,342.6 819.4,342.3 821.3,341.9 823.2,341.6 825.6,341.0 825.7,339.1 825.9,337.3 826.0,335.7 827.8,338.0 828.9,337.0 830.1,336.0 831.4,333.0 831.1,331.0 830.8,329.0 829.2,325.7 829.4,323.4 831.3,323.1 833.2,325.7 836.1,329.0 836.4,331.0 836.7,333.0 836.6,335.7 837.5,339.0 838.7,341.6 837.5,343.9 835.1,343.3 834.7,344.9 833.3,345.3 831.6,345.3 830.0,345.3 829.9,346.3 828.8,348.9 826.2,347.9 825.5,345.3 823.2,344.9 820.9,345.9 818.4,346.6 816.0,347.3Z M812.3,349.6 813.3,348.6 814.8,347.6 817.5,349.9 818.0,351.9 818.4,353.9 818.4,356.2 817.2,357.2 815.7,356.2 815.0,353.2 813.0,351.6Z M819.6,349.6 820.0,347.3 822.4,346.3 824.6,347.3 824.0,349.2 821.7,349.6 821.4,351.6Z M827.6,322.5 829.7,321.5 829.6,318.8 832.5,319.8 835.3,320.8 836.1,319.3 836.8,317.9 838.7,316.6 836.3,313.6 834.8,313.8 833.4,313.9 829.6,311.8 825.8,309.7 825.1,310.4 826.5,312.5 827.8,314.6 828.0,316.9 825.5,316.6 825.9,319.2Z M824.6,307.8 824.7,305.8 827.7,306.5 825.7,303.7 823.7,300.9 821.7,298.1 824.2,298.1 821.7,295.4 819.1,292.7 816.6,290.1 814.8,287.7 813.0,285.4 811.3,283.3 809.5,281.3 808.3,281.3 809.6,283.3 810.8,285.4 811.8,288.5 813.6,290.9 815.5,293.3 817.6,296.5 819.7,299.7 821.1,302.1 822.4,304.5Z M795.7,383.8 798.1,387.1 798.7,387.1 799.0,384.6 799.2,382.1 799.3,379.7 799.4,377.2 797.8,376.2 796.1,378.5 795.9,381.2Z M766.1,396.4 769.2,399.7 771.8,398.4 772.6,395.1 770.9,393.4 768.2,393.8 766.1,395.1Z M799.8,406.4 799.8,403.8 799.9,401.3 799.9,398.7 802.6,398.4 805.0,399.1 805.3,401.4 805.5,403.7 805.0,405.7 804.5,407.7 805.0,410.3 805.5,413.0 807.8,413.0 810.1,414.0 812.3,415.0 813.3,418.3 810.6,416.9 808.1,415.0 806.0,414.3 804.3,414.3 802.6,414.3 802.3,411.7 799.9,409.0Z M808.9,436.8 810.9,435.5 812.9,434.1 814.8,432.5 817.4,430.2 818.3,427.5 820.6,430.8 821.2,433.8 821.7,436.8 820.4,439.4 818.5,441.1 815.6,439.4 814.7,437.3 813.9,435.1 812.1,436.1 810.3,437.1Z M813.6,418.6 815.5,419.1 817.5,419.6 817.8,421.6 818.2,423.6 816.8,426.9 814.5,426.2 814.6,424.1 814.6,421.9Z M807.4,420.9 809.3,422.2 811.1,423.6 811.7,425.5 812.4,427.5 809.7,429.2 808.8,427.2 807.9,425.2 807.7,423.1Z M801.9,415.3 804.5,415.6 805.7,418.3 804.4,419.6 802.5,417.6Z M794.9,432.2 796.6,430.3 798.3,428.5 799.5,426.4 800.7,424.2 799.9,422.2 798.3,424.6 796.7,426.9 795.5,429.2 794.2,431.5Z M772.5,454.9 774.2,453.3 776.2,454.1 778.2,454.9 779.6,452.6 781.0,450.3 783.8,449.3 785.2,447.2 786.5,445.0 788.6,443.7 790.7,442.4 792.0,440.1 794.6,436.8 796.8,439.4 799.2,441.7 801.2,442.7 798.8,444.7 797.1,446.7 797.4,449.2 797.6,451.6 799.0,453.8 800.5,455.9 797.7,457.2 797.2,459.4 796.8,461.5 794.8,464.8 793.9,468.1 793.1,470.1 792.3,472.1 790.2,471.8 788.1,471.4 786.0,470.9 783.8,470.4 782.1,470.8 780.4,471.1 778.3,470.3 776.2,469.5 775.8,467.1 775.4,464.8 774.1,462.4 772.9,459.9 772.7,457.4Z M733.1,441.4 735.2,441.8 737.3,442.3 739.4,442.7 741.1,444.9 742.7,447.0 745.2,449.8 747.7,452.6 749.7,453.9 751.6,455.3 753.4,456.6 755.2,458.2 756.9,459.9 757.7,463.2 759.7,466.5 761.6,469.0 763.6,471.4 763.4,474.0 763.2,476.5 763.0,479.0 761.3,479.2 759.5,479.4 758.1,477.5 756.6,475.7 754.9,474.2 753.3,472.8 751.5,469.9 749.7,467.1 748.7,465.2 747.7,463.2 746.2,460.7 744.6,458.2 743.7,456.3 742.9,454.3 741.0,452.1 739.1,450.0 737.2,447.8 735.2,445.7 734.2,443.5Z M761.1,482.3 763.8,479.7 765.9,480.0 767.9,480.3 770.0,480.7 772.0,481.3 773.9,482.0 775.9,482.7 777.5,482.2 779.1,481.7 780.9,482.3 782.7,483.0 785.0,484.3 787.3,485.6 786.8,488.6 784.2,488.1 781.5,487.6 779.2,487.3 776.8,487.0 774.5,486.6 771.7,486.1 768.8,485.6 766.8,485.0 764.7,484.3 762.9,483.3Z M761.4,465.2 764.0,465.2 765.1,467.5 766.2,469.8 763.9,470.1 762.7,467.6Z M801.8,478.0 804.6,478.0 804.7,475.1 804.7,472.1 804.7,469.1 807.6,468.1 809.2,471.4 810.8,474.7 812.8,473.7 811.2,471.8 809.5,469.8 808.6,467.8 807.6,465.8 809.8,464.3 811.9,462.9 813.4,462.2 811.2,462.0 809.0,461.8 806.8,461.5 804.5,458.6 806.5,455.6 808.8,456.1 811.1,456.6 813.9,456.3 816.8,455.9 818.7,454.9 815.9,458.2 813.8,458.2 811.7,458.2 809.7,458.2 806.8,458.1 803.9,457.9 803.5,459.7 803.1,461.5 801.9,464.0 800.8,466.5 801.3,469.0 801.8,471.4 801.8,474.7Z M825.3,453.9 826.7,452.6 826.7,454.6 826.8,456.6 828.8,458.2 826.8,459.2 826.2,462.5 825.1,459.9 825.2,456.9Z M826.6,470.4 829.3,470.2 831.9,470.0 834.6,469.8 834.5,472.4 832.3,472.2 830.2,472.0 828.0,471.8Z M820.9,470.4 822.6,470.6 824.3,470.8 823.7,472.4 821.1,472.4Z M787.2,487.0 789.4,487.1 791.5,487.3 794.3,487.4 797.2,487.5 800.0,487.6 802.8,487.6 805.7,487.6 808.5,487.3 811.4,487.0 811.3,488.6 808.4,488.9 805.5,489.3 802.7,489.1 799.9,488.9 797.0,489.3 794.1,489.6 791.3,489.3 788.5,488.9Z M813.8,492.6 816.8,490.3 819.1,489.4 821.3,488.5 823.6,487.6 822.3,488.9 819.5,490.6 816.6,492.2 813.6,493.9Z M799.7,491.2 801.8,491.2 803.9,491.2 804.3,493.6 802.4,492.9 800.4,492.2Z M835.3,464.2 837.5,462.7 839.6,461.2 841.7,461.9 843.9,462.5 844.8,465.3 845.7,468.0 846.5,470.8 848.7,469.0 850.9,467.1 853.1,466.2 855.3,465.2 858.1,466.5 860.9,467.8 863.7,468.8 866.5,469.8 869.3,471.1 872.1,472.4 874.5,474.1 876.8,475.7 877.5,478.0 879.8,479.0 882.0,480.0 882.0,483.0 882.9,485.5 883.8,487.9 885.7,490.8 887.5,493.6 884.6,494.2 881.9,492.7 879.2,491.2 878.1,488.8 876.9,486.3 874.8,485.6 872.7,485.0 871.1,487.3 869.5,489.6 866.5,490.6 864.4,490.3 862.3,489.9 860.3,488.4 858.3,487.0 855.4,487.6 855.0,484.4 854.4,481.2 853.9,478.0 851.9,476.8 849.9,475.6 847.8,474.4 845.0,473.4 842.2,472.4 840.2,473.1 839.1,471.1 838.0,469.1 836.7,466.6Z M884.1,478.4 886.5,477.5 889.0,476.7 891.2,475.2 893.5,473.7 895.7,474.1 894.5,476.1 893.2,478.0 891.0,479.2 888.8,480.3 886.7,480.0 884.6,479.7Z M891.7,468.5 893.6,469.6 895.6,470.8 896.9,472.9 898.2,475.1 897.1,475.7 895.7,473.7 894.4,471.8Z M903.1,479.7 905.1,481.3 907.1,483.0 909.6,486.3 912.4,487.1 915.1,487.9 917.6,491.2 920.1,493.6 918.2,491.6 916.4,489.6 913.8,487.1 911.2,484.6 908.5,483.0 905.8,481.3Z M778.1,532.6 780.1,532.0 782.2,530.6 784.3,529.3 786.1,528.7 787.9,528.0 790.5,527.5 793.2,527.0 795.4,526.0 797.7,525.0 800.2,523.0 802.7,521.0 804.3,518.5 805.8,516.1 807.6,515.2 809.5,514.4 811.4,511.1 814.7,507.8 817.0,506.8 819.3,505.8 820.9,506.8 822.6,507.8 824.4,509.4 827.3,508.8 828.4,506.3 829.4,503.8 831.2,500.8 834.2,500.2 837.3,497.9 840.0,498.8 842.0,499.5 844.1,500.2 846.7,499.8 849.3,499.5 848.6,501.5 847.9,503.5 845.9,505.5 844.2,508.8 846.6,511.4 848.5,512.9 850.3,514.4 852.1,516.1 853.9,517.7 855.8,517.5 857.6,517.4 859.1,515.1 860.5,512.7 861.1,510.0 861.6,507.2 862.2,504.5 862.9,502.0 863.7,499.5 864.9,497.4 866.0,495.2 866.9,497.2 867.7,499.2 867.6,502.3 867.4,505.5 869.9,507.1 871.8,509.1 871.6,511.4 871.3,513.7 871.9,515.7 872.5,517.7 872.2,520.2 871.9,522.7 873.9,524.3 875.9,526.0 877.3,527.7 878.7,529.3 879.2,531.5 879.6,533.6 880.4,535.6 881.2,537.6 883.0,540.9 884.7,544.3 884.0,547.3 883.3,550.2 882.5,553.2 881.7,556.2 880.8,559.2 878.0,559.4 875.3,559.6 872.5,559.7 869.8,559.9 867.0,560.1 864.2,560.2 861.5,560.4 858.7,560.6 856.0,560.8 853.2,560.9 850.5,561.1 847.7,561.3 845.0,561.4 842.2,561.6 839.5,561.8 836.7,561.9 834.0,562.1 831.2,562.3 828.5,562.5 825.7,562.6 823.0,562.8 820.2,563.0 817.5,563.1 814.7,563.3 812.0,563.5 809.3,563.7 806.5,563.8 803.8,564.0 801.0,564.2 798.3,564.3 795.6,564.5 792.8,564.7 790.1,564.8 787.3,565.0 784.6,565.2 781.9,565.4 779.1,565.5 776.4,565.7 773.7,565.9 774.0,562.5 774.3,559.2 774.6,555.9 774.8,552.6 774.9,549.2 775.1,545.9 775.9,542.6 776.6,539.3 777.4,536.0Z M920.5,526.7 922.3,528.0 924.0,529.3 925.5,531.5 926.9,533.6 925.4,534.0 923.7,532.0 921.9,530.0Z M960.2,517.7 962.0,517.4 963.7,517.1 963.3,520.0 961.6,519.9 960.0,519.7Z M484.2,212.5 486.3,213.1 488.3,213.7 490.4,214.8 492.6,216.0 494.8,217.2 496.4,214.9 497.8,214.3 499.2,213.7 501.0,213.1 502.9,212.5 504.4,210.5 506.3,210.2 508.2,209.9 510.0,209.5 511.9,209.2 513.7,208.9 511.7,208.5 509.6,208.1 507.6,207.7 505.7,207.7 503.8,207.7 501.9,207.7 499.9,207.7 498.1,208.0 496.2,208.3 494.4,208.6 492.5,208.9 490.6,209.0 488.7,209.1 486.7,209.2 484.8,209.4 483.7,209.9 482.6,210.5Z M552.1,208.4 554.0,208.5 556.0,208.5 557.9,208.6 559.9,208.7 561.8,208.7 563.8,208.8 565.8,208.8 567.7,208.9 569.6,208.7 571.4,208.6 573.2,208.4 575.0,208.2 576.8,208.1 578.6,207.9 580.4,207.7 581.8,206.9 583.1,206.2 581.0,205.9 579.0,205.7 576.9,205.5 574.9,205.3 572.8,205.1 570.8,204.8 569.0,204.9 567.1,205.0 565.3,205.1 563.5,205.2 561.6,205.2 559.8,205.3 558.0,205.4 556.1,205.5 554.5,205.9 552.8,206.3 551.1,206.7 549.4,207.1Z M572.5,232.6 572.8,230.7 573.8,229.3 574.9,228.0 576.0,226.9 577.1,225.8 578.1,224.5 579.0,223.2 580.4,221.8 581.9,220.5 583.2,219.8 584.5,219.0 585.7,218.2 587.2,217.9 588.7,217.5 590.2,217.2 592.0,216.8 593.8,216.5 595.7,216.2 597.5,216.3 599.4,216.4 598.7,218.0 597.0,218.5 595.4,219.1 593.7,219.8 592.0,220.4 590.3,221.1 588.6,221.8 587.1,222.9 585.6,223.9 584.5,225.0 583.4,226.1 582.5,227.4 581.5,228.8 580.4,231.2 582.4,232.2 584.4,233.2 582.6,233.2 580.9,233.2 579.1,233.2 577.4,233.0 575.8,232.9 574.1,232.7Z M587.0,234.3 589.3,234.5 591.5,234.8 592.0,235.9 590.3,235.6 588.6,235.4Z M649.2,211.2 651.6,211.7 653.9,212.1 656.3,212.5 658.7,212.9 660.4,212.6 662.0,212.3 663.7,212.0 665.3,211.7 664.7,209.4 662.2,208.8 659.6,208.2 657.1,207.7 654.5,207.1 652.0,206.6 650.4,206.7 648.8,206.8 647.1,206.9 645.5,207.0 643.9,207.1 643.2,208.2 642.5,209.4 644.7,210.0 647.0,210.6Z M742.7,221.3 745.4,222.2 748.1,223.1 750.8,223.9 753.4,224.4 756.0,224.8 758.5,225.3 759.8,224.6 761.1,223.9 762.4,223.2 763.6,222.5 764.8,221.8 766.0,221.4 767.2,221.0 768.3,220.5 766.4,220.4 764.4,220.3 762.5,220.2 760.5,220.1 758.5,220.0 756.0,219.6 753.5,219.2 751.0,218.8 748.5,218.5 746.4,218.4 744.3,218.3 742.2,218.2 742.5,219.8Z M841.6,232.0 842.0,231.2 842.4,230.4 844.1,230.5 845.9,230.6 847.6,230.7 847.8,232.0 846.4,232.2 845.0,232.3 843.3,232.2Z M75.7,232.0 78.2,231.2 80.8,230.4 82.3,230.5 83.8,230.6 85.3,230.7 81.8,232.0 80.0,232.2 78.3,232.3 77.0,232.2Z" fill="#f0f0f0"/>
 <rect x="0" y="180" width="950" height="353" filter="url(#grain)" clip-path="url(#landclip)"/>
 <g clip-path="url(#landclip)"><g filter="url(#tex)" fill="none" stroke="#000" stroke-linecap="round" stroke-linejoin="round">
<path d="M105.8,239.9 123.5,239.6 139.4,239.0 153.3,238.2" stroke-opacity="0.095" stroke-width="7.7"/>
<path d="M891.7,239.9 908.8,239.6 923.2,239.0 935.0,238.2" stroke-opacity="0.1" stroke-width="7"/>
<path d="M106.0,259.3 119.3,254.9 129.0,254.3 134.5,258.4 140.0,262.9 145.0,265.3" stroke-opacity="0.133" stroke-width="9.9"/>
<path d="M937.3,259.3 940.8,254.9 949.2,254.3 963.9,258.4 979.1,262.9 989.2,265.3" stroke-opacity="0.14" stroke-width="9"/>
<path d="M83.6,268.3 90.4,271.4 70.7,277.5" stroke-opacity="0.076" stroke-width="5.5"/>
<path d="M934.1,268.3 947.1,271.4 939.5,277.5" stroke-opacity="0.08" stroke-width="5"/>
<path d="M145.1,249.0 157.3,250.5 167.4,251.9 171.8,257.8 173.0,262.3" stroke-opacity="0.114" stroke-width="11.0"/>
<path d="M953.2,249.0 968.8,250.5 982.2,251.9 999.9,257.8 1010.9,262.3" stroke-opacity="0.12" stroke-width="10"/>
<path d="M147.4,265.3 150.0,274.5 151.0,283.8 152.6,293.3 154.9,298.1" stroke-opacity="0.142" stroke-width="11.0"/>
<path d="M991.6,265.3 1012.8,274.5 1031.5,283.8 1049.8,293.3 1060.0,298.1" stroke-opacity="0.15" stroke-width="10"/>
<path d="M159.2,268.3 162.4,277.5 167.2,285.4 170.9,291.7 173.7,298.1" stroke-opacity="0.133" stroke-width="11.0"/>
<path d="M174.2,299.7 175.3,307.8 177.5,314.3 181.3,324.1 180.3,334.0 178.8,342.3" stroke-opacity="0.071" stroke-width="12.1"/>
<path d="M155.2,299.7 148.6,311.0 143.5,320.8 143.1,330.7 144.5,337.3 144.8,342.3" stroke-opacity="0.104" stroke-width="6.6"/>
<path d="M152.5,324.1 157.7,330.7 163.8,335.7 166.2,343.9" stroke-opacity="0.048" stroke-width="15.4"/>
<path d="M164.9,357.2 167.7,367.2 170.9,377.2 173.0,387.1 178.6,395.4" stroke-opacity="0.114" stroke-width="8.8"/>
<path d="M182.7,373.8 184.8,383.8 187.3,393.8 189.3,398.7" stroke-opacity="0.085" stroke-width="5.5"/>
<path d="M178.5,396.1 186.7,397.1 190.2,402.1" stroke-opacity="0.095" stroke-width="6.6"/>
<path d="M191.4,403.7 202.1,408.7 210.3,411.0 218.3,415.3 221.9,423.6 225.8,429.5" stroke-opacity="0.095" stroke-width="5.5"/>
<path d="M234.3,345.6 245.6,338.0 254.0,331.4 261.0,324.8 269.1,319.2 275.6,314.3" stroke-opacity="0.057" stroke-width="6.6"/>
<path d="M255.9,423.6 252.6,433.5 246.5,443.4 242.0,453.3 237.7,463.2 236.4,473.1 239.7,484.6 246.0,496.2 255.3,506.1 262.9,512.7 268.6,522.7 270.6,532.6 272.4,545.9" stroke-opacity="0.142" stroke-width="9.9"/>
<path d="M269.9,512.7 273.7,522.7 276.6,536.0" stroke-opacity="0.095" stroke-width="8.8"/>
<path d="M262.7,428.5 271.4,426.2 281.3,425.9" stroke-opacity="0.076" stroke-width="4.4"/>
<path d="M279.2,445.0 287.8,443.4 293.5,445.0" stroke-opacity="0.048" stroke-width="8.8"/>
<path d="M326.1,509.4 335.2,519.4 341.4,527.7 333.5,534.3" stroke-opacity="0.048" stroke-width="11.0"/>
<path d="M361.5,262.3 353.1,259.3 348.4,251.9 346.9,243.3 347.8,234.8 346.3,228.0 343.7,220.0 331.6,216.2 327.9,212.5 343.6,206.6 377.8,203.4 406.2,202.3 424.1,204.4 424.5,211.2 418.7,221.3 410.5,232.0 400.6,239.0 386.3,244.7 371.5,250.5 361.5,262.3" stroke-opacity="0.067" stroke-width="6.6"/>
<path d="M476.6,313.6 479.5,308.4 484.6,306.8 489.6,305.2 494.7,304.5 501.0,303.5" stroke-opacity="0.123" stroke-width="5.5"/>
<path d="M456.9,317.5 464.2,318.5 469.4,319.5" stroke-opacity="0.095" stroke-width="3.3"/>
<path d="M440.6,325.7 451.1,325.7 453.6,334.0 449.6,337.3" stroke-opacity="0.048" stroke-width="8.8"/>
<path d="M506.7,296.5 514.4,297.4 522.2,300.3 526.5,304.5 528.3,309.4 523.2,310.0 519.4,311.0" stroke-opacity="0.076" stroke-width="4.4"/>
<path d="M500.2,311.0 505.5,314.3 510.9,317.5 515.2,322.5 518.2,327.4 519.9,332.3" stroke-opacity="0.095" stroke-width="5.5"/>
<path d="M484.8,313.0 491.3,314.9 496.2,319.2 500.9,324.1 503.8,329.0" stroke-opacity="0.085" stroke-width="3.3"/>
<path d="M476.9,266.8 480.2,260.8 484.5,256.3 490.8,249.0 495.8,243.3 500.8,239.0 506.9,236.2" stroke-opacity="0.095" stroke-width="5.5"/>
<path d="M562.3,314.3 570.5,316.9 578.8,319.8 587.2,323.1" stroke-opacity="0.133" stroke-width="4.4"/>
<path d="M608.2,291.7 605.7,279.1 600.6,263.8 597.4,251.9 600.0,241.8" stroke-opacity="0.048" stroke-width="3.3"/>
<path d="M535.8,332.3 544.1,336.3 552.1,336.6 559.8,334.0 567.4,331.4 575.1,329.7" stroke-opacity="0.104" stroke-width="8.8"/>
<path d="M578.4,334.0 583.6,342.3 591.2,348.9 599.1,357.2 606.6,362.2 615.4,367.2" stroke-opacity="0.114" stroke-width="8.8"/>
<path d="M589.5,337.3 597.9,340.0 605.6,338.0 613.2,335.7 621.8,339.0" stroke-opacity="0.095" stroke-width="3.3"/>
<path d="M626.0,347.3 636.5,345.6 644.2,343.9 651.5,340.6" stroke-opacity="0.133" stroke-width="8.8"/>
<path d="M569.6,377.2 576.4,393.8 581.2,403.7 584.5,412.0" stroke-opacity="0.076" stroke-width="4.4"/>
<path d="M620.2,383.8 624.4,384.5" stroke-opacity="0.076" stroke-width="3.3"/>
<path d="M629.2,367.2 636.9,363.9 643.2,368.9 644.0,357.2 648.2,350.6" stroke-opacity="0.076" stroke-width="5.5"/>
<path d="M647.0,332.3 655.0,332.3 661.3,336.6 667.8,341.3" stroke-opacity="0.162" stroke-width="9.9"/>
<path d="M659.3,345.6 670.2,352.2 679.7,358.9 689.1,364.5 698.0,367.9 706.2,367.9 714.7,368.9 722.2,365.5 729.4,367.2" stroke-opacity="0.247" stroke-width="7.7"/>
<path d="M639.8,324.1 649.8,322.5 660.3,322.5 669.9,319.8 679.6,317.5 689.8,316.9 700.1,316.6 708.2,317.5" stroke-opacity="0.114" stroke-width="6.6"/>
<path d="M664.3,338.0 675.6,340.6 686.3,340.6 696.8,340.0 707.9,341.3 719.1,342.9 727.9,345.6" stroke-opacity="0.133" stroke-width="6.6"/>
<path d="M710.1,330.7 718.5,332.3 727.0,334.0 736.1,337.3" stroke-opacity="0.095" stroke-width="5.5"/>
<path d="M677.2,347.3 688.8,350.6 700.0,352.2 710.8,352.2 722.1,353.9 731.1,357.2" stroke-opacity="0.048" stroke-width="15.4"/>
<path d="M730.8,367.2 737.1,377.2 742.6,383.8 747.5,380.5 748.1,370.5 740.2,360.5" stroke-opacity="0.095" stroke-width="8.8"/>
<path d="M742.0,357.2 745.1,348.9 752.7,347.3 760.2,345.6" stroke-opacity="0.067" stroke-width="5.5"/>
<path d="M722.6,373.8 723.1,383.8 722.8,390.4 725.3,397.1" stroke-opacity="0.076" stroke-width="4.4"/>
<path d="M735.4,390.4 738.4,400.4 739.7,410.3 742.2,420.3" stroke-opacity="0.067" stroke-width="5.5"/>
<path d="M750.5,388.8 757.8,398.7 763.2,407.0 767.1,415.3" stroke-opacity="0.076" stroke-width="4.4"/>
<path d="M671.6,294.9 681.6,294.9 690.2,291.7 699.4,290.1 709.3,290.1 720.0,291.7" stroke-opacity="0.095" stroke-width="7.7"/>
<path d="M704.4,301.3 715.9,304.5 725.3,302.9" stroke-opacity="0.057" stroke-width="8.8"/>
<path d="M730.8,293.3 739.9,291.7 748.9,290.1" stroke-opacity="0.048" stroke-width="6.6"/>
<path d="M770.5,317.5 768.8,306.1 768.4,298.1 764.1,288.5" stroke-opacity="0.067" stroke-width="4.4"/>
<path d="M746.8,274.5 759.8,276.0 769.5,276.0 778.0,274.5 785.3,271.4" stroke-opacity="0.076" stroke-width="5.5"/>
<path d="M738.2,232.0 743.7,240.4 755.7,249.0 770.9,256.3" stroke-opacity="0.085" stroke-width="5.5"/>
<path d="M764.3,239.0 778.5,244.7 791.6,249.0 806.2,254.9" stroke-opacity="0.085" stroke-width="6.6"/>
<path d="M-19.6,239.0 -19.3,244.7 -16.5,249.0 -15.3,254.9" stroke-opacity="0.09" stroke-width="6"/>
<path d="M813.6,257.8 822.2,254.9 826.8,250.5 831.1,246.1 838.9,243.3 851.6,244.7" stroke-opacity="0.076" stroke-width="6.6"/>
<path d="M-14.5,257.8 0.7,254.9 15.3,250.5 29.8,246.1 44.6,243.3 53.9,244.7" stroke-opacity="0.08" stroke-width="6"/>
<path d="M849.3,288.5 846.6,279.1 846.1,272.9 844.3,268.3" stroke-opacity="0.095" stroke-width="3.3"/>
<path d="M-39.7,288.5 -25.1,279.1 -13.6,272.9 -6.2,268.3" stroke-opacity="0.1" stroke-width="3"/>
<path d="M665.3,251.9 675.3,246.1 686.7,243.3 699.3,251.9" stroke-opacity="0.019" stroke-width="11.0"/>
<path d="M787.1,304.5 798.3,311.0 806.7,307.8" stroke-opacity="0.048" stroke-width="4.4"/>
<path d="M794.9,322.5 800.5,329.0 805.4,337.3" stroke-opacity="0.076" stroke-width="3.3"/>
<path d="M814.0,345.6 819.8,343.3 827.8,340.0 831.4,339.0 832.4,332.3 831.1,325.7" stroke-opacity="0.085" stroke-width="3.3"/>
<path d="M830.6,315.9 832.6,314.9" stroke-opacity="0.076" stroke-width="3.3"/>
<path d="M798.0,385.5 797.8,379.5" stroke-opacity="0.095" stroke-width="2.8"/>
<path d="M802.7,407.0 801.6,400.4" stroke-opacity="0.076" stroke-width="2.8"/>
<path d="M789.4,445.0 793.4,440.7" stroke-opacity="0.076" stroke-width="3.3"/>
<path d="M735.3,446.7 744.0,453.3 751.1,464.8 758.0,474.7" stroke-opacity="0.085" stroke-width="3.3"/>
<path d="M839.6,463.8 846.6,470.4 855.0,472.4 863.5,474.7 871.8,478.7 878.5,484.6 884.9,491.2" stroke-opacity="0.123" stroke-width="4.4"/>
<path d="M671.7,426.9 672.2,413.6 669.0,400.4 667.4,393.8" stroke-opacity="0.048" stroke-width="3.3"/>
<path d="M437.1,357.9 445.3,353.9 450.8,350.6 458.9,347.3 467.0,343.9 475.0,342.3 485.7,341.3" stroke-opacity="0.133" stroke-width="6.6"/>
<path d="M563.4,415.3 569.2,418.6 573.7,423.6 576.7,430.2 574.0,436.8 568.4,440.1 564.0,435.1 562.4,426.9" stroke-opacity="0.057" stroke-width="6.6"/>
<path d="M575.3,430.2 581.1,433.5 586.7,431.8" stroke-opacity="0.057" stroke-width="4.4"/>
<path d="M565.7,456.6 567.2,463.2 564.3,471.4 561.3,481.3 558.2,489.6" stroke-opacity="0.057" stroke-width="6.6"/>
<path d="M545.8,463.2 545.7,473.1 548.4,486.3" stroke-opacity="0.057" stroke-width="3.3"/>
<path d="M476.9,382.1 479.7,380.5" stroke-opacity="0.057" stroke-width="5.5"/>
<path d="M510.5,390.4 513.4,392.1" stroke-opacity="0.057" stroke-width="5.5"/>
<path d="M490.1,440.1 494.3,436.8" stroke-opacity="0.057" stroke-width="4.4"/>
<path d="M552.0,363.9 555.3,370.5 560.1,380.5" stroke-opacity="0.048" stroke-width="3.3"/>
<path d="M504.2,496.2 506.9,504.5" stroke-opacity="0.038" stroke-width="8.8"/>
<path d="M870.3,512.7 871.1,522.7 874.7,531.0" stroke-opacity="0.048" stroke-width="4.4"/>
<path d="M156.0,237.6 157.9,237.9 159.8,238.2 161.7,238.4 163.6,238.7 165.5,239.0 166.4,240.4 167.2,241.8 168.2,243.3 169.1,244.7 170.1,246.1 171.0,247.6 171.6,249.6 172.1,251.6 172.7,253.7 173.4,255.7 174.1,257.8 174.1,260.8 174.3,263.8 174.4,266.8 174.7,269.9 175.0,272.9 175.4,276.0 175.9,279.1 176.4,282.2 177.0,285.4 177.6,288.5 177.1,291.7 176.7,294.9 176.2,298.1 177.2,300.5 178.2,302.9 179.3,305.3 180.4,307.8 181.8,310.4 183.2,313.0 184.7,315.6 186.2,318.2 187.8,320.8 186.8,324.1 185.9,327.4 185.1,330.7 184.3,334.0 182.7,337.3 181.2,340.6 179.7,343.9 176.3,346.2 172.9,348.4 169.5,350.6 167.0,350.0 164.5,349.5 161.9,348.9 160.0,346.4 158.2,343.9 156.4,341.5 154.6,339.0 151.7,340.6 148.9,342.3 146.1,343.9 145.0,341.5 143.9,339.0 143.6,336.1 143.5,333.2 143.3,330.3 143.2,327.4 143.9,324.1 144.8,320.8 145.6,317.5 146.5,314.3 147.2,311.0 148.0,307.8 148.9,304.5 150.0,301.3 151.1,298.1 150.2,295.9 149.4,293.8 148.5,291.7 148.0,288.5 147.5,285.4 147.1,282.2 146.8,279.1 146.6,276.0 146.4,272.9 145.1,271.4 143.9,269.9 142.7,268.3 141.5,266.8 139.7,266.1 138.0,265.3 136.3,264.5 134.5,263.8 132.6,263.3 130.7,262.8 128.8,262.3 126.9,261.8 125.0,261.3 123.1,260.8 120.4,261.3 117.6,261.8 114.8,262.3 112.1,262.8 109.3,263.3 106.5,263.8 106.2,261.5 106.0,259.3 110.0,257.4 114.1,255.6 118.1,253.8 122.1,251.9 125.5,250.8 128.9,249.6 132.2,248.4 135.6,247.3 138.9,246.1 143.2,244.0 147.5,241.8 151.7,239.7Z" fill="#000" fill-opacity="0.056" stroke="none"/>
<path d="M936.3,237.6 938.9,237.9 941.5,238.2 944.1,238.4 946.7,238.7 949.3,239.0 953.7,240.4 958.1,241.8 962.5,243.3 966.9,244.7 971.3,246.1 975.7,247.6 981.0,249.6 986.3,251.6 991.6,253.7 996.9,255.7 1002.2,257.8 1008.7,260.8 1015.3,263.8 1021.8,266.8 1028.3,269.9 1034.8,272.9 1041.2,276.0 1047.6,279.1 1054.0,282.2 1060.3,285.4 1066.6,288.5 1071.6,291.7 1076.5,294.9 1081.4,298.1 1086.3,300.5 1091.1,302.9 1095.9,305.3 1100.7,307.8 1106.0,310.4 1111.2,313.0 1116.4,315.6 1121.5,318.2 1126.6,320.8 1130.0,324.1 1133.3,327.4 1136.6,330.7 1139.7,334.0 1142.0,337.3 1144.2,340.6 1146.4,343.9 1145.3,346.2 1144.3,348.4 1143.1,350.6 1140.0,350.0 1136.9,349.5 1133.9,348.9 1129.4,346.4 1124.9,343.9 1120.3,341.5 1115.8,339.0 1114.8,340.6 1113.8,342.3 1112.8,343.9 1109.0,341.5 1105.1,339.0 1101.5,336.1 1097.9,333.2 1094.3,330.3 1090.6,327.4 1087.1,324.1 1083.6,320.8 1080.0,317.5 1076.3,314.3 1072.4,311.0 1068.3,307.8 1064.2,304.5 1060.3,301.3 1056.3,298.1 1051.9,295.9 1047.5,293.8 1043.0,291.7 1037.0,288.5 1030.9,285.4 1024.7,282.2 1018.6,279.1 1012.4,276.0 1006.1,272.9 1001.8,271.4 997.5,269.9 993.2,268.3 988.9,266.8 985.5,266.1 982.2,265.3 978.9,264.5 975.6,263.8 972.6,263.3 969.6,262.8 966.6,262.3 963.7,261.8 960.7,261.3 957.7,260.8 956.1,261.3 954.4,261.8 952.7,262.3 951.0,262.8 949.3,263.3 947.5,263.8 942.4,261.5 937.3,259.3 937.3,257.4 937.2,255.6 937.1,253.8 936.9,251.9 937.6,250.8 938.3,249.6 938.9,248.4 939.5,247.3 940.1,246.1 939.3,244.0 938.3,241.8 937.3,239.7Z" fill="#000" fill-opacity="0.07" stroke="none"/>
<path d="M91.2,249.0 95.0,247.6 98.8,246.1 102.6,244.7 106.4,243.3 110.1,241.8 113.5,240.8 116.8,239.7 120.2,238.7 123.5,237.6 125.9,237.4 128.3,237.1 130.7,236.9 133.2,236.7 135.6,236.4 138.0,236.2 138.3,238.0 138.6,239.7 139.0,241.5 139.5,243.3 135.1,245.4 130.8,247.6 126.5,249.7 122.1,251.9 118.9,252.9 115.7,253.9 112.5,254.9 109.3,255.8 106.0,256.8 102.8,257.8 100.5,257.8 98.2,257.8 95.9,257.8 93.6,257.8 91.3,257.8 89.0,257.8 89.7,254.9 90.4,251.9Z" fill="#000" fill-opacity="0.032" stroke="none"/>
<path d="M899.3,249.0 899.7,247.6 900.1,246.1 900.4,244.7 900.7,243.3 901.0,241.8 901.7,240.8 902.4,239.7 903.1,238.7 903.8,237.6 905.6,237.4 907.4,237.1 909.3,236.9 911.1,236.7 912.9,236.4 914.7,236.2 919.5,238.0 924.2,239.7 929.0,241.5 933.8,243.3 934.7,245.4 935.5,247.6 936.2,249.7 936.9,251.9 936.0,252.9 935.0,253.9 934.0,254.9 933.0,255.8 931.9,256.8 930.9,257.8 928.6,257.8 926.3,257.8 924.0,257.8 921.7,257.8 919.4,257.8 917.1,257.8 911.2,254.9 905.2,251.9Z" fill="#000" fill-opacity="0.04" stroke="none"/>
<path d="M162.1,357.2 164.9,357.2 167.6,357.2 170.3,357.2 173.0,357.2 174.2,360.5 175.4,363.9 176.6,367.2 177.9,370.5 180.1,373.0 182.3,375.5 184.6,378.0 186.8,380.5 187.4,383.5 187.9,386.5 188.5,389.5 189.2,392.4 189.8,395.4 186.8,396.9 183.8,398.3 180.7,399.7 178.1,398.7 175.5,397.6 172.8,396.5 170.2,395.4 169.3,392.5 168.4,389.6 167.5,386.7 166.7,383.8 165.3,380.5 164.0,377.2 162.6,373.8 161.4,370.5 161.5,367.2 161.7,363.9 161.9,360.5Z" fill="#000" fill-opacity="0.056" stroke="none"/>
<path d="M254.3,426.9 257.0,430.2 259.7,433.5 257.8,436.8 256.0,440.1 254.2,443.4 252.4,446.7 250.6,450.0 248.4,453.3 246.2,456.6 244.1,459.9 242.0,463.2 241.7,466.5 241.5,469.8 241.3,473.1 241.1,476.4 240.9,479.7 242.8,483.0 244.7,486.3 246.7,489.6 248.6,492.9 251.4,495.1 254.1,497.3 256.9,499.5 259.6,501.7 262.4,503.9 265.1,506.1 267.9,509.4 270.6,512.7 273.4,516.1 276.2,519.4 276.7,522.7 277.3,526.0 277.9,529.3 278.5,532.6 279.2,536.0 279.8,539.3 277.7,541.8 275.6,544.3 273.6,546.8 271.5,549.2 269.7,545.9 267.8,542.6 265.9,539.3 264.1,536.0 263.9,532.6 263.8,529.3 263.7,526.0 263.6,522.7 263.5,519.4 260.8,517.1 258.0,514.7 255.2,512.4 252.5,510.1 249.7,507.8 247.6,504.7 245.5,501.7 243.4,498.7 241.2,495.7 239.2,492.6 237.1,489.6 236.2,486.3 235.3,483.0 234.5,479.7 233.6,476.4 234.3,473.1 234.9,469.8 235.6,466.5 236.2,463.2 237.3,459.9 238.4,456.6 239.5,453.3 240.6,450.0 241.8,446.7 242.9,443.4 244.1,440.1 245.3,436.8 248.3,433.5 251.3,430.2Z" fill="#000" fill-opacity="0.056" stroke="none"/>
<path d="M532.8,329.0 535.4,328.4 538.0,327.7 540.5,327.1 543.1,326.4 545.6,325.7 548.3,325.7 550.9,325.7 553.5,325.7 556.1,325.7 558.8,325.7 561.3,325.4 563.9,325.1 566.5,324.8 569.1,324.4 571.6,324.1 574.4,324.9 577.1,325.7 579.9,326.6 582.7,327.4 585.6,329.5 588.6,331.5 591.6,333.6 594.6,335.7 597.2,335.7 599.9,335.7 602.6,335.7 605.2,335.7 607.9,335.7 610.5,335.7 613.4,336.6 616.2,337.6 619.1,338.6 621.9,339.6 624.8,340.6 626.3,343.9 627.8,347.3 629.3,350.6 629.2,353.9 629.0,357.2 628.9,360.5 628.7,363.9 626.3,366.1 623.8,368.3 621.4,370.5 618.5,369.4 615.6,368.3 612.7,367.2 609.7,365.5 606.8,363.9 603.8,362.2 600.9,360.5 597.9,358.3 594.9,356.1 591.9,353.9 588.7,350.6 585.6,347.3 582.4,343.9 579.5,341.7 576.5,339.5 573.5,337.3 570.9,337.3 568.2,337.3 565.5,337.3 562.9,337.3 560.2,337.3 557.6,337.4 554.9,337.6 552.3,337.7 549.6,337.8 547.0,338.0 544.2,337.4 541.5,336.8 538.8,336.2 536.1,335.7 534.4,332.3Z" fill="#000" fill-opacity="0.064" stroke="none"/>
<path d="M641.5,343.9 642.5,341.0 643.5,338.0 644.4,335.0 645.3,332.0 646.2,329.0 648.6,327.8 650.9,326.6 653.2,325.3 655.5,324.1 657.7,322.7 660.0,321.4 662.2,320.0 664.4,318.6 666.6,317.3 668.7,315.9 671.3,315.7 673.8,315.5 676.3,315.3 678.8,315.1 681.4,314.9 683.9,314.7 686.4,314.5 688.9,314.3 691.6,314.5 694.2,314.7 696.9,315.0 699.6,315.2 702.2,315.4 704.9,315.7 707.6,315.9 709.6,319.2 711.7,322.5 713.7,325.7 716.8,327.1 719.8,328.4 722.9,329.7 726.0,331.0 729.1,332.3 732.7,335.1 736.3,337.9 739.8,340.6 740.9,343.9 741.9,347.3 742.9,350.6 743.8,353.9 744.7,357.2 743.9,360.2 743.0,363.2 742.1,366.2 741.2,369.2 740.2,372.2 738.0,375.0 735.8,377.7 733.6,380.5 730.2,377.2 726.8,373.8 723.3,370.5 720.5,370.5 717.8,370.5 715.0,370.5 712.3,370.5 709.5,370.5 706.7,370.3 703.9,370.0 701.1,369.8 698.3,369.5 695.3,368.4 692.4,367.3 689.4,366.1 686.4,365.0 683.5,363.9 680.3,361.8 677.2,359.7 674.0,357.6 670.9,355.6 667.9,354.3 665.0,353.1 662.0,351.8 659.0,350.6 656.2,350.0 653.4,349.5 650.6,348.9 647.6,347.3 644.5,345.6Z" fill="#000" fill-opacity="0.036" stroke="none"/>
<path d="M673.4,293.3 675.6,292.3 677.6,291.4 679.7,290.4 681.8,289.5 683.9,288.5 686.2,288.3 688.6,288.1 691.0,287.9 693.4,287.7 695.7,287.5 698.1,287.3 700.5,287.1 702.8,286.9 705.4,287.2 708.0,287.4 710.6,287.6 713.1,287.8 715.7,288.1 718.3,288.3 720.9,288.5 723.8,289.4 726.8,290.3 729.7,291.2 732.7,292.1 735.6,293.0 738.6,294.0 741.6,294.9 745.7,298.1 749.9,301.3 754.0,304.5 752.4,306.5 750.8,308.4 749.1,310.4 747.4,312.3 745.7,314.3 743.1,314.3 740.6,314.3 738.0,314.3 735.4,314.3 732.8,314.3 730.2,314.3 727.6,314.3 724.8,313.7 722.0,313.2 719.2,312.6 716.5,312.1 713.7,311.5 710.9,311.0 707.9,309.9 704.9,308.8 701.9,307.8 698.9,306.7 696.0,305.6 693.0,304.5 690.0,303.3 687.0,302.1 684.0,300.9 681.0,299.7 677.2,296.5Z" fill="#000" fill-opacity="0.028" stroke="none"/>
<path d="M712.4,272.9 714.6,272.6 716.8,272.3 719.0,272.0 721.2,271.7 723.4,271.4 725.6,271.1 727.8,270.8 729.9,270.5 732.1,270.2 734.3,269.9 736.3,269.2 738.2,268.6 740.2,268.0 742.1,267.4 744.1,266.8 746.0,266.2 747.9,265.6 749.8,265.0 751.7,264.4 753.6,263.8 755.0,262.5 756.4,261.2 757.7,259.9 759.0,258.7 760.3,257.4 761.6,256.1 762.8,254.9 764.2,253.8 765.5,252.7 766.9,251.6 768.2,250.5 769.4,249.4 770.7,248.3 772.0,247.2 773.2,246.1 775.2,245.8 777.1,245.5 779.1,245.3 781.0,245.0 782.9,244.7 784.9,244.4 786.8,244.1 788.7,243.8 790.7,243.5 792.6,243.3 794.8,243.3 797.0,243.3 799.2,243.3 801.4,243.3 803.6,243.3 805.8,243.3 808.0,243.3 810.2,243.3 812.4,243.3 814.6,243.3 816.9,243.3 819.1,243.3 821.3,243.3 823.5,243.3 825.7,243.3 827.9,243.3 830.1,243.3 832.3,243.3 834.5,243.3 836.7,243.3 838.9,243.3 841.1,243.3 843.3,243.3 845.5,243.3 847.7,243.3 853.3,246.1 858.9,249.0 864.5,251.9 863.2,252.8 862.0,253.7 860.7,254.6 859.4,255.5 858.1,256.4 856.8,257.4 855.4,258.3 854.1,259.2 852.7,260.1 851.3,261.0 849.9,261.9 848.5,262.9 847.1,263.8 844.7,263.8 842.4,263.8 840.1,263.8 837.7,263.8 835.4,263.8 833.1,263.8 830.7,263.8 828.4,263.8 826.1,263.8 823.7,263.8 821.4,263.8 819.1,263.8 816.7,263.8 814.4,263.8 812.0,263.8 810.2,264.4 808.4,265.0 806.6,265.6 804.8,266.2 802.9,266.8 801.1,267.4 799.2,268.0 797.3,268.6 795.5,269.2 793.6,269.9 792.6,271.7 791.7,273.5 790.6,275.4 789.6,277.2 788.5,279.1 786.3,279.4 784.1,279.7 781.9,280.0 779.7,280.3 777.5,280.7 775.3,281.0 773.0,281.3 770.8,281.6 768.6,281.9 766.3,282.2 764.1,282.5 761.9,282.8 759.6,283.2 757.4,283.5 755.1,283.8 752.9,284.1 750.6,284.4 748.3,284.7 746.1,285.0 743.8,285.4 741.1,284.9 738.4,284.5 735.7,284.0 733.0,283.6 730.3,283.1 727.6,282.7 724.9,282.2 720.7,279.1 716.5,276.0Z" fill="#000" fill-opacity="0.020" stroke="none"/>
<path d="M-147.4,272.9 -144.6,272.6 -141.8,272.3 -138.9,272.0 -136.1,271.7 -133.3,271.4 -130.5,271.1 -127.7,270.8 -124.9,270.5 -122.1,270.2 -119.3,269.9 -116.1,269.2 -112.9,268.6 -109.7,268.0 -106.5,267.4 -103.3,266.8 -100.1,266.2 -96.9,265.6 -93.7,265.0 -90.6,264.4 -87.4,263.8 -83.3,262.5 -79.2,261.2 -75.0,259.9 -70.9,258.7 -66.8,257.4 -62.8,256.1 -58.7,254.9 -54.8,253.8 -51.0,252.7 -47.1,251.6 -43.3,250.5 -39.5,249.4 -35.6,248.3 -31.8,247.2 -28.0,246.1 -25.4,245.8 -22.7,245.5 -20.1,245.3 -17.5,245.0 -14.8,244.7 -12.2,244.4 -9.6,244.1 -7.0,243.8 -4.4,243.5 -1.7,243.3 0.5,243.3 2.7,243.3 4.9,243.3 7.1,243.3 9.3,243.3 11.5,243.3 13.7,243.3 15.9,243.3 18.1,243.3 20.3,243.3 22.5,243.3 24.7,243.3 26.9,243.3 29.1,243.3 31.3,243.3 33.6,243.3 35.8,243.3 38.0,243.3 40.2,243.3 42.4,243.3 44.6,243.3 46.8,243.3 49.0,243.3 51.2,243.3 53.4,243.3 52.1,246.1 50.8,249.0 49.7,251.9 46.4,252.8 43.0,253.7 39.7,254.6 36.4,255.5 33.0,256.4 29.7,257.4 26.3,258.3 23.0,259.2 19.6,260.1 16.2,261.0 12.8,261.9 9.5,262.9 6.1,263.8 3.7,263.8 1.4,263.8 -1.0,263.8 -3.3,263.8 -5.6,263.8 -8.0,263.8 -10.3,263.8 -12.6,263.8 -15.0,263.8 -17.3,263.8 -19.6,263.8 -22.0,263.8 -24.3,263.8 -26.7,263.8 -29.0,263.8 -32.1,264.4 -35.2,265.0 -38.3,265.6 -41.4,266.2 -44.5,266.8 -47.6,267.4 -50.7,268.0 -53.8,268.6 -56.9,269.2 -60.0,269.9 -64.7,271.7 -69.3,273.5 -74.0,275.4 -78.6,277.2 -83.2,279.1 -86.0,279.4 -88.8,279.7 -91.6,280.0 -94.4,280.3 -97.2,280.7 -100.0,281.0 -102.8,281.3 -105.6,281.6 -108.5,281.9 -111.3,282.2 -114.1,282.5 -116.9,282.8 -119.7,283.2 -122.6,283.5 -125.4,283.8 -128.2,284.1 -131.0,284.4 -133.9,284.7 -136.7,285.0 -139.6,285.4 -141.4,284.9 -143.3,284.5 -145.2,284.0 -147.1,283.6 -149.0,283.1 -150.9,282.7 -152.7,282.2 -151.0,279.1 -149.3,276.0Z" fill="#000" fill-opacity="0.025" stroke="none"/>
<path d="M664.0,257.8 663.7,254.9 663.4,251.9 663.0,249.0 662.6,246.1 662.1,243.3 661.6,240.4 661.0,237.6 662.7,236.9 664.4,236.2 666.1,235.5 667.8,234.8 669.5,234.1 671.1,233.4 672.7,232.7 674.4,232.0 676.8,232.4 679.1,232.7 681.5,233.1 683.9,233.4 686.3,233.8 688.7,234.1 691.1,234.5 693.6,234.8 697.9,237.6 702.2,240.4 706.5,243.3 710.9,246.1 713.0,249.0 715.1,251.9 717.2,254.9 719.2,257.8 721.3,260.8 719.9,262.3 718.6,263.8 717.2,265.3 715.8,266.8 714.4,268.3 713.0,269.9 710.6,269.9 708.2,269.9 705.8,269.9 703.5,269.9 701.1,269.9 698.7,269.9 696.4,269.9 694.0,269.9 691.3,269.3 688.7,268.8 686.1,268.3 683.4,267.8 680.8,267.3 678.2,266.8 674.6,264.5 671.1,262.3 667.5,260.0Z" fill="#000" fill-opacity="0.012" stroke="none"/>
<path d="M562.0,413.6 564.4,413.2 566.9,412.8 569.3,412.4 571.8,412.0 573.8,415.3 575.8,418.6 577.9,421.9 579.9,424.7 581.8,427.4 583.8,430.2 582.0,433.5 580.2,436.8 578.4,440.1 575.9,441.3 573.4,442.6 571.0,443.8 568.5,445.0 566.1,443.9 563.7,442.8 561.3,441.7 560.9,438.8 560.5,436.0 560.1,433.1 559.7,430.2 560.5,426.9 561.4,423.6 562.2,420.3 562.1,416.9Z" fill="#000" fill-opacity="0.032" stroke="none"/>
<path d="M544.3,453.3 547.2,453.6 550.0,453.9 552.9,454.3 555.7,454.6 558.6,454.9 561.1,455.3 563.6,455.8 566.1,456.2 568.6,456.6 568.9,459.9 569.3,463.2 569.6,466.5 570.0,469.8 569.1,473.1 568.2,476.4 567.3,479.7 566.4,483.0 565.4,486.3 563.0,488.5 560.6,490.7 558.2,492.9 555.7,492.1 553.2,491.2 550.8,490.4 548.3,489.6 547.3,486.3 546.3,483.0 545.3,479.7 544.2,476.4 544.3,473.1 544.3,469.8 544.3,466.5 544.3,463.2 544.3,459.9 544.3,456.6Z" fill="#000" fill-opacity="0.028" stroke="none"/>
<path d="M498.5,499.5 501.3,497.9 504.2,496.2 507.0,494.6 509.9,492.9 512.7,492.9 515.6,492.9 518.4,492.9 521.2,492.9 524.1,492.9 526.9,492.3 529.8,491.8 532.6,491.2 535.5,490.7 538.3,490.1 541.2,489.6 544.0,490.9 546.8,492.2 549.6,493.6 552.4,494.9 555.2,496.2 555.6,499.5 556.0,502.8 556.3,506.1 556.7,509.4 557.0,512.7 557.3,516.1 555.5,519.4 553.6,522.7 551.8,526.0 549.9,529.3 548.0,532.6 545.2,533.7 542.3,534.9 539.5,536.0 536.7,537.1 533.8,538.2 531.0,539.3 528.3,538.3 525.5,537.4 522.8,536.4 520.1,535.5 517.3,534.5 514.6,533.6 511.8,532.6 509.7,529.3 507.5,526.0 505.4,522.7 503.2,519.4 501.0,516.1 500.5,512.7 500.0,509.4 499.5,506.1 499.0,502.8Z" fill="#000" fill-opacity="0.020" stroke="none"/>
<path d="M560.5,367.2 563.4,369.4 566.4,371.6 569.3,373.8 570.8,377.2 572.2,380.5 573.7,383.8 575.1,387.1 576.6,390.4 578.0,393.8 579.4,397.1 580.7,400.4 582.1,403.7 583.4,407.0 584.7,410.3 586.0,413.6 588.2,415.3 590.4,416.9 588.0,416.9 585.7,416.9 583.3,416.9 581.4,413.6 579.5,410.3 577.5,407.0 575.6,403.7 574.0,400.4 572.4,397.1 570.8,393.8 569.2,390.4 567.6,387.1 565.9,383.8 564.3,380.5 562.7,377.2 561.0,373.8 559.4,370.5Z" fill="#000" fill-opacity="0.032" stroke="none"/>
<path d="M440.8,317.5 443.4,317.5 446.0,317.5 448.6,317.5 451.2,317.5 453.8,317.5 456.4,317.5 459.0,319.2 461.6,320.8 464.2,322.5 462.9,325.3 461.6,328.2 460.3,331.1 459.0,334.0 456.3,335.0 453.6,336.0 451.0,337.0 448.3,338.0 445.6,336.6 443.0,335.3 440.4,334.0 440.0,330.7 439.7,327.4 439.3,324.1 440.1,320.8Z" fill="#000" fill-opacity="0.048" stroke="none"/>
<path d="M474.6,266.8 476.4,263.8 478.2,260.8 480.0,257.8 482.2,255.3 484.3,252.9 486.4,250.5 488.5,248.0 490.5,245.6 492.5,243.3 494.5,241.4 496.5,239.5 498.5,237.6 500.6,237.0 502.6,236.5 504.7,235.9 506.8,235.4 508.9,234.8 507.1,237.6 505.4,240.4 503.4,242.5 501.5,244.7 499.5,246.8 497.5,249.0 495.5,251.4 493.5,253.9 491.4,256.3 489.3,258.8 487.1,261.3 485.0,263.8 482.8,266.1 480.5,268.3 478.5,267.8 476.5,267.3Z" fill="#000" fill-opacity="0.040" stroke="none"/>
<path d="M497.5,309.4 500.1,309.7 502.7,310.0 505.3,310.4 507.8,310.7 510.4,311.0 513.1,311.8 515.7,312.6 518.4,313.5 521.0,314.3 523.8,316.4 526.6,318.6 529.4,320.8 528.0,324.1 526.5,327.4 525.0,330.7 523.0,332.3 520.9,334.0 518.8,335.7 516.8,332.9 514.9,330.1 512.9,327.4 510.4,324.5 508.0,321.6 505.5,318.8 503.0,315.9 500.3,312.6Z" fill="#000" fill-opacity="0.040" stroke="none"/>
 </g></g>
 <g clip-path="url(#landclip)"><g filter="url(#b3)" fill="#fff">
<path d="M485.8,279.1 488.2,278.6 490.6,278.1 493.0,277.5 495.4,277.0 497.7,276.5 500.1,276.0 501.0,272.9 501.9,269.9 502.8,266.8 503.7,263.8 505.1,260.8 506.5,257.8 507.8,254.9 509.1,251.9 511.1,250.0 513.1,248.0 515.0,246.1 516.9,244.0 518.7,241.8 520.5,239.7 522.3,237.6 524.7,238.5 527.0,239.5 529.4,240.4 530.6,243.3 531.7,246.1 532.9,249.0 534.0,251.9 535.4,254.9 536.8,257.8 538.1,260.8 537.0,263.8 535.8,266.8 534.5,269.9 533.3,272.9 531.1,274.5 529.0,276.0 526.8,277.5 524.6,279.1 522.4,280.7 520.1,282.2 517.7,282.2 515.2,282.2 512.8,282.2 510.4,282.2 507.9,282.2 505.5,282.2 503.1,282.2 500.6,282.2 498.2,282.2 495.7,282.2 493.3,282.2 490.8,281.2 488.3,280.1Z" fill-opacity="0.55"/>
<path d="M469.1,291.7 471.5,290.5 474.0,289.4 476.4,288.3 478.9,287.2 481.3,286.0 483.7,284.9 486.1,283.8 488.5,283.8 491.0,283.8 493.4,283.8 495.9,283.8 498.3,283.8 500.7,283.8 503.2,283.8 505.6,283.8 508.1,283.8 510.5,283.8 513.0,283.6 515.4,283.5 517.8,283.3 520.2,283.2 522.7,283.0 525.1,282.8 527.5,282.7 529.9,282.5 532.3,282.4 534.7,282.2 537.1,281.9 539.5,281.6 541.9,281.3 544.3,281.0 546.7,280.7 549.0,280.3 551.4,280.0 553.8,279.7 556.1,279.4 558.5,279.1 560.6,277.9 562.8,276.8 564.9,275.6 567.1,274.5 569.2,273.3 571.3,272.1 573.4,271.0 575.4,269.9 577.2,267.7 578.9,265.5 580.6,263.4 582.3,261.2 583.9,259.1 585.5,257.0 587.1,254.9 584.4,253.6 581.7,252.3 579.0,251.1 576.4,249.8 573.7,248.6 571.1,247.4 568.4,246.1 566.4,246.7 564.3,247.3 562.3,247.9 560.2,248.4 558.1,249.0 556.0,249.6 554.0,250.2 551.8,250.8 549.7,251.3 547.6,251.9 545.7,253.4 543.8,254.9 541.8,256.3 539.8,257.8 537.8,259.3 535.8,260.8 533.8,262.3 531.7,263.8 529.6,265.3 527.5,266.8 525.4,268.3 523.3,269.9 521.1,271.4 518.9,272.9 516.7,274.5 514.5,276.0 512.2,276.6 509.8,277.2 507.5,277.7 505.1,278.3 502.8,278.9 500.4,279.5 498.0,280.1 495.6,280.7 493.2,281.0 490.8,281.4 488.4,281.8 486.0,282.2 483.6,282.6 481.1,283.0 478.7,283.4 476.3,283.8 473.9,286.4 471.5,289.0Z" fill-opacity="0.4"/>
<path d="M610.7,276.0 613.2,276.2 615.7,276.5 618.2,276.7 620.7,276.9 623.2,277.2 625.7,277.4 628.2,277.7 630.7,277.9 633.2,278.1 635.7,278.4 638.2,278.6 640.7,278.9 643.2,279.1 645.2,278.1 647.2,277.0 649.2,276.0 651.2,275.0 653.1,273.9 655.1,272.9 657.0,271.9 658.9,270.9 660.8,269.9 660.1,266.8 659.4,263.8 658.7,260.8 657.9,257.8 657.1,254.9 656.3,251.9 653.8,249.0 651.2,246.1 648.7,243.3 646.2,240.4 643.7,237.6 641.2,237.0 638.7,236.5 636.2,235.9 633.7,235.4 631.3,234.8 628.8,234.3 626.4,233.7 623.9,233.2 621.5,232.6 619.1,232.0 617.5,233.1 615.9,234.1 614.3,235.2 612.6,236.2 611.0,237.3 609.3,238.3 607.7,239.4 606.0,240.4 605.8,243.3 605.5,246.1 605.3,249.0 605.0,251.9 604.6,254.9 604.2,257.8 605.3,260.8 606.5,263.8 607.5,266.8 608.6,269.9 609.7,272.9Z" fill-opacity="0.45"/>
<path d="M191.7,370.5 194.9,368.4 198.1,366.4 201.3,364.3 204.5,362.2 207.3,362.2 210.0,362.2 212.7,362.2 215.5,362.2 218.2,362.2 221.0,361.9 223.8,361.5 226.6,361.2 229.4,360.9 232.2,360.5 234.7,361.7 237.2,362.8 239.7,363.9 241.8,360.5 243.8,357.2 245.9,353.9 248.0,350.6 250.8,347.8 253.7,345.0 256.6,342.3 256.8,339.5 257.0,336.8 257.3,334.0 254.3,335.3 251.3,336.6 248.3,338.0 245.3,339.3 242.2,340.6 239.4,341.2 236.6,341.7 233.8,342.3 231.0,342.8 228.1,343.4 225.3,343.9 222.9,342.8 220.5,341.7 218.2,340.6 214.6,343.9 211.0,347.3 207.4,350.6 204.0,353.1 200.7,355.6 197.3,358.1 194.0,360.5 193.2,363.9 192.4,367.2Z" fill-opacity="0.5"/>
<path d="M253.5,473.1 256.3,472.4 259.2,471.7 262.0,471.0 264.9,470.3 267.7,469.5 270.5,468.8 273.4,468.1 276.2,467.9 279.1,467.7 281.9,467.5 284.8,467.3 287.6,467.1 290.5,466.9 293.3,466.7 296.2,466.5 299.0,466.2 301.9,465.9 304.7,465.7 307.6,465.4 310.4,465.1 313.3,464.8 316.2,467.3 319.0,469.8 316.2,471.4 313.4,473.1 310.6,474.7 307.7,476.4 304.9,478.0 302.1,479.7 299.3,480.5 296.5,481.3 293.7,482.2 290.8,483.0 288.0,483.8 285.2,484.6 282.4,485.5 279.6,486.3 276.7,485.9 273.8,485.5 271.0,485.1 268.1,484.6 265.3,484.2 262.4,483.8 259.5,483.4 256.7,483.0 255.6,479.7 254.5,476.4Z" fill-opacity="0.35"/>
<path d="M231.6,279.1 234.4,278.2 237.3,277.3 240.1,276.4 243.0,275.6 245.8,274.7 248.6,273.8 251.4,272.9 253.5,273.7 255.5,274.5 257.5,275.2 259.6,276.0 261.6,276.8 263.7,277.5 263.1,280.3 262.6,283.0 262.1,285.7 261.6,288.5 259.1,288.5 256.7,288.5 254.2,288.5 251.7,288.5 249.6,287.6 247.6,286.7 245.5,285.8 243.4,284.9 241.4,284.0 239.4,283.1 237.3,282.2 235.4,281.2 233.5,280.1Z" fill-opacity="0.3"/>
<path d="M194.5,246.1 196.8,246.1 199.0,246.1 201.2,246.1 203.4,246.1 205.7,246.1 207.9,246.1 210.1,246.1 212.3,246.1 214.0,246.8 215.7,247.6 217.5,248.3 219.2,249.0 220.9,249.7 222.7,250.5 224.4,251.2 226.2,251.9 228.0,252.7 229.8,253.4 231.6,254.1 233.4,254.9 234.6,256.6 235.8,258.4 237.1,260.2 238.4,262.0 239.7,263.8 236.0,266.2 232.3,268.6 228.6,271.1 224.8,273.5 221.1,276.0 219.0,275.5 216.9,275.0 214.8,274.5 212.6,273.9 210.6,273.4 208.5,272.9 206.4,272.4 204.3,271.9 202.2,271.4 200.2,270.9 198.1,270.4 196.0,269.9 195.0,267.8 193.9,265.8 192.9,263.8 192.0,261.8 191.1,259.8 190.2,257.8 191.2,254.9 192.3,251.9 193.4,249.0Z" fill-opacity="0.25"/>
<path d="M522.3,301.3 524.9,301.5 527.4,301.7 530.0,301.9 532.5,302.1 535.1,302.3 537.6,302.5 540.2,302.7 542.8,302.9 545.3,303.1 547.9,303.3 550.5,303.5 553.0,303.7 555.6,303.9 558.2,304.1 560.7,304.3 563.3,304.5 565.9,304.5 568.4,304.5 570.9,304.5 573.5,304.5 576.0,304.5 578.6,304.5 581.0,303.7 583.3,302.9 585.7,302.1 588.0,301.3 585.0,298.9 581.9,296.5 578.9,294.1 575.9,291.7 573.4,291.4 570.8,291.0 568.3,290.7 565.7,290.4 563.2,290.1 560.6,289.8 558.1,289.5 555.6,289.1 553.0,288.8 550.5,288.5 548.1,288.9 545.7,289.3 543.3,289.7 540.9,290.1 538.5,290.5 536.0,290.9 533.6,291.3 531.2,291.7 529.0,294.1 526.8,296.5 524.6,298.9Z" fill-opacity="0.3"/>
<path d="M610.7,311.0 613.2,311.0 615.8,311.0 618.4,311.0 620.9,311.0 623.5,311.0 626.1,311.0 628.6,311.0 631.2,311.0 633.8,311.0 636.4,311.0 638.9,311.0 641.5,311.0 642.3,307.8 643.0,304.5 643.7,301.3 640.8,300.2 638.0,299.1 635.1,298.1 632.3,297.0 629.4,295.9 626.6,294.9 624.4,295.9 622.2,297.0 620.0,298.1 617.8,299.1 615.6,300.2 613.3,301.3 612.5,304.5 611.6,307.8Z" fill-opacity="0.3"/>
<path d="M570.8,360.5 573.6,360.3 576.3,360.0 579.0,359.7 581.6,359.4 584.3,359.2 587.0,358.9 590.0,360.5 592.9,362.2 591.9,359.3 590.8,356.4 589.8,353.5 588.7,350.6 585.9,349.5 583.0,348.4 580.2,347.3 577.6,348.4 575.1,349.5 572.5,350.6 572.0,353.9 571.4,357.2Z" fill-opacity="0.3"/>
<path d="M687.2,334.0 689.7,333.3 692.1,332.7 694.6,332.0 697.0,331.4 699.5,330.7 696.1,328.2 692.7,325.7 690.1,326.0 687.6,326.2 685.0,326.4 682.4,326.6 679.9,326.8 677.3,327.0 674.7,327.2 672.1,327.4 670.2,329.9 668.2,332.3 670.9,332.6 673.6,332.8 676.3,333.1 679.1,333.3 681.8,333.5 684.5,333.8Z" fill-opacity="0.3"/>
<path d="M662.7,370.5 665.5,370.5 668.2,370.5 671.0,370.5 673.7,370.5 676.5,370.5 679.2,370.5 682.0,370.5 684.9,371.6 687.9,372.7 690.8,373.8 693.8,375.0 696.8,376.1 699.7,377.2 702.7,378.0 705.6,378.8 708.5,379.7 711.4,380.5 709.2,383.8 707.0,387.1 704.0,386.0 701.0,384.9 698.1,383.8 695.1,382.7 692.2,381.6 689.2,380.5 686.1,378.6 683.0,376.7 680.0,374.8 676.9,372.9 673.8,371.0 670.7,369.1 667.6,367.2 664.7,366.4 661.9,365.5 659.0,364.7 656.1,363.9 659.4,367.2Z" fill-opacity="0.35"/>
<path d="M764.5,350.6 767.2,350.6 769.9,350.6 772.6,350.6 775.3,350.6 778.0,350.6 780.7,350.6 783.8,351.7 786.9,352.8 790.0,353.9 786.1,350.6 782.3,347.3 778.5,343.9 774.6,340.6 770.7,337.3 766.8,334.0 768.5,331.5 770.2,329.0 767.3,328.5 764.5,327.9 761.6,327.4 761.6,330.7 761.5,334.0 761.4,337.3 761.2,340.6 762.4,343.9 763.5,347.3Z" fill-opacity="0.35"/>
 </g></g>
 <rect x="0" y="190" width="950" height="80" fill="url(#northfade)"/>
 <path d="M533.2,319.2 534.1,315.9 535.4,313.6 537.6,310.4 538.5,308.6 539.5,306.8 541.9,305.8 544.7,307.4 546.1,307.6 547.5,307.8 546.2,308.7 545.0,309.7 547.9,312.6 550.4,312.0 552.8,310.7 555.3,310.0 558.1,311.7 559.6,313.0 562.0,314.3 564.4,315.6 567.1,318.2 569.8,320.8 567.7,324.1 565.1,324.1 562.5,324.1 559.9,324.1 557.7,323.0 555.6,321.8 552.9,320.8 550.9,320.8 549.0,320.8 546.5,322.0 544.0,323.1 541.9,323.2 539.9,323.3 537.8,323.4 536.3,322.8 534.8,322.1Z M551.3,309.4 550.5,307.1 551.8,305.8 553.1,304.5 555.2,304.3 557.3,304.1 559.4,303.9 561.5,304.5 560.2,306.1 558.8,307.8 557.8,310.0 555.5,309.7 553.4,309.5Z M582.9,313.6 581.9,311.0 583.2,308.7 585.5,307.1 587.8,306.1 589.6,305.3 591.3,304.5 593.2,304.7 595.2,304.8 597.7,306.8 597.6,310.0 595.8,310.8 594.1,311.7 594.1,313.6 594.1,315.6 596.4,317.7 598.6,319.8 600.1,322.1 600.5,324.4 601.0,326.7 603.9,329.7 604.5,332.8 605.0,336.0 602.7,337.1 600.3,338.3 597.9,337.5 595.5,336.6 593.7,335.8 591.8,335.0 591.1,332.3 591.6,329.0 593.8,326.4 591.4,324.8 588.5,321.5 586.7,319.5 584.9,317.5 583.9,315.6Z M531.8,326.1 533.9,326.4 535.8,326.2 537.8,326.1 538.4,324.8 536.3,324.1 533.7,324.3 532.2,325.1Z M718.3,289.8 719.8,289.5 721.2,289.1 722.4,287.9 723.6,286.6 725.4,285.4 727.2,284.1 727.2,281.9 727.1,279.7 726.1,276.6 725.0,277.2 724.9,279.7 724.9,282.2 723.8,283.5 722.6,284.7 721.1,286.5 719.5,288.2Z M611.4,311.0 612.4,307.8 614.2,307.3 616.0,306.8 619.2,309.4 617.6,310.5 616.0,311.7 615.1,313.3 612.8,313.6Z M552.3,460.9 554.3,458.9 556.2,459.1 558.0,459.2 558.9,461.2 558.6,463.0 558.3,464.8 556.6,468.1 555.0,468.1 553.4,468.1 551.8,464.8 552.0,462.9Z" fill="#fff"/>
 <path d="M227.0,305.5 229.0,305.6 231.0,305.8 233.8,305.2 236.6,304.5 238.5,306.1 240.7,305.9 242.9,305.7 245.1,305.5 245.9,306.1 245.6,303.9 245.3,301.6 243.7,299.0 241.0,299.5 238.3,300.0 235.3,301.3 232.5,302.7 229.8,304.1Z M232.3,321.8 233.8,322.1 236.9,319.8 237.7,317.7 238.5,315.6 240.4,312.8 242.2,310.0 244.6,308.4 242.4,308.4 240.2,308.4 236.9,310.7 235.7,312.5 234.6,314.3 233.9,316.2 233.2,318.2 232.8,320.0Z M245.2,308.1 246.6,308.1 248.0,308.1 250.6,308.1 253.2,308.1 254.8,308.1 256.5,308.1 256.2,310.4 256.0,312.6 254.3,312.3 252.6,312.0 251.3,314.1 250.0,316.2 247.7,317.5 248.1,314.9 246.2,314.3 247.5,311.0 246.4,309.5Z M243.8,321.8 245.5,322.1 247.3,322.5 250.2,321.5 251.9,320.8 253.7,320.2 256.6,318.2 254.8,318.5 253.1,318.8 250.8,319.3 248.6,319.8 246.7,320.3 244.9,320.8Z M254.8,316.6 257.1,316.6 259.5,316.6 261.8,316.2 264.1,315.9 264.6,313.9 263.0,314.3 261.3,314.6 258.9,315.1 256.4,315.6Z" fill="#fbfbfb"/>
 <path d="M544.9,470.8 545.7,476.4 548.4,483.0 549.7,488.3 M558.2,491.2 559.4,497.9 561.1,507.1" fill="none" stroke="#fff" stroke-width="1.6" stroke-linecap="round"/>
 <path d="M457.0,343.6 456.8,347.3 458.4,352.2 451.8,354.9 447.1,360.5 437.8,364.9 437.7,369.5 M425.3,368.2 437.7,368.2 M437.7,369.5 437.6,373.8 428.5,373.8 428.3,382.1 425.3,389.5 414.1,389.5 M437.7,369.5 448.3,377.2 443.5,389.5 446.1,405.7 429.4,410.3 427.2,411.3 422.2,405.4 415.1,406.4 M448.3,377.2 465.0,390.4 473.4,396.4 477.9,395.8 494.7,382.1 M484.5,337.6 483.9,345.3 482.1,348.9 487.5,359.9 489.3,376.2 494.7,382.1 M492.7,350.2 489.6,354.9 487.5,359.9 M529.5,355.2 531.3,387.1 531.6,393.8 528.9,395.4 M528.9,395.4 505.8,382.5 500.6,384.8 494.7,382.1 M531.3,387.1 549.2,387.1 564.5,387.1 M473.4,396.4 471.8,408.3 464.4,410.3 460.2,410.0 456.0,413.0 448.9,417.9 446.0,425.5 M505.8,382.5 505.0,392.1 500.1,414.6 M471.8,421.2 481.4,416.9 489.9,416.0 500.1,414.6 M528.9,395.4 525.0,407.0 523.4,418.6 525.4,423.6 522.6,425.2 M505.7,435.1 514.2,430.2 524.1,425.2 525.4,423.6 M500.1,414.6 502.7,418.6 503.6,426.9 505.7,435.1 M486.1,445.0 489.5,438.4 494.3,436.8 499.9,426.9 502.7,418.6 M469.3,439.1 471.8,421.2 471.8,408.3 M466.2,439.4 464.4,423.6 M465.0,439.7 461.6,423.6 M452.8,443.1 454.5,433.5 453.7,428.2 454.0,423.6 M446.0,425.5 454.0,423.6 461.6,423.6 464.4,423.6 468.1,420.3 471.8,421.2 M440.2,445.4 437.4,435.1 438.9,426.2 446.0,425.5 M429.2,437.1 431.8,432.2 432.4,428.5 429.8,426.9 426.1,427.2 423.8,429.2 M414.3,418.9 427.6,418.9 429.3,418.9 437.5,421.9 438.9,426.2 M429.4,410.3 429.3,418.9 M525.4,423.6 535.4,426.9 546.8,426.9 555.3,425.2 558.2,428.2 M570.1,400.4 564.8,412.6 561.7,421.9 558.7,425.9 558.3,431.8 556.0,433.5 M564.8,412.6 574.6,412.0 579.6,416.0 581.7,418.6 M583.3,423.6 588.1,430.2 597.9,433.5 589.8,443.4 581.3,446.7 578.5,446.7 578.6,465.2 M562.8,444.7 572.8,448.3 578.5,446.7 M558.5,446.0 562.8,444.7 M558.5,446.0 561.5,454.9 558.6,463.2 M558.6,463.2 568.5,470.4 573.3,475.4 M550.0,452.3 547.2,459.9 546.0,464.5 M550.0,447.7 558.5,446.0 M529.8,431.2 540.0,443.4 549.1,448.3 550.0,447.7 550.0,452.3 M514.6,448.3 525.7,446.0 532.9,443.4 540.0,443.4 M505.7,435.1 502.9,445.0 507.8,452.6 514.6,448.3 M489.6,452.3 493.8,452.6 507.8,452.6 M514.6,448.3 512.1,463.2 507.8,466.5 505.8,474.7 496.6,479.0 M493.8,452.6 499.3,455.9 503.0,468.1 493.3,472.8 M496.6,479.7 508.6,484.6 511.4,486.6 515.7,483.0 523.7,484.0 524.0,496.2 529.7,496.2 529.5,502.8 523.9,502.8 523.6,513.4 527.7,517.7 M494.8,517.1 513.6,517.4 520.3,519.4 527.1,518.0 532.7,518.7 M529.7,496.2 538.7,498.2 542.0,502.2 545.9,504.1 545.8,500.2 542.3,490.3 548.9,487.3 M546.0,464.5 544.3,468.1 545.7,474.7 548.9,487.3 M548.9,487.3 555.1,490.9 559.7,497.9 567.9,498.2 576.3,494.2 M555.1,490.9 557.2,496.2 555.5,506.1 547.1,511.4 M559.7,497.9 561.9,507.8 560.1,516.1 561.1,513.4 M532.7,518.7 540.4,516.1 547.1,511.4 554.3,515.1 552.6,525.0 548.8,534.0 M532.7,518.7 535.9,524.3 538.5,528.3 543.5,533.3 548.8,534.0 M520.6,520.4 520.2,532.6 517.4,532.6 517.0,541.9 M546.0,464.5 548.6,463.2 549.5,467.8 546.9,469.1 M456.9,316.2 463.4,318.2 469.9,319.5 M438.4,321.1 444.7,321.1 443.5,324.1 443.2,328.4 442.3,332.7 441.6,336.6 M467.8,291.4 472.1,294.9 476.2,296.5 480.7,298.1 482.2,298.4 480.9,302.6 M480.9,302.6 477.2,307.1 479.5,308.1 479.7,313.6 481.0,314.9 M480.9,302.6 486.0,302.9 488.3,304.8 484.6,308.1 479.5,308.1 M479.2,284.4 478.4,288.2 476.5,292.3 477.7,296.5 M482.5,279.4 485.6,279.7 M496.3,282.5 497.5,286.6 498.9,291.7 498.4,292.0 491.8,293.9 494.2,297.1 496.4,299.0 494.6,302.9 486.0,302.9 M488.3,304.8 492.6,304.2 496.5,306.1 502.4,305.8 M496.4,299.0 499.3,298.1 504.2,299.4 504.9,301.3 502.6,305.2 M498.9,291.7 503.6,294.2 508.7,296.5 518.2,297.7 M518.2,297.7 521.4,293.3 519.6,288.5 519.9,282.5 517.0,281.0 509.3,281.0 M504.2,299.4 508.7,296.5 M504.9,301.3 509.2,301.9 517.6,300.0 M517.6,300.0 517.4,302.9 515.2,307.1 510.2,307.8 506.4,308.1 502.6,305.2 M517.6,300.0 519.5,301.3 524.7,302.3 528.8,300.6 533.5,306.1 533.9,309.4 M520.2,313.6 526.3,315.2 531.3,313.9 535.6,314.9 M515.2,307.1 516.7,311.7 520.2,313.6 M519.5,314.3 520.8,317.9 520.0,320.2 521.8,322.8 529.9,323.1 530.6,321.8 534.6,320.8 M514.3,328.4 516.4,324.4 521.8,322.8 M529.9,323.1 529.8,324.8 M510.2,308.1 511.5,311.3 511.8,315.6 513.9,318.5 515.4,321.1 516.4,324.4 M502.2,310.4 510.4,311.0 M509.7,319.2 511.9,316.2 M512.3,321.5 513.9,318.8 M515.4,321.1 520.0,320.2 M496.5,306.1 496.5,309.1 M496.5,309.4 501.3,308.4 503.7,306.1 M488.2,267.1 489.4,260.8 490.1,254.9 494.3,250.5 496.9,243.3 500.8,239.0 506.0,237.6 M506.0,237.6 513.0,240.4 515.3,246.7 M506.0,237.6 515.9,238.4 522.9,235.4 M522.9,235.4 524.5,237.6 523.9,240.4 527.5,241.8 527.3,246.1 529.2,250.5 533.6,255.1 526.3,262.3 M522.9,235.4 527.9,235.4 M527.3,265.3 526.9,270.5 M519.5,270.2 526.8,271.1 M526.9,270.5 529.3,275.4 525.7,276.9 M512.1,275.7 519.2,275.1 525.7,276.9 M525.7,276.9 526.9,282.2 518.9,282.5 M517.0,281.0 513.1,278.5 M520.0,289.8 528.4,289.5 537.3,290.7 540.1,288.2 M540.1,288.2 539.7,282.8 536.7,279.1 529.3,275.4 M540.1,288.2 545.5,287.9 550.1,293.6 556.7,295.2 561.8,296.1 562.9,301.9 558.9,304.2 M528.8,300.6 532.2,299.7 536.4,302.9 538.1,306.1 533.9,309.4 M570.1,322.5 574.2,323.8 575.8,325.7 579.7,328.4 578.9,332.3 580.9,336.6 574.6,337.0 568.3,338.0 563.0,338.0 559.5,338.0 557.9,340.6 M565.2,316.2 570.5,316.9 576.0,318.5 582.9,321.1 588.5,321.5 M574.2,323.8 579.4,323.4 582.9,321.1 M579.7,328.4 583.2,331.0 588.7,332.3 591.2,332.7 M580.9,336.6 583.4,341.0 585.1,343.9 586.0,350.6 590.5,353.9 592.5,358.9 594.1,360.9 M574.6,337.0 571.9,345.9 566.4,349.2 567.9,353.2 575.9,356.9 584.0,363.2 588.9,363.5 592.5,365.5 M557.8,349.6 561.4,352.9 566.4,349.2 M558.2,345.3 560.2,346.6 558.3,349.6 M567.9,353.2 562.2,355.6 565.4,360.5 561.5,362.5 557.4,362.5 M557.7,351.6 558.1,355.6 557.1,362.2 M582.2,405.7 586.8,402.4 593.9,403.7 607.5,397.1 617.3,393.8 614.7,384.8 607.7,384.1 604.7,379.5 M607.5,397.1 611.2,405.0 M617.0,380.5 617.8,377.5 M605.1,336.3 610.2,334.0 614.3,334.3 620.0,336.6 624.7,338.6 M624.7,338.6 625.7,345.3 625.2,348.9 627.1,355.6 629.4,355.9 628.0,361.2 M628.0,361.2 631.1,365.2 635.9,369.9 634.8,371.8 632.1,376.5 M628.0,361.2 636.7,362.2 642.7,360.9 643.1,356.6 649.7,354.2 650.9,348.9 653.1,346.6 653.2,341.0 658.1,337.6 M624.7,338.6 629.3,342.9 634.0,339.6 638.5,336.0 642.8,337.3 647.7,335.3 651.5,334.3 659.8,336.0 M651.0,381.5 656.5,379.2 658.4,378.5 653.3,370.5 655.3,367.2 658.8,363.9 662.1,360.9 664.6,356.9 664.5,352.2 662.0,345.6 670.1,342.3 M670.1,342.3 674.0,347.3 674.8,352.2 676.7,357.2 680.0,358.6 M680.1,359.2 681.1,364.5 686.9,367.5 692.7,369.2 698.8,371.8 704.6,372.2 M680.1,359.2 685.3,359.5 691.7,363.9 697.9,367.2 703.7,367.5 M706.0,369.5 707.6,366.5 713.7,367.9 719.3,364.9 724.3,362.9 728.7,366.5 M706.5,373.2 709.7,374.2 716.2,376.5 717.6,379.5 714.9,381.5 718.7,383.8 719.3,389.1 M706.5,373.2 705.8,378.8 709.5,385.5 M728.7,366.5 723.9,371.8 722.9,381.2 721.7,387.1 720.2,389.5 M728.7,366.5 732.6,368.9 734.9,377.2 733.1,380.5 739.0,386.8 744.1,388.8 745.2,385.8 748.5,385.5 754.4,382.8 758.6,384.5 763.0,388.5 M744.1,388.8 741.6,392.4 737.5,394.8 736.6,402.1 740.4,407.0 739.2,413.6 743.0,423.6 741.3,426.9 M741.6,392.4 745.2,395.4 748.4,399.7 756.0,402.1 759.5,408.7 752.6,412.3 752.0,419.6 M746.0,385.8 752.5,392.1 756.2,397.7 763.1,406.4 765.5,411.7 762.2,421.9 759.1,425.9 M759.5,408.7 765.5,411.7 M747.2,438.4 751.3,440.7 752.4,439.4 M790.8,445.0 789.6,451.6 786.8,454.9 781.1,455.6 775.4,456.9 774.2,453.9 M863.7,468.5 862.3,489.9 M682.1,297.4 689.8,302.9 694.9,309.4 708.0,313.6 713.7,318.5 721.7,318.8 735.9,322.1 740.7,320.8 750.3,315.9 756.2,311.7 759.5,306.8 767.0,305.5 760.0,301.3 753.7,295.5 M753.7,295.5 746.2,294.2 732.5,296.8 726.1,293.9 716.6,293.3 703.6,288.5 699.1,294.9 689.6,293.3 682.1,297.4 M753.7,295.5 756.9,296.5 759.4,293.3 757.4,284.4 763.7,283.8 772.4,286.0 780.3,294.9 790.2,298.4 797.2,302.3 801.7,300.3 803.5,310.7 798.4,311.3 802.5,318.2 801.6,319.5 M801.6,319.5 798.0,320.8 795.6,321.1 791.7,324.1 788.9,327.7 M796.7,335.0 798.8,333.0 801.5,332.0 M682.1,297.4 678.5,299.7 677.7,304.5 672.4,303.9 672.6,309.4 667.7,311.0 669.7,318.2 661.2,325.7 656.6,328.4 655.8,329.4 661.3,336.6 659.8,336.0 M662.4,338.0 670.1,342.3 M582.7,306.1 578.9,299.7 579.8,294.9 585.5,290.1 593.0,290.4 599.8,293.0 607.0,291.7 614.1,292.3 611.8,286.9 611.5,282.2 620.7,280.3 628.2,277.9 640.8,282.2 648.0,281.9 656.1,286.9 667.8,291.7 674.3,295.5 680.9,297.4 M599.7,320.2 608.1,323.1 605.5,311.0 611.7,309.1 618.8,313.0 622.1,315.9 633.0,317.9 641.4,325.4 646.5,319.8 653.5,316.9 669.9,317.9 M608.1,323.1 612.1,323.1 618.4,322.1 624.8,327.4 632.4,332.3 638.5,336.0 M638.5,336.0 642.1,336.6 642.9,333.0 640.9,328.7 645.7,326.7 647.9,326.4 M644.5,327.4 655.5,329.0 M645.9,322.5 650.1,323.4 653.5,325.4 M151.6,298.1 185.0,298.1 222.2,298.1 222.8,296.8 222.8,299.0 227.2,299.4 235.0,301.3 245.9,306.1 249.9,310.0 247.5,317.5 244.9,320.8 256.4,318.2 264.2,313.6 269.6,311.0 277.9,311.0 280.3,309.7 283.3,305.5 286.0,303.2 288.5,303.5 289.3,304.2 288.0,308.7 289.5,310.7 M157.7,235.9 133.0,262.9 136.9,263.8 138.0,266.8 144.6,264.4 146.2,268.3 146.4,274.5 148.7,276.3 144.7,280.0 M144.4,352.2 151.1,351.6 159.7,356.2 167.3,356.2 172.4,354.6 175.9,361.9 179.5,363.9 184.5,361.2 187.9,368.9 193.1,374.2 M201.2,412.0 201.4,409.3 204.0,406.7 206.8,406.7 207.5,401.1 211.2,401.1 213.7,398.7 M210.9,401.1 210.1,407.4 212.9,408.0 M210.1,407.4 209.3,412.3 206.8,414.6 M209.3,412.3 213.4,414.0 214.5,417.3 M214.5,417.3 218.5,414.0 221.6,411.3 226.7,410.3 M218.5,423.2 224.1,423.9 M227.0,428.2 225.8,433.5 M239.9,436.1 241.6,431.2 M256.8,423.2 255.6,428.5 255.7,433.5 256.1,435.8 262.1,436.8 269.4,439.4 268.4,445.0 269.7,448.7 268.2,453.3 270.8,455.9 M270.8,455.9 263.4,456.3 262.5,464.2 262.4,473.7 M262.4,473.7 256.3,467.8 246.8,460.2 240.5,458.6 236.8,455.3 M246.8,460.2 246.0,464.8 238.1,471.1 232.7,471.1 M291.0,431.8 288.0,437.4 287.0,440.4 288.7,442.7 M288.7,442.7 282.6,446.7 276.9,446.4 279.1,452.3 270.8,455.9 M299.0,440.1 296.2,453.3 M307.8,441.1 306.2,452.3 M288.7,442.7 291.1,452.3 296.2,454.9 301.9,453.6 306.2,452.3 314.2,446.7 M262.4,473.7 253.9,477.0 251.3,484.6 254.2,490.9 261.1,491.6 261.6,496.2 264.2,496.2 267.0,501.2 265.8,510.4 267.2,513.4 265.9,517.7 263.9,520.4 M264.2,496.2 266.7,496.5 275.9,492.9 281.8,501.2 289.1,504.5 292.3,513.7 297.6,513.7 299.2,525.3 M299.2,525.3 295.9,523.7 288.8,524.7 287.2,533.3 M265.9,517.7 269.9,524.3 271.3,531.0 274.6,535.3 M274.6,535.3 280.4,533.0 287.2,533.3 M299.2,525.3 300.2,533.0 306.3,532.6 307.8,539.3 310.9,539.3 M287.2,533.3 300.4,541.9 M274.6,535.3 275.9,540.9 272.4,545.9" fill="none" stroke="#c6c6c6" stroke-width="0.8" stroke-linejoin="round" clip-path="url(#landclip)"/>
 <path d="M60.9,281.0 55.2,282.8 49.4,284.4 44.2,285.7 36.7,287.2 31.3,287.9 24.7,289.1 20.0,289.5 14.1,289.1 10.0,288.2 4.6,286.0 1.2,285.7 M936.2,281.0 933.9,282.8 931.1,284.4 928.1,285.7 923.5,287.2 919.1,287.9 914.8,289.1 910.6,289.5 904.2,289.1 898.4,288.2 889.1,286.0 885.2,285.7" fill="none" stroke="#d8d8d8" stroke-width="1.6" stroke-linecap="round"/>
 <path d="M838.3,315.9 841.6,312.6 844.6,309.1 847.3,305.2 849.1,300.3 850.2,296.5 850.7,292.6" fill="none" stroke="#dcdcdc" stroke-width="1.2" stroke-linecap="round"/>
</g>
<g filter="url(#b3)" fill="#e07d74" clip-path="url(#landclip)">
<ellipse cx="528" cy="494" rx="30" ry="19" fill-opacity="0.3"/>
<ellipse cx="512" cy="500" rx="14" ry="17" fill-opacity="0.25"/>
<ellipse cx="552" cy="497" rx="19" ry="15" fill-opacity="0.22"/>
<ellipse cx="540" cy="509" rx="24" ry="9" fill-opacity="0.2"/>
<ellipse cx="568" cy="503" rx="9" ry="13" fill-opacity="0.15"/>
<ellipse cx="530" cy="478" rx="17" ry="6" fill-opacity="0.15"/>
</g>
<g clip-path="url(#landclip)"><circle cx="520.9" cy="477.2" r="0.79" fill="#d9706a" fill-opacity="0.12"/><circle cx="537.9" cy="487.6" r="0.43" fill="#d9706a" fill-opacity="0.23"/><circle cx="498.0" cy="490.8" r="0.44" fill="#d9706a" fill-opacity="0.12"/><circle cx="529.0" cy="509.7" r="0.47" fill="#d9706a" fill-opacity="0.16"/><circle cx="545.2" cy="515.5" r="0.75" fill="#d9706a" fill-opacity="0.20"/><circle cx="563.7" cy="483.9" r="0.49" fill="#d9706a" fill-opacity="0.13"/><circle cx="519.7" cy="509.2" r="0.51" fill="#d9706a" fill-opacity="0.25"/><circle cx="546.1" cy="487.9" r="0.73" fill="#d9706a" fill-opacity="0.12"/><circle cx="549.4" cy="490.5" r="0.59" fill="#d9706a" fill-opacity="0.25"/><circle cx="531.3" cy="484.4" r="0.88" fill="#d9706a" fill-opacity="0.27"/><circle cx="514.5" cy="497.6" r="0.72" fill="#d9706a" fill-opacity="0.32"/><circle cx="553.4" cy="483.8" r="0.99" fill="#d9706a" fill-opacity="0.13"/><circle cx="528.4" cy="506.3" r="0.49" fill="#d9706a" fill-opacity="0.22"/><circle cx="498.1" cy="502.1" r="0.86" fill="#d9706a" fill-opacity="0.24"/><circle cx="565.0" cy="485.1" r="0.82" fill="#d9706a" fill-opacity="0.25"/><circle cx="541.4" cy="491.9" r="0.90" fill="#d9706a" fill-opacity="0.34"/><circle cx="532.9" cy="501.9" r="0.44" fill="#d9706a" fill-opacity="0.28"/><circle cx="560.8" cy="483.7" r="0.63" fill="#d9706a" fill-opacity="0.27"/><circle cx="496.8" cy="492.2" r="0.50" fill="#d9706a" fill-opacity="0.13"/><circle cx="505.3" cy="481.9" r="0.63" fill="#d9706a" fill-opacity="0.32"/><circle cx="501.4" cy="491.6" r="0.73" fill="#d9706a" fill-opacity="0.32"/><circle cx="560.5" cy="511.5" r="0.57" fill="#d9706a" fill-opacity="0.20"/><circle cx="523.7" cy="512.4" r="0.97" fill="#d9706a" fill-opacity="0.14"/><circle cx="509.1" cy="481.1" r="0.54" fill="#d9706a" fill-opacity="0.22"/><circle cx="542.1" cy="482.6" r="0.40" fill="#d9706a" fill-opacity="0.20"/><circle cx="524.5" cy="497.2" r="0.97" fill="#d9706a" fill-opacity="0.27"/><circle cx="536.2" cy="499.6" r="0.81" fill="#d9706a" fill-opacity="0.11"/><circle cx="567.0" cy="507.4" r="0.92" fill="#d9706a" fill-opacity="0.30"/><circle cx="526.4" cy="489.2" r="0.46" fill="#d9706a" fill-opacity="0.26"/><circle cx="511.7" cy="477.8" r="0.60" fill="#d9706a" fill-opacity="0.11"/><circle cx="503.1" cy="487.5" r="0.42" fill="#d9706a" fill-opacity="0.32"/><circle cx="544.1" cy="477.1" r="0.55" fill="#d9706a" fill-opacity="0.19"/><circle cx="524.1" cy="475.9" r="0.91" fill="#d9706a" fill-opacity="0.35"/><circle cx="532.3" cy="493.2" r="0.45" fill="#d9706a" fill-opacity="0.13"/><circle cx="522.4" cy="482.7" r="0.90" fill="#d9706a" fill-opacity="0.14"/><circle cx="537.3" cy="477.0" r="0.73" fill="#d9706a" fill-opacity="0.11"/><circle cx="537.2" cy="517.0" r="0.92" fill="#d9706a" fill-opacity="0.27"/><circle cx="515.9" cy="487.6" r="0.50" fill="#d9706a" fill-opacity="0.29"/><circle cx="537.6" cy="507.4" r="0.60" fill="#d9706a" fill-opacity="0.16"/><circle cx="563.2" cy="508.7" r="0.89" fill="#d9706a" fill-opacity="0.28"/><circle cx="513.1" cy="494.8" r="0.61" fill="#d9706a" fill-opacity="0.11"/><circle cx="515.7" cy="503.2" r="0.97" fill="#d9706a" fill-opacity="0.21"/><circle cx="571.4" cy="487.5" r="0.53" fill="#d9706a" fill-opacity="0.16"/><circle cx="510.7" cy="479.8" r="0.77" fill="#d9706a" fill-opacity="0.33"/><circle cx="562.2" cy="493.0" r="0.79" fill="#d9706a" fill-opacity="0.30"/><circle cx="501.8" cy="501.7" r="0.95" fill="#d9706a" fill-opacity="0.30"/><circle cx="555.0" cy="492.9" r="0.51" fill="#d9706a" fill-opacity="0.30"/><circle cx="521.6" cy="508.4" r="0.98" fill="#d9706a" fill-opacity="0.20"/><circle cx="527.1" cy="515.4" r="0.83" fill="#d9706a" fill-opacity="0.14"/><circle cx="506.7" cy="509.7" r="0.99" fill="#d9706a" fill-opacity="0.26"/><circle cx="523.0" cy="496.3" r="0.48" fill="#d9706a" fill-opacity="0.10"/><circle cx="572.7" cy="501.2" r="0.72" fill="#d9706a" fill-opacity="0.33"/><circle cx="529.7" cy="511.8" r="0.90" fill="#d9706a" fill-opacity="0.15"/><circle cx="515.1" cy="484.1" r="0.54" fill="#d9706a" fill-opacity="0.25"/><circle cx="515.7" cy="490.1" r="0.48" fill="#d9706a" fill-opacity="0.33"/><circle cx="523.3" cy="492.0" r="0.75" fill="#d9706a" fill-opacity="0.33"/><circle cx="528.7" cy="514.1" r="0.70" fill="#d9706a" fill-opacity="0.23"/><circle cx="536.9" cy="470.9" r="0.66" fill="#d9706a" fill-opacity="0.15"/><circle cx="508.8" cy="492.7" r="0.84" fill="#d9706a" fill-opacity="0.24"/><circle cx="521.1" cy="494.9" r="0.73" fill="#d9706a" fill-opacity="0.30"/><circle cx="503.5" cy="496.9" r="0.55" fill="#d9706a" fill-opacity="0.17"/><circle cx="556.8" cy="494.4" r="0.74" fill="#d9706a" fill-opacity="0.29"/><circle cx="568.0" cy="491.3" r="0.77" fill="#d9706a" fill-opacity="0.23"/><circle cx="536.0" cy="503.3" r="0.67" fill="#d9706a" fill-opacity="0.23"/><circle cx="533.2" cy="515.2" r="0.82" fill="#d9706a" fill-opacity="0.32"/><circle cx="539.8" cy="515.3" r="0.90" fill="#d9706a" fill-opacity="0.13"/><circle cx="504.7" cy="491.2" r="0.44" fill="#d9706a" fill-opacity="0.16"/><circle cx="500.8" cy="502.1" r="0.87" fill="#d9706a" fill-opacity="0.32"/><circle cx="507.4" cy="504.4" r="0.80" fill="#d9706a" fill-opacity="0.14"/><circle cx="526.9" cy="493.4" r="0.99" fill="#d9706a" fill-opacity="0.31"/><circle cx="507.9" cy="490.7" r="0.71" fill="#d9706a" fill-opacity="0.18"/><circle cx="510.7" cy="485.3" r="0.83" fill="#d9706a" fill-opacity="0.10"/><circle cx="539.3" cy="491.1" r="0.41" fill="#d9706a" fill-opacity="0.18"/><circle cx="544.9" cy="494.6" r="0.44" fill="#d9706a" fill-opacity="0.35"/><circle cx="503.4" cy="482.7" r="0.42" fill="#d9706a" fill-opacity="0.29"/><circle cx="516.6" cy="476.2" r="0.65" fill="#d9706a" fill-opacity="0.33"/><circle cx="560.5" cy="482.4" r="0.49" fill="#d9706a" fill-opacity="0.33"/><circle cx="540.6" cy="503.6" r="0.45" fill="#d9706a" fill-opacity="0.11"/><circle cx="550.1" cy="490.4" r="0.44" fill="#d9706a" fill-opacity="0.33"/><circle cx="545.8" cy="508.5" r="0.45" fill="#d9706a" fill-opacity="0.31"/><circle cx="531.3" cy="486.3" r="0.73" fill="#d9706a" fill-opacity="0.33"/><circle cx="516.4" cy="476.2" r="0.72" fill="#d9706a" fill-opacity="0.16"/><circle cx="520.0" cy="484.6" r="0.86" fill="#d9706a" fill-opacity="0.17"/><circle cx="535.0" cy="478.5" r="0.61" fill="#d9706a" fill-opacity="0.10"/><circle cx="553.6" cy="496.5" r="0.51" fill="#d9706a" fill-opacity="0.22"/><circle cx="560.5" cy="490.7" r="0.70" fill="#d9706a" fill-opacity="0.31"/><circle cx="526.4" cy="494.3" r="0.81" fill="#d9706a" fill-opacity="0.35"/><circle cx="522.4" cy="509.9" r="0.82" fill="#d9706a" fill-opacity="0.26"/><circle cx="527.4" cy="486.7" r="0.43" fill="#d9706a" fill-opacity="0.13"/><circle cx="500.7" cy="505.6" r="0.55" fill="#d9706a" fill-opacity="0.14"/><circle cx="564.6" cy="502.2" r="0.57" fill="#d9706a" fill-opacity="0.16"/><circle cx="518.4" cy="492.1" r="0.49" fill="#d9706a" fill-opacity="0.21"/><circle cx="572.8" cy="496.3" r="0.55" fill="#d9706a" fill-opacity="0.34"/><circle cx="519.8" cy="487.1" r="0.40" fill="#d9706a" fill-opacity="0.20"/><circle cx="533.0" cy="494.1" r="0.52" fill="#d9706a" fill-opacity="0.23"/><circle cx="502.2" cy="489.2" r="0.43" fill="#d9706a" fill-opacity="0.11"/><circle cx="519.3" cy="481.2" r="0.75" fill="#d9706a" fill-opacity="0.23"/><circle cx="555.0" cy="501.6" r="0.83" fill="#d9706a" fill-opacity="0.32"/><circle cx="526.2" cy="485.7" r="0.99" fill="#d9706a" fill-opacity="0.14"/><circle cx="552.9" cy="500.9" r="0.43" fill="#d9706a" fill-opacity="0.31"/><circle cx="566.4" cy="500.1" r="0.84" fill="#d9706a" fill-opacity="0.30"/><circle cx="506.1" cy="495.1" r="0.70" fill="#d9706a" fill-opacity="0.31"/><circle cx="559.4" cy="509.7" r="0.75" fill="#d9706a" fill-opacity="0.32"/><circle cx="549.6" cy="503.3" r="0.54" fill="#d9706a" fill-opacity="0.11"/><circle cx="505.6" cy="487.3" r="0.46" fill="#d9706a" fill-opacity="0.31"/><circle cx="539.7" cy="500.1" r="0.78" fill="#d9706a" fill-opacity="0.27"/><circle cx="534.1" cy="470.2" r="0.88" fill="#d9706a" fill-opacity="0.29"/><circle cx="535.2" cy="495.7" r="0.80" fill="#d9706a" fill-opacity="0.12"/><circle cx="553.9" cy="482.1" r="0.44" fill="#d9706a" fill-opacity="0.17"/><circle cx="553.3" cy="479.9" r="0.84" fill="#d9706a" fill-opacity="0.34"/><circle cx="534.5" cy="488.4" r="0.69" fill="#d9706a" fill-opacity="0.27"/><circle cx="556.4" cy="499.6" r="0.79" fill="#d9706a" fill-opacity="0.12"/><circle cx="506.8" cy="482.2" r="0.85" fill="#d9706a" fill-opacity="0.18"/><circle cx="540.4" cy="470.6" r="0.44" fill="#d9706a" fill-opacity="0.17"/><circle cx="548.8" cy="503.2" r="0.81" fill="#d9706a" fill-opacity="0.17"/><circle cx="536.3" cy="492.3" r="0.68" fill="#d9706a" fill-opacity="0.13"/><circle cx="566.5" cy="479.6" r="0.99" fill="#d9706a" fill-opacity="0.33"/><circle cx="496.4" cy="492.0" r="0.89" fill="#d9706a" fill-opacity="0.34"/><circle cx="531.0" cy="482.9" r="0.53" fill="#d9706a" fill-opacity="0.34"/><circle cx="511.9" cy="497.9" r="0.49" fill="#d9706a" fill-opacity="0.23"/><circle cx="560.6" cy="494.4" r="0.93" fill="#d9706a" fill-opacity="0.28"/><circle cx="513.5" cy="513.1" r="0.69" fill="#d9706a" fill-opacity="0.11"/><circle cx="495.3" cy="493.6" r="0.67" fill="#d9706a" fill-opacity="0.18"/><circle cx="506.3" cy="486.5" r="0.59" fill="#d9706a" fill-opacity="0.31"/><circle cx="569.1" cy="504.2" r="0.94" fill="#d9706a" fill-opacity="0.17"/><circle cx="524.8" cy="488.9" r="1.00" fill="#d9706a" fill-opacity="0.25"/><circle cx="523.9" cy="490.5" r="0.57" fill="#d9706a" fill-opacity="0.11"/><circle cx="517.8" cy="514.9" r="0.55" fill="#d9706a" fill-opacity="0.17"/><circle cx="535.9" cy="479.1" r="0.62" fill="#d9706a" fill-opacity="0.34"/><circle cx="565.7" cy="509.0" r="0.78" fill="#d9706a" fill-opacity="0.33"/><circle cx="570.3" cy="496.4" r="0.83" fill="#d9706a" fill-opacity="0.11"/><circle cx="553.6" cy="491.6" r="0.85" fill="#d9706a" fill-opacity="0.26"/><circle cx="517.9" cy="472.4" r="0.96" fill="#d9706a" fill-opacity="0.13"/><circle cx="532.8" cy="486.5" r="0.58" fill="#d9706a" fill-opacity="0.28"/><circle cx="547.5" cy="484.4" r="0.73" fill="#d9706a" fill-opacity="0.20"/><circle cx="508.4" cy="477.8" r="0.52" fill="#d9706a" fill-opacity="0.33"/><circle cx="534.8" cy="480.6" r="0.94" fill="#d9706a" fill-opacity="0.35"/><circle cx="531.0" cy="476.7" r="0.52" fill="#d9706a" fill-opacity="0.12"/><circle cx="522.4" cy="474.4" r="0.54" fill="#d9706a" fill-opacity="0.16"/><circle cx="540.6" cy="512.6" r="0.85" fill="#d9706a" fill-opacity="0.20"/><circle cx="528.1" cy="495.2" r="0.63" fill="#d9706a" fill-opacity="0.18"/><circle cx="500.0" cy="483.3" r="0.98" fill="#d9706a" fill-opacity="0.13"/><circle cx="535.3" cy="500.2" r="0.92" fill="#d9706a" fill-opacity="0.15"/><circle cx="516.7" cy="481.9" r="0.64" fill="#d9706a" fill-opacity="0.21"/><circle cx="566.7" cy="492.7" r="0.75" fill="#d9706a" fill-opacity="0.10"/><circle cx="526.3" cy="514.5" r="0.90" fill="#d9706a" fill-opacity="0.31"/><circle cx="536.8" cy="502.7" r="0.96" fill="#d9706a" fill-opacity="0.28"/><circle cx="546.8" cy="506.7" r="0.67" fill="#d9706a" fill-opacity="0.24"/><circle cx="513.6" cy="514.2" r="0.79" fill="#d9706a" fill-opacity="0.18"/><circle cx="505.2" cy="482.1" r="0.78" fill="#d9706a" fill-opacity="0.27"/><circle cx="537.0" cy="498.0" r="0.63" fill="#d9706a" fill-opacity="0.16"/><circle cx="543.1" cy="470.5" r="0.58" fill="#d9706a" fill-opacity="0.22"/><circle cx="571.7" cy="500.9" r="0.93" fill="#d9706a" fill-opacity="0.22"/><circle cx="513.8" cy="481.9" r="0.98" fill="#d9706a" fill-opacity="0.28"/><circle cx="534.9" cy="502.4" r="0.65" fill="#d9706a" fill-opacity="0.16"/><circle cx="548.4" cy="514.4" r="0.54" fill="#d9706a" fill-opacity="0.11"/><circle cx="522.0" cy="490.2" r="0.81" fill="#d9706a" fill-opacity="0.15"/><circle cx="558.8" cy="505.5" r="0.70" fill="#d9706a" fill-opacity="0.15"/><circle cx="560.6" cy="481.1" r="0.53" fill="#d9706a" fill-opacity="0.29"/><circle cx="518.6" cy="515.7" r="0.70" fill="#d9706a" fill-opacity="0.15"/><circle cx="512.9" cy="490.0" r="0.80" fill="#d9706a" fill-opacity="0.34"/><circle cx="506.7" cy="488.9" r="0.53" fill="#d9706a" fill-opacity="0.34"/><circle cx="499.8" cy="488.9" r="0.94" fill="#d9706a" fill-opacity="0.32"/><circle cx="569.5" cy="485.8" r="0.51" fill="#d9706a" fill-opacity="0.33"/><circle cx="548.2" cy="488.2" r="0.62" fill="#d9706a" fill-opacity="0.18"/><circle cx="517.4" cy="486.9" r="0.97" fill="#d9706a" fill-opacity="0.13"/><circle cx="523.5" cy="509.4" r="0.89" fill="#d9706a" fill-opacity="0.21"/><circle cx="498.9" cy="492.7" r="0.62" fill="#d9706a" fill-opacity="0.33"/><circle cx="510.4" cy="487.5" r="0.94" fill="#d9706a" fill-opacity="0.11"/><circle cx="527.9" cy="509.0" r="0.86" fill="#d9706a" fill-opacity="0.11"/><circle cx="568.6" cy="482.3" r="0.85" fill="#d9706a" fill-opacity="0.32"/><circle cx="522.1" cy="483.1" r="0.97" fill="#d9706a" fill-opacity="0.25"/><circle cx="516.0" cy="504.4" r="0.59" fill="#d9706a" fill-opacity="0.17"/><circle cx="568.3" cy="500.4" r="0.97" fill="#d9706a" fill-opacity="0.11"/><circle cx="513.7" cy="492.8" r="0.97" fill="#d9706a" fill-opacity="0.34"/><circle cx="525.9" cy="482.1" r="0.66" fill="#d9706a" fill-opacity="0.22"/><circle cx="559.2" cy="505.4" r="0.89" fill="#d9706a" fill-opacity="0.29"/><circle cx="543.6" cy="485.7" r="0.59" fill="#d9706a" fill-opacity="0.19"/><circle cx="510.8" cy="506.1" r="0.55" fill="#d9706a" fill-opacity="0.12"/><circle cx="497.7" cy="496.5" r="0.60" fill="#d9706a" fill-opacity="0.35"/><circle cx="516.2" cy="474.0" r="0.46" fill="#d9706a" fill-opacity="0.22"/><circle cx="551.8" cy="491.5" r="0.54" fill="#d9706a" fill-opacity="0.20"/><circle cx="544.6" cy="502.4" r="0.85" fill="#d9706a" fill-opacity="0.31"/><circle cx="548.2" cy="475.8" r="0.90" fill="#d9706a" fill-opacity="0.17"/><circle cx="540.4" cy="487.9" r="0.84" fill="#d9706a" fill-opacity="0.15"/><circle cx="514.8" cy="481.8" r="0.49" fill="#d9706a" fill-opacity="0.32"/><circle cx="541.3" cy="485.7" r="0.64" fill="#d9706a" fill-opacity="0.35"/><circle cx="535.6" cy="481.1" r="0.89" fill="#d9706a" fill-opacity="0.26"/><circle cx="533.0" cy="509.3" r="0.90" fill="#d9706a" fill-opacity="0.33"/><circle cx="504.5" cy="479.1" r="0.98" fill="#d9706a" fill-opacity="0.25"/><circle cx="569.4" cy="487.9" r="0.92" fill="#d9706a" fill-opacity="0.21"/><circle cx="515.8" cy="507.3" r="0.97" fill="#d9706a" fill-opacity="0.13"/><circle cx="542.7" cy="499.8" r="0.53" fill="#d9706a" fill-opacity="0.19"/><circle cx="506.3" cy="479.8" r="0.55" fill="#d9706a" fill-opacity="0.25"/><circle cx="547.1" cy="479.8" r="0.41" fill="#d9706a" fill-opacity="0.18"/><circle cx="549.3" cy="478.9" r="0.59" fill="#d9706a" fill-opacity="0.15"/><circle cx="558.6" cy="496.3" r="0.44" fill="#d9706a" fill-opacity="0.13"/><circle cx="526.6" cy="496.4" r="0.78" fill="#d9706a" fill-opacity="0.12"/><circle cx="508.1" cy="503.4" r="0.65" fill="#d9706a" fill-opacity="0.17"/><circle cx="519.6" cy="515.8" r="0.59" fill="#d9706a" fill-opacity="0.24"/><circle cx="523.6" cy="490.0" r="0.92" fill="#d9706a" fill-opacity="0.35"/><circle cx="524.1" cy="479.5" r="0.84" fill="#d9706a" fill-opacity="0.15"/><circle cx="528.9" cy="509.4" r="0.64" fill="#d9706a" fill-opacity="0.32"/><circle cx="531.9" cy="477.8" r="0.41" fill="#d9706a" fill-opacity="0.24"/><circle cx="546.3" cy="513.7" r="0.45" fill="#d9706a" fill-opacity="0.26"/><circle cx="524.7" cy="494.2" r="0.49" fill="#d9706a" fill-opacity="0.17"/><circle cx="536.7" cy="514.4" r="0.47" fill="#d9706a" fill-opacity="0.22"/><circle cx="510.8" cy="476.1" r="0.97" fill="#d9706a" fill-opacity="0.34"/><circle cx="533.6" cy="472.6" r="0.96" fill="#d9706a" fill-opacity="0.20"/><circle cx="567.3" cy="499.8" r="0.89" fill="#d9706a" fill-opacity="0.14"/><circle cx="557.9" cy="480.7" r="0.64" fill="#d9706a" fill-opacity="0.31"/><circle cx="561.3" cy="478.8" r="0.53" fill="#d9706a" fill-opacity="0.20"/><circle cx="536.4" cy="488.4" r="0.47" fill="#d9706a" fill-opacity="0.16"/><circle cx="553.0" cy="513.1" r="0.42" fill="#d9706a" fill-opacity="0.24"/><circle cx="543.0" cy="496.4" r="0.78" fill="#d9706a" fill-opacity="0.18"/><circle cx="528.6" cy="498.0" r="0.66" fill="#d9706a" fill-opacity="0.26"/><circle cx="530.7" cy="491.0" r="0.41" fill="#d9706a" fill-opacity="0.25"/><circle cx="534.2" cy="481.3" r="0.86" fill="#d9706a" fill-opacity="0.29"/><circle cx="531.7" cy="478.6" r="0.68" fill="#d9706a" fill-opacity="0.13"/><circle cx="505.3" cy="490.7" r="0.46" fill="#d9706a" fill-opacity="0.21"/><circle cx="535.8" cy="472.0" r="0.78" fill="#d9706a" fill-opacity="0.12"/><circle cx="553.7" cy="507.3" r="0.71" fill="#d9706a" fill-opacity="0.11"/><circle cx="535.3" cy="488.1" r="0.97" fill="#d9706a" fill-opacity="0.13"/><circle cx="553.6" cy="509.1" r="0.52" fill="#d9706a" fill-opacity="0.35"/><circle cx="534.3" cy="515.9" r="0.95" fill="#d9706a" fill-opacity="0.14"/><circle cx="500.2" cy="486.8" r="0.85" fill="#d9706a" fill-opacity="0.14"/><circle cx="566.7" cy="483.2" r="0.89" fill="#d9706a" fill-opacity="0.14"/><circle cx="535.2" cy="514.2" r="0.52" fill="#d9706a" fill-opacity="0.17"/><circle cx="535.5" cy="485.3" r="0.42" fill="#d9706a" fill-opacity="0.15"/><circle cx="549.4" cy="513.0" r="0.50" fill="#d9706a" fill-opacity="0.30"/><circle cx="504.2" cy="495.5" r="0.78" fill="#d9706a" fill-opacity="0.19"/><circle cx="564.8" cy="496.6" r="0.75" fill="#d9706a" fill-opacity="0.32"/><circle cx="545.4" cy="488.9" r="0.88" fill="#d9706a" fill-opacity="0.17"/><circle cx="574.2" cy="497.7" r="0.62" fill="#d9706a" fill-opacity="0.29"/><circle cx="530.4" cy="478.5" r="0.85" fill="#d9706a" fill-opacity="0.11"/><circle cx="560.6" cy="482.2" r="0.78" fill="#d9706a" fill-opacity="0.35"/><circle cx="541.9" cy="501.9" r="0.59" fill="#d9706a" fill-opacity="0.10"/><circle cx="544.3" cy="490.7" r="0.71" fill="#d9706a" fill-opacity="0.32"/><circle cx="505.6" cy="480.9" r="0.79" fill="#d9706a" fill-opacity="0.11"/><circle cx="503.5" cy="487.1" r="0.53" fill="#d9706a" fill-opacity="0.25"/><circle cx="542.1" cy="479.8" r="0.77" fill="#d9706a" fill-opacity="0.22"/><circle cx="514.5" cy="477.2" r="0.46" fill="#d9706a" fill-opacity="0.26"/><circle cx="564.7" cy="507.5" r="0.64" fill="#d9706a" fill-opacity="0.17"/><circle cx="540.0" cy="486.8" r="0.79" fill="#d9706a" fill-opacity="0.21"/><circle cx="570.0" cy="505.2" r="0.55" fill="#d9706a" fill-opacity="0.33"/><circle cx="498.5" cy="495.5" r="0.64" fill="#d9706a" fill-opacity="0.16"/><circle cx="496.0" cy="496.4" r="0.96" fill="#d9706a" fill-opacity="0.14"/><circle cx="511.0" cy="499.2" r="0.70" fill="#d9706a" fill-opacity="0.26"/><circle cx="560.1" cy="478.4" r="0.59" fill="#d9706a" fill-opacity="0.18"/><circle cx="557.6" cy="504.3" r="0.40" fill="#d9706a" fill-opacity="0.31"/><circle cx="554.6" cy="492.3" r="0.85" fill="#d9706a" fill-opacity="0.21"/><circle cx="513.1" cy="475.1" r="0.54" fill="#d9706a" fill-opacity="0.11"/><circle cx="521.8" cy="506.0" r="0.82" fill="#d9706a" fill-opacity="0.31"/><circle cx="551.9" cy="482.8" r="0.73" fill="#d9706a" fill-opacity="0.21"/><circle cx="558.1" cy="495.1" r="0.56" fill="#d9706a" fill-opacity="0.26"/><circle cx="515.8" cy="481.3" r="0.85" fill="#d9706a" fill-opacity="0.34"/><circle cx="554.7" cy="485.7" r="0.93" fill="#d9706a" fill-opacity="0.18"/><circle cx="514.1" cy="513.6" r="0.78" fill="#d9706a" fill-opacity="0.27"/><circle cx="532.6" cy="510.3" r="0.82" fill="#d9706a" fill-opacity="0.31"/><circle cx="530.0" cy="504.8" r="0.74" fill="#d9706a" fill-opacity="0.18"/><circle cx="512.0" cy="499.9" r="0.45" fill="#d9706a" fill-opacity="0.33"/><circle cx="522.6" cy="476.8" r="0.42" fill="#d9706a" fill-opacity="0.11"/><circle cx="550.4" cy="500.4" r="0.82" fill="#d9706a" fill-opacity="0.28"/><circle cx="500.3" cy="498.3" r="0.62" fill="#d9706a" fill-opacity="0.30"/><circle cx="503.6" cy="479.9" r="0.47" fill="#d9706a" fill-opacity="0.11"/><circle cx="562.8" cy="509.0" r="0.78" fill="#d9706a" fill-opacity="0.31"/><circle cx="545.5" cy="483.8" r="0.46" fill="#d9706a" fill-opacity="0.12"/><circle cx="555.6" cy="479.8" r="0.59" fill="#d9706a" fill-opacity="0.21"/><circle cx="517.6" cy="504.4" r="0.62" fill="#d9706a" fill-opacity="0.18"/><circle cx="572.1" cy="494.2" r="0.91" fill="#d9706a" fill-opacity="0.25"/><circle cx="497.5" cy="489.8" r="0.66" fill="#d9706a" fill-opacity="0.29"/><circle cx="522.7" cy="503.8" r="0.72" fill="#d9706a" fill-opacity="0.15"/><circle cx="560.6" cy="478.2" r="0.40" fill="#d9706a" fill-opacity="0.15"/><circle cx="495.3" cy="493.6" r="0.69" fill="#d9706a" fill-opacity="0.30"/><circle cx="509.8" cy="493.7" r="0.61" fill="#d9706a" fill-opacity="0.31"/><circle cx="517.7" cy="480.3" r="0.82" fill="#d9706a" fill-opacity="0.22"/><circle cx="503.8" cy="500.6" r="0.45" fill="#d9706a" fill-opacity="0.30"/><circle cx="550.8" cy="507.8" r="0.78" fill="#d9706a" fill-opacity="0.19"/><circle cx="527.1" cy="488.9" r="0.93" fill="#d9706a" fill-opacity="0.12"/><circle cx="511.5" cy="482.6" r="0.94" fill="#d9706a" fill-opacity="0.23"/><circle cx="525.3" cy="512.4" r="0.54" fill="#d9706a" fill-opacity="0.22"/><circle cx="537.5" cy="506.2" r="0.85" fill="#d9706a" fill-opacity="0.26"/><circle cx="522.9" cy="485.7" r="0.49" fill="#d9706a" fill-opacity="0.31"/><circle cx="548.0" cy="505.6" r="0.50" fill="#d9706a" fill-opacity="0.21"/><circle cx="556.9" cy="497.8" r="0.48" fill="#d9706a" fill-opacity="0.22"/><circle cx="565.8" cy="481.4" r="0.51" fill="#d9706a" fill-opacity="0.18"/><circle cx="551.3" cy="510.5" r="0.49" fill="#d9706a" fill-opacity="0.14"/><circle cx="514.8" cy="485.7" r="0.71" fill="#d9706a" fill-opacity="0.14"/><circle cx="521.2" cy="479.1" r="0.99" fill="#d9706a" fill-opacity="0.28"/><circle cx="503.1" cy="488.4" r="0.99" fill="#d9706a" fill-opacity="0.30"/><circle cx="553.7" cy="490.9" r="0.52" fill="#d9706a" fill-opacity="0.26"/><circle cx="503.5" cy="479.9" r="0.63" fill="#d9706a" fill-opacity="0.11"/><circle cx="526.9" cy="508.0" r="0.82" fill="#d9706a" fill-opacity="0.23"/><circle cx="545.6" cy="492.2" r="0.49" fill="#d9706a" fill-opacity="0.25"/><circle cx="527.4" cy="505.6" r="0.94" fill="#d9706a" fill-opacity="0.21"/><circle cx="540.9" cy="506.0" r="0.65" fill="#d9706a" fill-opacity="0.16"/><circle cx="552.8" cy="512.2" r="0.86" fill="#d9706a" fill-opacity="0.28"/><circle cx="563.2" cy="502.6" r="0.78" fill="#d9706a" fill-opacity="0.21"/><circle cx="520.0" cy="500.2" r="0.46" fill="#d9706a" fill-opacity="0.20"/><circle cx="557.6" cy="504.2" r="0.78" fill="#d9706a" fill-opacity="0.16"/><circle cx="528.9" cy="491.8" r="0.77" fill="#d9706a" fill-opacity="0.20"/><circle cx="549.0" cy="514.6" r="0.51" fill="#d9706a" fill-opacity="0.26"/><circle cx="557.3" cy="488.7" r="0.69" fill="#d9706a" fill-opacity="0.34"/><circle cx="498.1" cy="496.1" r="0.50" fill="#d9706a" fill-opacity="0.30"/><circle cx="570.2" cy="494.9" r="0.46" fill="#d9706a" fill-opacity="0.24"/><circle cx="538.3" cy="504.4" r="0.71" fill="#d9706a" fill-opacity="0.26"/><circle cx="561.3" cy="495.0" r="0.65" fill="#d9706a" fill-opacity="0.34"/><circle cx="511.8" cy="502.8" r="0.64" fill="#d9706a" fill-opacity="0.29"/><circle cx="523.4" cy="472.7" r="0.56" fill="#d9706a" fill-opacity="0.20"/><circle cx="496.1" cy="490.1" r="0.65" fill="#d9706a" fill-opacity="0.27"/><circle cx="523.2" cy="482.7" r="0.53" fill="#d9706a" fill-opacity="0.29"/><circle cx="570.2" cy="495.3" r="0.53" fill="#d9706a" fill-opacity="0.30"/><circle cx="526.4" cy="480.2" r="0.48" fill="#d9706a" fill-opacity="0.29"/><circle cx="559.8" cy="500.4" r="0.68" fill="#d9706a" fill-opacity="0.24"/><circle cx="523.3" cy="500.7" r="0.89" fill="#d9706a" fill-opacity="0.30"/><circle cx="532.4" cy="484.1" r="0.73" fill="#d9706a" fill-opacity="0.13"/><circle cx="561.7" cy="487.0" r="0.91" fill="#d9706a" fill-opacity="0.17"/><circle cx="525.1" cy="482.2" r="0.66" fill="#d9706a" fill-opacity="0.15"/><circle cx="517.5" cy="481.8" r="0.58" fill="#d9706a" fill-opacity="0.22"/><circle cx="529.3" cy="500.6" r="0.80" fill="#d9706a" fill-opacity="0.19"/><circle cx="567.5" cy="507.6" r="0.48" fill="#d9706a" fill-opacity="0.31"/><circle cx="547.5" cy="482.0" r="0.46" fill="#d9706a" fill-opacity="0.14"/><circle cx="513.7" cy="507.3" r="0.61" fill="#d9706a" fill-opacity="0.14"/><circle cx="567.3" cy="508.0" r="0.50" fill="#d9706a" fill-opacity="0.32"/><circle cx="543.7" cy="507.5" r="0.80" fill="#d9706a" fill-opacity="0.32"/><circle cx="558.0" cy="510.3" r="0.52" fill="#d9706a" fill-opacity="0.27"/><circle cx="537.5" cy="505.6" r="0.66" fill="#d9706a" fill-opacity="0.32"/><circle cx="539.4" cy="482.7" r="0.54" fill="#d9706a" fill-opacity="0.13"/><circle cx="534.4" cy="472.8" r="0.68" fill="#d9706a" fill-opacity="0.14"/><circle cx="534.3" cy="493.9" r="0.72" fill="#d9706a" fill-opacity="0.32"/><circle cx="532.4" cy="497.0" r="0.80" fill="#d9706a" fill-opacity="0.31"/><circle cx="525.0" cy="490.1" r="0.98" fill="#d9706a" fill-opacity="0.12"/><circle cx="546.0" cy="500.5" r="0.42" fill="#d9706a" fill-opacity="0.25"/><circle cx="549.6" cy="514.7" r="0.60" fill="#d9706a" fill-opacity="0.35"/><circle cx="535.9" cy="493.3" r="0.94" fill="#d9706a" fill-opacity="0.11"/><circle cx="552.5" cy="500.0" r="0.60" fill="#d9706a" fill-opacity="0.32"/><circle cx="524.3" cy="492.8" r="0.72" fill="#d9706a" fill-opacity="0.29"/><circle cx="511.9" cy="490.9" r="0.65" fill="#d9706a" fill-opacity="0.24"/><circle cx="561.1" cy="484.1" r="0.90" fill="#d9706a" fill-opacity="0.20"/><circle cx="535.3" cy="483.0" r="0.70" fill="#d9706a" fill-opacity="0.34"/><circle cx="547.4" cy="508.0" r="0.60" fill="#d9706a" fill-opacity="0.18"/><circle cx="518.9" cy="498.1" r="0.78" fill="#d9706a" fill-opacity="0.30"/><circle cx="565.8" cy="496.2" r="0.43" fill="#d9706a" fill-opacity="0.18"/><circle cx="568.7" cy="499.2" r="0.79" fill="#d9706a" fill-opacity="0.30"/><circle cx="567.8" cy="499.4" r="0.77" fill="#d9706a" fill-opacity="0.26"/><circle cx="550.7" cy="498.6" r="0.81" fill="#d9706a" fill-opacity="0.15"/><circle cx="548.4" cy="492.0" r="0.86" fill="#d9706a" fill-opacity="0.13"/><circle cx="557.0" cy="513.9" r="0.79" fill="#d9706a" fill-opacity="0.19"/><circle cx="560.8" cy="507.8" r="0.74" fill="#d9706a" fill-opacity="0.16"/><circle cx="519.2" cy="490.2" r="0.59" fill="#d9706a" fill-opacity="0.21"/><circle cx="546.3" cy="514.8" r="0.43" fill="#d9706a" fill-opacity="0.24"/><circle cx="559.8" cy="497.6" r="0.95" fill="#d9706a" fill-opacity="0.21"/><circle cx="496.1" cy="488.6" r="0.76" fill="#d9706a" fill-opacity="0.33"/><circle cx="573.5" cy="492.8" r="0.65" fill="#d9706a" fill-opacity="0.13"/><circle cx="546.6" cy="480.2" r="0.49" fill="#d9706a" fill-opacity="0.10"/><circle cx="552.5" cy="481.6" r="0.84" fill="#d9706a" fill-opacity="0.15"/><circle cx="552.1" cy="511.1" r="0.84" fill="#d9706a" fill-opacity="0.12"/><circle cx="545.3" cy="504.0" r="0.68" fill="#d9706a" fill-opacity="0.33"/><circle cx="519.9" cy="505.0" r="0.50" fill="#d9706a" fill-opacity="0.32"/><circle cx="533.9" cy="472.9" r="0.62" fill="#d9706a" fill-opacity="0.24"/><circle cx="530.1" cy="502.5" r="0.49" fill="#d9706a" fill-opacity="0.30"/><circle cx="524.1" cy="501.0" r="0.78" fill="#d9706a" fill-opacity="0.20"/><circle cx="525.9" cy="507.7" r="0.97" fill="#d9706a" fill-opacity="0.30"/><circle cx="540.3" cy="484.0" r="0.44" fill="#d9706a" fill-opacity="0.34"/><circle cx="551.3" cy="509.7" r="0.60" fill="#d9706a" fill-opacity="0.25"/><circle cx="543.1" cy="484.8" r="0.66" fill="#d9706a" fill-opacity="0.32"/><circle cx="525.1" cy="502.9" r="0.76" fill="#d9706a" fill-opacity="0.32"/><circle cx="559.6" cy="483.6" r="0.40" fill="#d9706a" fill-opacity="0.17"/><circle cx="528.8" cy="498.2" r="0.89" fill="#d9706a" fill-opacity="0.32"/><circle cx="559.9" cy="511.6" r="0.74" fill="#d9706a" fill-opacity="0.17"/><circle cx="563.1" cy="508.7" r="0.81" fill="#d9706a" fill-opacity="0.33"/><circle cx="522.7" cy="474.1" r="0.73" fill="#d9706a" fill-opacity="0.30"/><circle cx="511.0" cy="506.0" r="0.96" fill="#d9706a" fill-opacity="0.16"/><circle cx="543.6" cy="502.5" r="0.68" fill="#d9706a" fill-opacity="0.15"/><circle cx="515.4" cy="506.1" r="0.87" fill="#d9706a" fill-opacity="0.21"/><circle cx="556.8" cy="481.2" r="0.75" fill="#d9706a" fill-opacity="0.32"/><circle cx="565.8" cy="495.0" r="0.69" fill="#d9706a" fill-opacity="0.25"/><circle cx="510.1" cy="479.2" r="0.51" fill="#d9706a" fill-opacity="0.28"/><circle cx="524.0" cy="497.1" r="0.64" fill="#d9706a" fill-opacity="0.23"/><circle cx="503.5" cy="500.4" r="0.87" fill="#d9706a" fill-opacity="0.14"/><circle cx="296.8" cy="488.8" r="0.66" fill="#d98c85" fill-opacity="0.10"/><circle cx="315.6" cy="494.5" r="0.68" fill="#d98c85" fill-opacity="0.14"/><circle cx="309.5" cy="492.0" r="0.87" fill="#d98c85" fill-opacity="0.22"/><circle cx="269.1" cy="482.2" r="0.44" fill="#d98c85" fill-opacity="0.11"/><circle cx="294.0" cy="509.8" r="0.63" fill="#d98c85" fill-opacity="0.24"/><circle cx="296.9" cy="490.9" r="0.46" fill="#d98c85" fill-opacity="0.24"/><circle cx="273.0" cy="497.6" r="0.72" fill="#d98c85" fill-opacity="0.24"/><circle cx="301.9" cy="490.7" r="0.62" fill="#d98c85" fill-opacity="0.12"/><circle cx="272.9" cy="489.1" r="0.85" fill="#d98c85" fill-opacity="0.24"/><circle cx="310.0" cy="503.4" r="0.72" fill="#d98c85" fill-opacity="0.25"/><circle cx="302.4" cy="487.0" r="0.70" fill="#d98c85" fill-opacity="0.21"/><circle cx="262.4" cy="488.0" r="0.53" fill="#d98c85" fill-opacity="0.12"/><circle cx="288.7" cy="481.7" r="0.52" fill="#d98c85" fill-opacity="0.12"/><circle cx="305.2" cy="482.8" r="0.42" fill="#d98c85" fill-opacity="0.24"/><circle cx="264.8" cy="492.9" r="0.45" fill="#d98c85" fill-opacity="0.24"/><circle cx="314.0" cy="500.1" r="0.63" fill="#d98c85" fill-opacity="0.15"/><circle cx="312.6" cy="494.1" r="0.71" fill="#d98c85" fill-opacity="0.12"/><circle cx="305.0" cy="497.1" r="0.47" fill="#d98c85" fill-opacity="0.23"/><circle cx="273.6" cy="491.5" r="0.48" fill="#d98c85" fill-opacity="0.14"/><circle cx="313.8" cy="488.4" r="0.48" fill="#d98c85" fill-opacity="0.17"/><circle cx="277.3" cy="511.1" r="0.46" fill="#d98c85" fill-opacity="0.25"/><circle cx="301.8" cy="483.4" r="0.64" fill="#d98c85" fill-opacity="0.14"/><circle cx="273.0" cy="483.1" r="0.58" fill="#d98c85" fill-opacity="0.25"/><circle cx="261.8" cy="486.6" r="0.85" fill="#d98c85" fill-opacity="0.11"/><circle cx="305.9" cy="486.7" r="0.89" fill="#d98c85" fill-opacity="0.10"/><circle cx="311.5" cy="488.6" r="0.47" fill="#d98c85" fill-opacity="0.10"/><circle cx="313.3" cy="496.1" r="0.49" fill="#d98c85" fill-opacity="0.17"/><circle cx="318.8" cy="483.7" r="0.69" fill="#d98c85" fill-opacity="0.12"/><circle cx="267.6" cy="505.8" r="0.76" fill="#d98c85" fill-opacity="0.13"/><circle cx="297.6" cy="494.8" r="0.54" fill="#d98c85" fill-opacity="0.13"/><circle cx="297.9" cy="503.3" r="0.81" fill="#d98c85" fill-opacity="0.19"/><circle cx="306.3" cy="491.3" r="0.76" fill="#d98c85" fill-opacity="0.11"/><circle cx="311.7" cy="488.4" r="0.82" fill="#d98c85" fill-opacity="0.23"/><circle cx="289.5" cy="475.6" r="0.86" fill="#d98c85" fill-opacity="0.17"/><circle cx="316.0" cy="485.7" r="0.49" fill="#d98c85" fill-opacity="0.22"/><circle cx="280.7" cy="481.5" r="0.59" fill="#d98c85" fill-opacity="0.19"/><circle cx="255.3" cy="495.8" r="0.62" fill="#d98c85" fill-opacity="0.18"/><circle cx="263.5" cy="503.6" r="0.81" fill="#d98c85" fill-opacity="0.23"/><circle cx="277.5" cy="503.4" r="0.59" fill="#d98c85" fill-opacity="0.21"/><circle cx="321.8" cy="494.8" r="0.66" fill="#d98c85" fill-opacity="0.18"/><circle cx="292.6" cy="475.8" r="0.88" fill="#d98c85" fill-opacity="0.13"/><circle cx="272.5" cy="507.7" r="0.42" fill="#d98c85" fill-opacity="0.11"/><circle cx="303.9" cy="482.8" r="0.41" fill="#d98c85" fill-opacity="0.19"/><circle cx="295.4" cy="495.9" r="0.75" fill="#d98c85" fill-opacity="0.12"/><circle cx="315.9" cy="503.7" r="0.42" fill="#d98c85" fill-opacity="0.12"/><circle cx="289.6" cy="495.0" r="0.54" fill="#d98c85" fill-opacity="0.12"/><circle cx="283.4" cy="480.5" r="0.70" fill="#d98c85" fill-opacity="0.23"/><circle cx="265.3" cy="497.9" r="0.77" fill="#d98c85" fill-opacity="0.12"/><circle cx="282.2" cy="491.8" r="0.82" fill="#d98c85" fill-opacity="0.18"/><circle cx="282.7" cy="512.7" r="0.79" fill="#d98c85" fill-opacity="0.15"/><circle cx="271.8" cy="488.4" r="0.62" fill="#d98c85" fill-opacity="0.25"/><circle cx="312.1" cy="508.9" r="0.43" fill="#d98c85" fill-opacity="0.18"/><circle cx="272.4" cy="491.9" r="0.72" fill="#d98c85" fill-opacity="0.15"/><circle cx="292.2" cy="477.8" r="0.62" fill="#d98c85" fill-opacity="0.18"/><circle cx="320.6" cy="500.3" r="0.80" fill="#d98c85" fill-opacity="0.23"/><circle cx="299.9" cy="485.6" r="0.74" fill="#d98c85" fill-opacity="0.14"/><circle cx="293.0" cy="512.0" r="0.71" fill="#d98c85" fill-opacity="0.14"/><circle cx="291.4" cy="492.3" r="0.88" fill="#d98c85" fill-opacity="0.14"/><circle cx="276.4" cy="500.9" r="0.46" fill="#d98c85" fill-opacity="0.19"/><circle cx="321.9" cy="495.6" r="0.53" fill="#d98c85" fill-opacity="0.17"/><circle cx="194.2" cy="255.7" r="0.47" fill="#d9534f" fill-opacity="0.40"/><circle cx="186.0" cy="260.3" r="0.57" fill="#d9534f" fill-opacity="0.45"/><circle cx="179.0" cy="262.8" r="0.90" fill="#d9534f" fill-opacity="0.59"/><circle cx="195.4" cy="264.7" r="0.52" fill="#d9534f" fill-opacity="0.63"/><circle cx="191.7" cy="262.9" r="0.77" fill="#d9534f" fill-opacity="0.54"/><circle cx="186.6" cy="257.4" r="0.53" fill="#d9534f" fill-opacity="0.55"/><circle cx="189.0" cy="263.5" r="0.41" fill="#d9534f" fill-opacity="0.49"/><circle cx="205.3" cy="257.3" r="0.73" fill="#d9534f" fill-opacity="0.55"/><circle cx="186.0" cy="266.9" r="0.50" fill="#d9534f" fill-opacity="0.38"/><circle cx="205.6" cy="260.9" r="0.44" fill="#d9534f" fill-opacity="0.51"/><circle cx="191.0" cy="266.2" r="0.47" fill="#d9534f" fill-opacity="0.44"/><circle cx="181.3" cy="259.1" r="0.61" fill="#d9534f" fill-opacity="0.62"/><circle cx="197.0" cy="268.3" r="0.89" fill="#d9534f" fill-opacity="0.56"/><circle cx="201.1" cy="266.4" r="0.86" fill="#d9534f" fill-opacity="0.54"/><circle cx="202.7" cy="265.8" r="0.95" fill="#d9534f" fill-opacity="0.40"/><circle cx="202.0" cy="263.5" r="0.70" fill="#d9534f" fill-opacity="0.74"/><circle cx="195.4" cy="260.5" r="0.87" fill="#d9534f" fill-opacity="0.70"/><circle cx="196.6" cy="259.8" r="0.67" fill="#d9534f" fill-opacity="0.53"/><circle cx="200.6" cy="258.3" r="0.63" fill="#d9534f" fill-opacity="0.57"/><circle cx="189.1" cy="258.8" r="0.87" fill="#d9534f" fill-opacity="0.69"/><circle cx="193.0" cy="261.0" r="0.51" fill="#d9534f" fill-opacity="0.47"/><circle cx="180.9" cy="263.4" r="0.75" fill="#d9534f" fill-opacity="0.39"/><circle cx="207.3" cy="258.8" r="0.91" fill="#d9534f" fill-opacity="0.69"/><circle cx="190.5" cy="269.4" r="0.41" fill="#d9534f" fill-opacity="0.37"/><circle cx="195.2" cy="262.0" r="0.95" fill="#d9534f" fill-opacity="0.66"/><circle cx="194.3" cy="271.0" r="0.71" fill="#d9534f" fill-opacity="0.56"/><circle cx="199.3" cy="260.0" r="0.61" fill="#d9534f" fill-opacity="0.59"/><circle cx="187.9" cy="270.1" r="0.81" fill="#d9534f" fill-opacity="0.56"/><circle cx="179.4" cy="259.7" r="0.64" fill="#d9534f" fill-opacity="0.57"/><circle cx="195.5" cy="268.8" r="0.98" fill="#d9534f" fill-opacity="0.54"/><circle cx="191.0" cy="264.2" r="1.00" fill="#d9534f" fill-opacity="0.49"/><circle cx="194.0" cy="267.7" r="0.50" fill="#d9534f" fill-opacity="0.48"/><circle cx="193.4" cy="255.0" r="0.94" fill="#d9534f" fill-opacity="0.63"/><circle cx="206.2" cy="260.6" r="0.49" fill="#d9534f" fill-opacity="0.47"/><circle cx="193.4" cy="262.1" r="0.51" fill="#d9534f" fill-opacity="0.42"/><circle cx="278.3" cy="292.1" r="0.61" fill="#d9534f" fill-opacity="0.75"/><circle cx="278.5" cy="280.8" r="0.65" fill="#d9534f" fill-opacity="0.67"/><circle cx="272.5" cy="293.8" r="0.40" fill="#d9534f" fill-opacity="0.47"/><circle cx="282.2" cy="291.7" r="0.80" fill="#d9534f" fill-opacity="0.43"/><circle cx="276.0" cy="291.1" r="0.56" fill="#d9534f" fill-opacity="0.61"/><circle cx="276.6" cy="299.9" r="0.74" fill="#d9534f" fill-opacity="0.51"/><circle cx="280.7" cy="282.1" r="0.46" fill="#d9534f" fill-opacity="0.42"/><circle cx="276.4" cy="296.5" r="0.77" fill="#d9534f" fill-opacity="0.67"/><circle cx="280.9" cy="286.5" r="0.83" fill="#d9534f" fill-opacity="0.49"/><circle cx="270.0" cy="285.3" r="0.46" fill="#d9534f" fill-opacity="0.71"/><circle cx="277.5" cy="287.0" r="0.67" fill="#d9534f" fill-opacity="0.50"/><circle cx="277.5" cy="299.2" r="0.66" fill="#d9534f" fill-opacity="0.60"/><circle cx="272.7" cy="298.0" r="0.89" fill="#d9534f" fill-opacity="0.47"/><circle cx="277.8" cy="299.2" r="0.70" fill="#d9534f" fill-opacity="0.73"/><circle cx="271.4" cy="287.8" r="0.83" fill="#d9534f" fill-opacity="0.44"/><circle cx="272.6" cy="297.5" r="0.69" fill="#d9534f" fill-opacity="0.67"/><circle cx="271.4" cy="283.5" r="0.62" fill="#d9534f" fill-opacity="0.42"/><circle cx="277.1" cy="282.3" r="0.72" fill="#d9534f" fill-opacity="0.50"/><circle cx="274.3" cy="281.3" r="0.47" fill="#d9534f" fill-opacity="0.68"/><circle cx="273.3" cy="284.9" r="0.51" fill="#d9534f" fill-opacity="0.46"/><circle cx="279.0" cy="286.8" r="0.49" fill="#d9534f" fill-opacity="0.63"/><circle cx="268.7" cy="285.4" r="0.90" fill="#d9534f" fill-opacity="0.40"/><circle cx="275.0" cy="296.7" r="0.88" fill="#d9534f" fill-opacity="0.41"/><circle cx="273.4" cy="294.4" r="0.63" fill="#d9534f" fill-opacity="0.73"/><circle cx="276.1" cy="284.5" r="0.67" fill="#d9534f" fill-opacity="0.40"/><circle cx="279.7" cy="285.2" r="0.94" fill="#d9534f" fill-opacity="0.59"/><circle cx="273.6" cy="284.9" r="0.76" fill="#d9534f" fill-opacity="0.44"/><circle cx="276.2" cy="290.9" r="0.56" fill="#d9534f" fill-opacity="0.66"/><circle cx="273.9" cy="293.2" r="0.74" fill="#d9534f" fill-opacity="0.47"/><circle cx="274.0" cy="281.7" r="0.51" fill="#d9534f" fill-opacity="0.69"/><circle cx="192.4" cy="287.6" r="0.34" fill="#d9534f" fill-opacity="0.37"/><circle cx="193.2" cy="285.0" r="0.42" fill="#d9534f" fill-opacity="0.22"/><circle cx="192.2" cy="280.6" r="0.35" fill="#d9534f" fill-opacity="0.42"/><circle cx="191.6" cy="283.5" r="0.66" fill="#d9534f" fill-opacity="0.43"/><circle cx="188.6" cy="281.4" r="0.31" fill="#d9534f" fill-opacity="0.40"/><circle cx="199.3" cy="282.6" r="0.47" fill="#d9534f" fill-opacity="0.40"/><circle cx="200.0" cy="281.0" r="0.64" fill="#d9534f" fill-opacity="0.31"/><circle cx="198.6" cy="279.9" r="0.35" fill="#d9534f" fill-opacity="0.47"/><circle cx="200.7" cy="288.4" r="0.32" fill="#d9534f" fill-opacity="0.21"/><circle cx="189.2" cy="280.2" r="0.42" fill="#d9534f" fill-opacity="0.31"/><circle cx="186.8" cy="282.0" r="0.56" fill="#d9534f" fill-opacity="0.25"/><circle cx="202.8" cy="286.1" r="0.59" fill="#d9534f" fill-opacity="0.28"/><circle cx="194.7" cy="287.9" r="0.44" fill="#d9534f" fill-opacity="0.20"/><circle cx="202.7" cy="289.4" r="0.41" fill="#d9534f" fill-opacity="0.21"/><circle cx="830.6" cy="247.1" r="0.32" fill="#d9534f" fill-opacity="0.21"/><circle cx="797.9" cy="250.8" r="0.38" fill="#d9534f" fill-opacity="0.38"/><circle cx="826.0" cy="236.7" r="0.58" fill="#d9534f" fill-opacity="0.25"/><circle cx="825.9" cy="251.6" r="0.41" fill="#d9534f" fill-opacity="0.17"/><circle cx="834.6" cy="243.5" r="0.67" fill="#d9534f" fill-opacity="0.32"/><circle cx="825.5" cy="251.6" r="0.55" fill="#d9534f" fill-opacity="0.26"/><circle cx="795.4" cy="249.0" r="0.47" fill="#d9534f" fill-opacity="0.28"/><circle cx="823.9" cy="251.1" r="0.40" fill="#d9534f" fill-opacity="0.29"/><circle cx="835.7" cy="247.8" r="0.52" fill="#d9534f" fill-opacity="0.21"/><circle cx="795.6" cy="242.2" r="0.46" fill="#d9534f" fill-opacity="0.20"/><circle cx="806.7" cy="237.7" r="0.58" fill="#d9534f" fill-opacity="0.32"/><circle cx="803.5" cy="239.8" r="0.51" fill="#d9534f" fill-opacity="0.26"/><circle cx="834.2" cy="242.0" r="0.42" fill="#d9534f" fill-opacity="0.37"/><circle cx="799.2" cy="246.3" r="0.43" fill="#d9534f" fill-opacity="0.35"/><circle cx="817.1" cy="250.2" r="0.37" fill="#d9534f" fill-opacity="0.32"/><circle cx="819.3" cy="244.2" r="0.61" fill="#d9534f" fill-opacity="0.36"/><circle cx="798.0" cy="240.8" r="0.44" fill="#d9534f" fill-opacity="0.20"/><circle cx="795.7" cy="240.6" r="0.38" fill="#d9534f" fill-opacity="0.33"/><circle cx="812.7" cy="237.3" r="0.43" fill="#d9534f" fill-opacity="0.27"/><circle cx="809.0" cy="238.4" r="0.33" fill="#d9534f" fill-opacity="0.15"/><circle cx="810.0" cy="520.2" r="0.79" fill="#d9534f" fill-opacity="0.29"/><circle cx="811.5" cy="514.7" r="0.52" fill="#d9534f" fill-opacity="0.20"/><circle cx="837.6" cy="503.2" r="0.76" fill="#d9534f" fill-opacity="0.31"/><circle cx="842.7" cy="525.4" r="0.63" fill="#d9534f" fill-opacity="0.21"/><circle cx="819.8" cy="506.3" r="0.31" fill="#d9534f" fill-opacity="0.34"/><circle cx="855.4" cy="510.1" r="0.39" fill="#d9534f" fill-opacity="0.31"/><circle cx="815.1" cy="521.8" r="0.72" fill="#d9534f" fill-opacity="0.34"/><circle cx="824.6" cy="507.4" r="0.71" fill="#d9534f" fill-opacity="0.23"/><circle cx="827.1" cy="516.2" r="0.48" fill="#d9534f" fill-opacity="0.36"/><circle cx="839.0" cy="518.1" r="0.71" fill="#d9534f" fill-opacity="0.33"/><circle cx="834.7" cy="515.0" r="0.38" fill="#d9534f" fill-opacity="0.22"/><circle cx="839.9" cy="504.9" r="0.64" fill="#d9534f" fill-opacity="0.19"/><circle cx="831.6" cy="526.3" r="0.34" fill="#d9534f" fill-opacity="0.16"/><circle cx="831.4" cy="507.6" r="0.66" fill="#d9534f" fill-opacity="0.15"/><circle cx="855.4" cy="523.5" r="0.69" fill="#d9534f" fill-opacity="0.26"/><circle cx="822.0" cy="518.9" r="0.56" fill="#d9534f" fill-opacity="0.26"/><circle cx="825.3" cy="513.5" r="0.63" fill="#d9534f" fill-opacity="0.36"/><circle cx="822.7" cy="513.6" r="0.58" fill="#d9534f" fill-opacity="0.24"/><circle cx="824.4" cy="514.1" r="0.79" fill="#d9534f" fill-opacity="0.38"/><circle cx="862.7" cy="517.9" r="0.71" fill="#d9534f" fill-opacity="0.17"/><circle cx="845.6" cy="517.6" r="0.45" fill="#d9534f" fill-opacity="0.29"/><circle cx="862.2" cy="514.5" r="0.62" fill="#d9534f" fill-opacity="0.22"/><circle cx="825.6" cy="524.2" r="0.31" fill="#d9534f" fill-opacity="0.20"/><circle cx="845.7" cy="513.7" r="0.34" fill="#d9534f" fill-opacity="0.32"/><circle cx="827.3" cy="516.9" r="0.51" fill="#d9534f" fill-opacity="0.28"/><line x1="195.2" y1="257.4" x2="197.5" y2="256.5" stroke="#d9534f" stroke-width="0.8" stroke-opacity="0.66"/><line x1="194.6" y1="252.7" x2="199.8" y2="250.9" stroke="#d9534f" stroke-width="0.8" stroke-opacity="0.38"/><line x1="194.0" y1="255.1" x2="198.0" y2="254.7" stroke="#d9534f" stroke-width="0.8" stroke-opacity="0.43"/><line x1="195.5" y1="252.6" x2="199.5" y2="252.2" stroke="#d9534f" stroke-width="0.8" stroke-opacity="0.38"/><line x1="189.9" y1="252.6" x2="193.6" y2="253.0" stroke="#d9534f" stroke-width="0.8" stroke-opacity="0.54"/><line x1="200.3" y1="263.0" x2="202.7" y2="263.4" stroke="#d9534f" stroke-width="0.8" stroke-opacity="0.60"/><line x1="179.5" y1="266.7" x2="182.8" y2="265.4" stroke="#d9534f" stroke-width="0.8" stroke-opacity="0.69"/><line x1="195.1" y1="263.9" x2="197.7" y2="264.0" stroke="#d9534f" stroke-width="0.8" stroke-opacity="0.37"/><line x1="184.1" y1="258.4" x2="186.1" y2="258.2" stroke="#d9534f" stroke-width="0.8" stroke-opacity="0.42"/><line x1="186.2" y1="263.8" x2="189.9" y2="264.3" stroke="#d9534f" stroke-width="0.8" stroke-opacity="0.57"/><line x1="205.7" y1="259.0" x2="211.3" y2="259.6" stroke="#d9534f" stroke-width="0.8" stroke-opacity="0.41"/><line x1="201.3" y1="255.8" x2="206.4" y2="255.6" stroke="#d9534f" stroke-width="0.8" stroke-opacity="0.64"/><line x1="180.2" y1="258.8" x2="185.1" y2="259.6" stroke="#d9534f" stroke-width="0.8" stroke-opacity="0.60"/><line x1="177.5" y1="263.1" x2="179.9" y2="262.8" stroke="#d9534f" stroke-width="0.8" stroke-opacity="0.63"/><line x1="179.8" y1="268.3" x2="184.3" y2="266.8" stroke="#d9534f" stroke-width="0.8" stroke-opacity="0.42"/><line x1="191.2" y1="265.4" x2="195.1" y2="263.7" stroke="#d9534f" stroke-width="0.8" stroke-opacity="0.36"/><line x1="179.8" y1="266.2" x2="182.5" y2="265.9" stroke="#d9534f" stroke-width="0.8" stroke-opacity="0.45"/><line x1="199.4" y1="256.7" x2="201.9" y2="257.0" stroke="#d9534f" stroke-width="0.8" stroke-opacity="0.54"/><line x1="199.4" y1="263.9" x2="204.6" y2="261.2" stroke="#d9534f" stroke-width="0.8" stroke-opacity="0.47"/><line x1="181.1" y1="260.9" x2="186.6" y2="261.2" stroke="#d9534f" stroke-width="0.8" stroke-opacity="0.36"/><line x1="182.2" y1="266.2" x2="186.8" y2="265.1" stroke="#d9534f" stroke-width="0.8" stroke-opacity="0.52"/><line x1="181.4" y1="266.7" x2="184.9" y2="267.1" stroke="#d9534f" stroke-width="0.8" stroke-opacity="0.56"/><line x1="267.3" y1="286.3" x2="269.7" y2="286.8" stroke="#d9534f" stroke-width="0.8" stroke-opacity="0.56"/><line x1="266.7" y1="283.7" x2="269.2" y2="282.5" stroke="#d9534f" stroke-width="0.8" stroke-opacity="0.55"/><line x1="272.6" y1="286.7" x2="274.5" y2="286.1" stroke="#d9534f" stroke-width="0.8" stroke-opacity="0.47"/><line x1="266.3" y1="288.4" x2="268.1" y2="284.8" stroke="#d9534f" stroke-width="0.8" stroke-opacity="0.40"/><line x1="277.4" y1="285.4" x2="279.8" y2="284.4" stroke="#d9534f" stroke-width="0.8" stroke-opacity="0.44"/><line x1="275.7" y1="289.5" x2="279.3" y2="290.9" stroke="#d9534f" stroke-width="0.8" stroke-opacity="0.36"/><line x1="275.5" y1="293.3" x2="279.3" y2="293.5" stroke="#d9534f" stroke-width="0.8" stroke-opacity="0.57"/><line x1="276.8" y1="286.8" x2="279.3" y2="287.0" stroke="#d9534f" stroke-width="0.8" stroke-opacity="0.66"/><line x1="282.0" y1="291.9" x2="284.6" y2="292.0" stroke="#d9534f" stroke-width="0.8" stroke-opacity="0.61"/><line x1="274.7" y1="291.2" x2="277.2" y2="290.3" stroke="#d9534f" stroke-width="0.8" stroke-opacity="0.49"/></g>
<rect x="0" y="0" width="949" height="5.4" fill="#000"/><rect x="0" y="0" width="949" height="0.9" fill="#6c6c6c"/>
<text x="15.5" y="44.9" font-size="30" fill="#111" font-weight="bold" textLength="910.5" lengthAdjust="spacingAndGlyphs" stroke="#111" stroke-width="0.55">Junio-agosto 2023: tres meses de eventos climáticos excepcionales</text>
<text x="14.8" y="78.4" font-size="15.5" fill="#333" textLength="171.4" lengthAdjust="spacingAndGlyphs">Selección no exhaustiva</text>
<text x="15.2" y="107.3" font-size="17" fill="#222" font-weight="bold" textLength="202.6" lengthAdjust="spacingAndGlyphs">Récord de temperaturas</text>
<polygon points="236.20,97.04 231.44,99.57 231.44,104.63 236.20,107.16 240.96,104.63 240.96,99.57" fill="#d7361f"/>
<text x="249.8" y="107.5" font-size="16" fill="#333" textLength="89.9" lengthAdjust="spacingAndGlyphs">… en verano</text>
<polygon points="373.60,97.34 368.84,99.87 368.84,104.93 373.60,107.46 378.36,104.93 378.36,99.87" fill="#d7a31c"/>
<text x="386.2" y="107.5" font-size="16" fill="#333" textLength="85.5" lengthAdjust="spacingAndGlyphs">Ola de calor</text>
<polygon points="503.00,97.34 498.24,99.87 498.24,104.93 503.00,107.46 507.76,104.93 507.76,99.87" fill="#8e4fa3"/>
<text x="516.8" y="107.5" font-size="16" fill="#333" textLength="121.8" lengthAdjust="spacingAndGlyphs">Calor en invierno</text>
<polygon points="662.70,97.04 657.94,99.57 657.94,104.63 662.70,107.16 667.46,104.63 667.46,99.57" fill="#3d7ebf"/>
<text x="677.4" y="107.5" font-size="16" fill="#333" textLength="237.8" lengthAdjust="spacingAndGlyphs">… de la superficie de los océanos</text>
<circle cx="19.3" cy="130.2" r="3.9" fill="#ea9078"/>
<text x="29.5" y="135.9" font-size="17" fill="#222" font-weight="bold" textLength="189.5" lengthAdjust="spacingAndGlyphs">Incendios importantes</text>
<rect x="231.3" y="125.6" width="8.7" height="9" fill="#c8403a"/>
<text x="245.6" y="135.8" font-size="15.5" fill="#333" textLength="143.9" lengthAdjust="spacingAndGlyphs">Superficie quemada</text>
<circle cx="20.3" cy="158.2" r="4.0" fill="#1b6a8c"/>
<text x="31.0" y="163.9" font-size="17" fill="#222" font-weight="bold" textLength="247.7" lengthAdjust="spacingAndGlyphs">Monzón e importantes lluvias</text>
<rect x="543.8" y="134.3" width="254.4" height="51.6" rx="3" fill="#fff" stroke="#bdbdbd" stroke-width="1"/>
<polygon points="558.50,147.12 554.00,149.51 554.00,154.29 558.50,156.68 563.00,154.29 563.00,149.51" fill="#d7361f"/>
<text x="574.3" y="156.8" font-size="15.5" fill="#333" textLength="201.8" lengthAdjust="spacingAndGlyphs">El verano boreal de 2023 fue</text>
<text x="574.3" y="173.9" font-size="15.5" fill="#333" textLength="217.4" lengthAdjust="spacingAndGlyphs">el más cálido jamás registrado</text>
<text x="282.8" y="212.7" font-size="14.5" fill="#707070" text-anchor="middle" textLength="52.0" lengthAdjust="spacingAndGlyphs">Canadá</text>
<text x="283.5" y="231.5" font-size="15.5" fill="#222" stroke="#222" stroke-width="0.3" text-anchor="middle" textLength="125.7" lengthAdjust="spacingAndGlyphs">16,36 millones de</text>
<text x="283.4" y="247.3" font-size="15.5" fill="#222" stroke="#222" stroke-width="0.3" text-anchor="middle" textLength="149.1" lengthAdjust="spacingAndGlyphs">hectáreas quemadas</text>
<text x="168.4" y="321.8" font-size="14.5" fill="#707070" text-anchor="end" textLength="93.7" lengthAdjust="spacingAndGlyphs">Norteamérica</text>
<circle cx="178.4" cy="318.3" r="5.0" fill="#d7a31c"/>
<text x="168.8" y="341.8" font-size="15.5" fill="#222" stroke="#222" stroke-width="0.3" text-anchor="end" textLength="96.8" lengthAdjust="spacingAndGlyphs">Temperaturas</text>
<text x="168.5" y="358.7" font-size="15.5" fill="#222" stroke="#222" stroke-width="0.3" text-anchor="end" textLength="79.8" lengthAdjust="spacingAndGlyphs">por encima</text>
<text x="168.5" y="375.3" font-size="15.5" fill="#222" stroke="#222" stroke-width="0.3" text-anchor="end" textLength="81.4" lengthAdjust="spacingAndGlyphs">de los 40 °C</text>
<circle cx="23.7" cy="391.7" r="3.3" fill="#ea9078"/>
<text x="15.5" y="417.9" font-size="14.5" fill="#707070" textLength="42.3" lengthAdjust="spacingAndGlyphs">Hawái</text>
<text x="14.8" y="437.4" font-size="15.5" fill="#222" stroke="#222" stroke-width="0.3" textLength="94.7" lengthAdjust="spacingAndGlyphs">Al menos 115</text>
<text x="14.8" y="454.3" font-size="15.5" fill="#222" stroke="#222" stroke-width="0.3" textLength="128.2" lengthAdjust="spacingAndGlyphs">fallecidos, cientos</text>
<text x="14.8" y="471.0" font-size="15.5" fill="#222" stroke="#222" stroke-width="0.3" textLength="125.8" lengthAdjust="spacingAndGlyphs">de desaparecidos</text>
<polygon points="309.30,401.82 304.80,404.21 304.80,408.99 309.30,411.38 313.80,408.99 313.80,404.21" fill="#3d7ebf"/>
<text x="319.5" y="412.0" font-size="15.5" fill="#222" stroke="#222" stroke-width="0.3" textLength="57.6" lengthAdjust="spacingAndGlyphs">21,02 °C</text>
<text x="319.5" y="428.9" font-size="15.5" fill="#222" stroke="#222" stroke-width="0.3" textLength="65.7" lengthAdjust="spacingAndGlyphs">el 23 y 24</text>
<text x="319.5" y="445.0" font-size="15.5" fill="#222" stroke="#222" stroke-width="0.3" textLength="69.2" lengthAdjust="spacingAndGlyphs">de agosto</text>
<text x="316.3" y="512.0" font-size="14.5" fill="#707070" textLength="114.7" lengthAdjust="spacingAndGlyphs">Sao Paulo, Brasil</text>
<text x="316.3" y="528.8" font-size="15.5" fill="#222" stroke="#222" stroke-width="0.3" textLength="69.0" lengthAdjust="spacingAndGlyphs">+ de 30 °C</text>
<text x="180.3" y="539.2" font-size="14.5" fill="#707070" textLength="103" lengthAdjust="spacingAndGlyphs">Santiago, Chile</text>
<circle cx="438.8" cy="336.2" r="3.4" fill="#ea8a6e"/>
<circle cx="474.2" cy="338.5" r="3.4" fill="#ea8a6e"/>
<circle cx="484.6" cy="338.0" r="3.4" fill="#ea8a6e"/>
<circle cx="496.4" cy="334.2" r="3.4" fill="#ea8a6e"/>
<circle cx="513.6" cy="328.7" r="3.4" fill="#ea8a6e"/>
<circle cx="529.8" cy="324.6" r="3.4" fill="#ea8a6e"/>
<circle cx="536.4" cy="341.3" r="3.4" fill="#ea8a6e"/>
<circle cx="416.1" cy="366.6" r="3.4" fill="#ea8a6e"/>
<text x="429.5" y="339.5" font-size="14.5" fill="#707070" text-anchor="end" textLength="56.9" lengthAdjust="spacingAndGlyphs">Portugal</text>
<text x="472.0" y="326.9" font-size="14.5" fill="#707070" textLength="33.3" lengthAdjust="spacingAndGlyphs">Italia</text>
<text x="542.4" y="309.7" font-size="14.5" fill="#707070" textLength="42.5" lengthAdjust="spacingAndGlyphs">Grecia</text>
<text x="433.3" y="355.2" font-size="14.5" fill="#707070" textLength="45.4" lengthAdjust="spacingAndGlyphs">Argelia</text>
<text x="485.6" y="355.2" font-size="14.5" fill="#707070" textLength="39.9" lengthAdjust="spacingAndGlyphs">Túnez</text>
<text x="409.3" y="370.3" font-size="14.5" fill="#707070" text-anchor="end" textLength="55.8" lengthAdjust="spacingAndGlyphs">Tenerife</text>
<circle cx="767.5" cy="328.3" r="4.1" fill="#1b6a8c"/>
<text x="758.2" y="332.4" font-size="14.5" fill="#707070" text-anchor="end" textLength="39.7" lengthAdjust="spacingAndGlyphs">China</text>
<circle cx="802.0" cy="338.4" r="4.1" fill="#1b6a8c"/>
<text x="801.8" y="311.9" font-size="14.5" fill="#707070" text-anchor="middle" textLength="39.1" lengthAdjust="spacingAndGlyphs">Corea</text>
<text x="802.4" y="328.3" font-size="14.5" fill="#707070" text-anchor="middle" textLength="48.4" lengthAdjust="spacingAndGlyphs">del Sur</text>
<polygon points="831.00,332.75 826.15,335.32 826.15,340.48 831.00,343.05 835.85,340.48 835.85,335.32" fill="#d7361f"/>
<text x="841.2" y="342.0" font-size="14.5" fill="#707070" textLength="42.4" lengthAdjust="spacingAndGlyphs">Japón</text>
<circle cx="659.2" cy="362.5" r="4.1" fill="#1b6a8c"/>
<text x="648.8" y="354.9" font-size="14.5" fill="#707070" textLength="56.9" lengthAdjust="spacingAndGlyphs">Pakistán</text>
<polygon points="779.60,382.05 774.75,384.62 774.75,389.78 779.60,392.35 784.45,389.78 784.45,384.62" fill="#d7361f"/>
<text x="789.2" y="394.0" font-size="14.5" fill="#707070" textLength="77.4" lengthAdjust="spacingAndGlyphs">Hong Kong</text>
<polygon points="680.50,397.05 675.65,399.62 675.65,404.78 680.50,407.35 685.35,404.78 685.35,399.62" fill="#d7361f"/>
<text x="682.2" y="422.7" font-size="14.5" fill="#707070" text-anchor="middle" textLength="33.3" lengthAdjust="spacingAndGlyphs">India</text>
<path d="M217,224.2 Q193,226 192.3,250.5" fill="none" stroke="#333" stroke-width="1.6" stroke-linecap="round" stroke-dasharray="0.1 3.2"/>
<path d="M276.8,256 Q277.5,268 275.8,279" fill="none" stroke="#333" stroke-width="1.6" stroke-linecap="round" stroke-dasharray="0.1 3.2"/>
<path d="M540,308.6 Q522,307 513.9,325.5" fill="none" stroke="#333" stroke-width="1.6" stroke-linecap="round" stroke-dasharray="0.1 3.2"/>
<path d="M538.2,309.5 Q533,314 530.6,321.5" fill="none" stroke="#333" stroke-width="1.6" stroke-linecap="round" stroke-dasharray="0.1 3.2"/>
<path d="M543,310 Q552,320 537.5,338" fill="none" stroke="#333" stroke-width="1.6" stroke-linecap="round" stroke-dasharray="0.1 3.2"/>
</svg>
</body></html>
